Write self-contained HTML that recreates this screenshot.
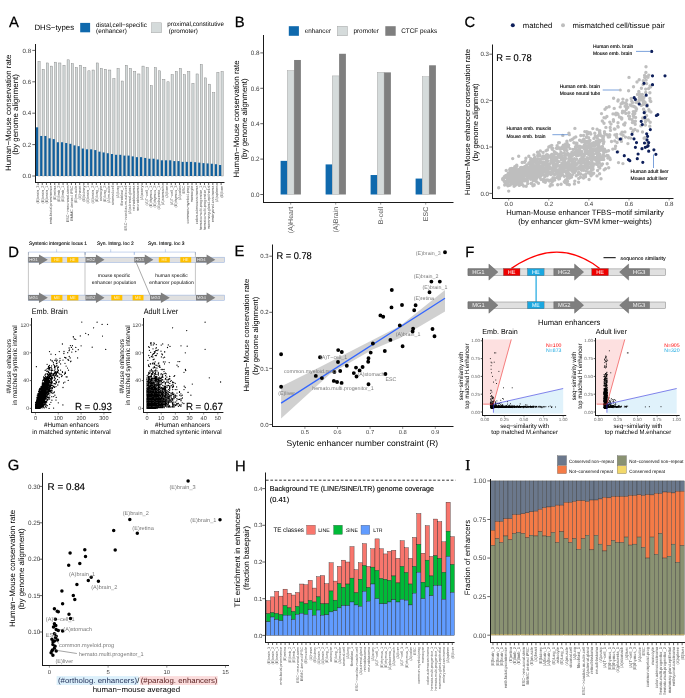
<!DOCTYPE html>
<html><head><meta charset="utf-8"><style>
html,body{margin:0;padding:0;background:#fff;}
body{width:685px;height:698px;overflow:hidden;}
svg{display:block;font-family:"Liberation Sans",sans-serif;will-change:transform;text-rendering:geometricPrecision;}
</style></head><body>
<svg width="685" height="698" viewBox="0 0 685 698">
<rect width="685" height="698" fill="#fff"/>
<text x="8.90" y="26.53" font-size="14.80" stroke="#000" stroke-width="0.25">A</text>
<text x="34.40" y="30.21" font-size="7.80">DHS−types</text>
<rect x="80.20" y="22.90" width="9.90" height="9.40" fill="#0f69ad"/>
<text x="96.10" y="26.50" font-size="6.40" textLength="50.70" lengthAdjust="spacingAndGlyphs">distal,cell−specific</text>
<text x="96.10" y="33.30" font-size="6.40" textLength="30.70" lengthAdjust="spacingAndGlyphs">(enhancer)</text>
<rect x="151.50" y="22.80" width="10.20" height="10.00" fill="#d5dbdb" stroke="#9a9a9a" stroke-width="0.4"/>
<text x="167.30" y="26.20" font-size="6.40" textLength="56.60" lengthAdjust="spacingAndGlyphs">proximal,constitutive</text>
<text x="168.70" y="33.30" font-size="6.40" textLength="29.20" lengthAdjust="spacingAndGlyphs">(promoter)</text>
<rect x="37.95" y="61.39" width="2.20" height="114.61" fill="#d3d9d9" stroke="#7a7a7a" stroke-width="0.4"/>
<rect x="42.11" y="69.24" width="2.20" height="106.76" fill="#d3d9d9" stroke="#7a7a7a" stroke-width="0.4"/>
<rect x="46.27" y="62.96" width="2.20" height="113.04" fill="#d3d9d9" stroke="#7a7a7a" stroke-width="0.4"/>
<rect x="50.43" y="66.10" width="2.20" height="109.90" fill="#d3d9d9" stroke="#7a7a7a" stroke-width="0.4"/>
<rect x="54.59" y="62.17" width="2.20" height="113.83" fill="#d3d9d9" stroke="#7a7a7a" stroke-width="0.4"/>
<rect x="58.75" y="62.96" width="2.20" height="113.04" fill="#d3d9d9" stroke="#7a7a7a" stroke-width="0.4"/>
<rect x="62.91" y="65.32" width="2.20" height="110.68" fill="#d3d9d9" stroke="#7a7a7a" stroke-width="0.4"/>
<rect x="67.07" y="59.82" width="2.20" height="116.18" fill="#d3d9d9" stroke="#7a7a7a" stroke-width="0.4"/>
<rect x="71.23" y="63.75" width="2.20" height="112.25" fill="#d3d9d9" stroke="#7a7a7a" stroke-width="0.4"/>
<rect x="75.39" y="67.67" width="2.20" height="108.33" fill="#d3d9d9" stroke="#7a7a7a" stroke-width="0.4"/>
<rect x="79.55" y="65.32" width="2.20" height="110.68" fill="#d3d9d9" stroke="#7a7a7a" stroke-width="0.4"/>
<rect x="83.71" y="67.67" width="2.20" height="108.33" fill="#d3d9d9" stroke="#7a7a7a" stroke-width="0.4"/>
<rect x="87.87" y="70.81" width="2.20" height="105.19" fill="#d3d9d9" stroke="#7a7a7a" stroke-width="0.4"/>
<rect x="92.03" y="70.02" width="2.20" height="105.98" fill="#d3d9d9" stroke="#7a7a7a" stroke-width="0.4"/>
<rect x="96.19" y="62.96" width="2.20" height="113.04" fill="#d3d9d9" stroke="#7a7a7a" stroke-width="0.4"/>
<rect x="100.35" y="68.45" width="2.20" height="107.55" fill="#d3d9d9" stroke="#7a7a7a" stroke-width="0.4"/>
<rect x="104.51" y="69.24" width="2.20" height="106.76" fill="#d3d9d9" stroke="#7a7a7a" stroke-width="0.4"/>
<rect x="108.67" y="70.02" width="2.20" height="105.98" fill="#d3d9d9" stroke="#7a7a7a" stroke-width="0.4"/>
<rect x="112.83" y="78.66" width="2.20" height="97.34" fill="#d3d9d9" stroke="#7a7a7a" stroke-width="0.4"/>
<rect x="116.99" y="68.45" width="2.20" height="107.55" fill="#d3d9d9" stroke="#7a7a7a" stroke-width="0.4"/>
<rect x="121.15" y="81.02" width="2.20" height="94.98" fill="#d3d9d9" stroke="#7a7a7a" stroke-width="0.4"/>
<rect x="125.31" y="65.32" width="2.20" height="110.68" fill="#d3d9d9" stroke="#7a7a7a" stroke-width="0.4"/>
<rect x="129.47" y="68.45" width="2.20" height="107.55" fill="#d3d9d9" stroke="#7a7a7a" stroke-width="0.4"/>
<rect x="133.63" y="71.59" width="2.20" height="104.41" fill="#d3d9d9" stroke="#7a7a7a" stroke-width="0.4"/>
<rect x="137.79" y="73.95" width="2.20" height="102.05" fill="#d3d9d9" stroke="#7a7a7a" stroke-width="0.4"/>
<rect x="141.95" y="66.10" width="2.20" height="109.90" fill="#d3d9d9" stroke="#7a7a7a" stroke-width="0.4"/>
<rect x="146.11" y="67.67" width="2.20" height="108.33" fill="#d3d9d9" stroke="#7a7a7a" stroke-width="0.4"/>
<rect x="150.27" y="85.73" width="2.20" height="90.27" fill="#d3d9d9" stroke="#7a7a7a" stroke-width="0.4"/>
<rect x="154.43" y="67.67" width="2.20" height="108.33" fill="#d3d9d9" stroke="#7a7a7a" stroke-width="0.4"/>
<rect x="158.59" y="70.81" width="2.20" height="105.19" fill="#d3d9d9" stroke="#7a7a7a" stroke-width="0.4"/>
<rect x="162.75" y="79.45" width="2.20" height="96.55" fill="#d3d9d9" stroke="#7a7a7a" stroke-width="0.4"/>
<rect x="166.91" y="81.80" width="2.20" height="94.20" fill="#d3d9d9" stroke="#7a7a7a" stroke-width="0.4"/>
<rect x="171.07" y="74.73" width="2.20" height="101.27" fill="#d3d9d9" stroke="#7a7a7a" stroke-width="0.4"/>
<rect x="175.23" y="71.59" width="2.20" height="104.41" fill="#d3d9d9" stroke="#7a7a7a" stroke-width="0.4"/>
<rect x="179.39" y="68.45" width="2.20" height="107.55" fill="#d3d9d9" stroke="#7a7a7a" stroke-width="0.4"/>
<rect x="183.55" y="74.73" width="2.20" height="101.27" fill="#d3d9d9" stroke="#7a7a7a" stroke-width="0.4"/>
<rect x="187.71" y="71.59" width="2.20" height="104.41" fill="#d3d9d9" stroke="#7a7a7a" stroke-width="0.4"/>
<rect x="191.87" y="83.37" width="2.20" height="92.63" fill="#d3d9d9" stroke="#7a7a7a" stroke-width="0.4"/>
<rect x="196.03" y="73.95" width="2.20" height="102.05" fill="#d3d9d9" stroke="#7a7a7a" stroke-width="0.4"/>
<rect x="200.19" y="64.53" width="2.20" height="111.47" fill="#d3d9d9" stroke="#7a7a7a" stroke-width="0.4"/>
<rect x="204.35" y="77.88" width="2.20" height="98.12" fill="#d3d9d9" stroke="#7a7a7a" stroke-width="0.4"/>
<rect x="208.51" y="84.16" width="2.20" height="91.84" fill="#d3d9d9" stroke="#7a7a7a" stroke-width="0.4"/>
<rect x="212.67" y="92.79" width="2.20" height="83.21" fill="#d3d9d9" stroke="#7a7a7a" stroke-width="0.4"/>
<rect x="216.83" y="72.38" width="2.20" height="103.62" fill="#d3d9d9" stroke="#7a7a7a" stroke-width="0.4"/>
<rect x="220.99" y="71.59" width="2.20" height="104.41" fill="#d3d9d9" stroke="#7a7a7a" stroke-width="0.4"/>
<rect x="36.00" y="127.33" width="2.15" height="48.67" fill="#0f5f9e"/>
<rect x="40.16" y="135.97" width="2.15" height="40.04" fill="#0f5f9e"/>
<rect x="44.32" y="135.97" width="2.15" height="40.04" fill="#0f5f9e"/>
<rect x="48.48" y="138.32" width="2.15" height="37.68" fill="#0f5f9e"/>
<rect x="52.64" y="139.11" width="2.15" height="36.89" fill="#0f5f9e"/>
<rect x="56.80" y="142.25" width="2.15" height="33.76" fill="#0f5f9e"/>
<rect x="60.96" y="142.25" width="2.15" height="33.76" fill="#0f5f9e"/>
<rect x="65.12" y="143.03" width="2.15" height="32.97" fill="#0f5f9e"/>
<rect x="69.28" y="143.81" width="2.15" height="32.18" fill="#0f5f9e"/>
<rect x="73.44" y="145.38" width="2.15" height="30.62" fill="#0f5f9e"/>
<rect x="77.60" y="146.17" width="2.15" height="29.83" fill="#0f5f9e"/>
<rect x="81.76" y="148.53" width="2.15" height="27.47" fill="#0f5f9e"/>
<rect x="85.92" y="149.31" width="2.15" height="26.69" fill="#0f5f9e"/>
<rect x="90.08" y="149.31" width="2.15" height="26.69" fill="#0f5f9e"/>
<rect x="94.24" y="150.09" width="2.15" height="25.91" fill="#0f5f9e"/>
<rect x="98.40" y="151.66" width="2.15" height="24.34" fill="#0f5f9e"/>
<rect x="102.56" y="152.45" width="2.15" height="23.55" fill="#0f5f9e"/>
<rect x="106.72" y="153.24" width="2.15" height="22.76" fill="#0f5f9e"/>
<rect x="110.88" y="154.02" width="2.15" height="21.98" fill="#0f5f9e"/>
<rect x="115.04" y="154.81" width="2.15" height="21.20" fill="#0f5f9e"/>
<rect x="119.20" y="154.81" width="2.15" height="21.20" fill="#0f5f9e"/>
<rect x="123.36" y="155.59" width="2.15" height="20.41" fill="#0f5f9e"/>
<rect x="127.52" y="155.59" width="2.15" height="20.41" fill="#0f5f9e"/>
<rect x="131.68" y="156.38" width="2.15" height="19.62" fill="#0f5f9e"/>
<rect x="135.84" y="157.16" width="2.15" height="18.84" fill="#0f5f9e"/>
<rect x="140.00" y="157.16" width="2.15" height="18.84" fill="#0f5f9e"/>
<rect x="144.16" y="157.94" width="2.15" height="18.05" fill="#0f5f9e"/>
<rect x="148.32" y="158.73" width="2.15" height="17.27" fill="#0f5f9e"/>
<rect x="152.48" y="158.73" width="2.15" height="17.27" fill="#0f5f9e"/>
<rect x="156.64" y="159.51" width="2.15" height="16.48" fill="#0f5f9e"/>
<rect x="160.80" y="160.30" width="2.15" height="15.70" fill="#0f5f9e"/>
<rect x="164.96" y="160.30" width="2.15" height="15.70" fill="#0f5f9e"/>
<rect x="169.12" y="160.30" width="2.15" height="15.70" fill="#0f5f9e"/>
<rect x="173.28" y="161.09" width="2.15" height="14.92" fill="#0f5f9e"/>
<rect x="177.44" y="161.09" width="2.15" height="14.92" fill="#0f5f9e"/>
<rect x="181.60" y="161.87" width="2.15" height="14.13" fill="#0f5f9e"/>
<rect x="185.76" y="161.87" width="2.15" height="14.13" fill="#0f5f9e"/>
<rect x="189.92" y="161.87" width="2.15" height="14.13" fill="#0f5f9e"/>
<rect x="194.08" y="162.18" width="2.15" height="13.82" fill="#0f5f9e"/>
<rect x="198.24" y="162.66" width="2.15" height="13.35" fill="#0f5f9e"/>
<rect x="202.40" y="163.13" width="2.15" height="12.87" fill="#0f5f9e"/>
<rect x="206.56" y="163.44" width="2.15" height="12.56" fill="#0f5f9e"/>
<rect x="210.72" y="163.75" width="2.15" height="12.25" fill="#0f5f9e"/>
<rect x="214.88" y="164.22" width="2.15" height="11.78" fill="#0f5f9e"/>
<rect x="219.04" y="165.01" width="2.15" height="10.99" fill="#0f5f9e"/>
<line x1="35.50" y1="44.00" x2="35.50" y2="183.00" stroke="#1a1a1a" stroke-width="1.0"/>
<line x1="35.00" y1="182.50" x2="224.50" y2="182.50" stroke="#1a1a1a" stroke-width="1.0"/>
<line x1="32.30" y1="176.00" x2="35.50" y2="176.00" stroke="#333" stroke-width="0.75"/>
<text x="31.20" y="178.23" font-size="6.20" text-anchor="end" fill="#3d3d3d">0.0</text>
<line x1="32.30" y1="144.60" x2="35.50" y2="144.60" stroke="#333" stroke-width="0.75"/>
<text x="31.20" y="146.83" font-size="6.20" text-anchor="end" fill="#3d3d3d">0.2</text>
<line x1="32.30" y1="113.20" x2="35.50" y2="113.20" stroke="#333" stroke-width="0.75"/>
<text x="31.20" y="115.43" font-size="6.20" text-anchor="end" fill="#3d3d3d">0.4</text>
<line x1="32.30" y1="81.80" x2="35.50" y2="81.80" stroke="#333" stroke-width="0.75"/>
<text x="31.20" y="84.03" font-size="6.20" text-anchor="end" fill="#3d3d3d">0.6</text>
<line x1="32.30" y1="50.40" x2="35.50" y2="50.40" stroke="#333" stroke-width="0.75"/>
<text x="31.20" y="52.63" font-size="6.20" text-anchor="end" fill="#3d3d3d">0.8</text>
<line x1="38.10" y1="182.30" x2="38.10" y2="185.00" stroke="#333" stroke-width="0.75"/>
<text x="39.49" y="185.60" font-size="3.85" text-anchor="end" fill="#555" transform="rotate(-90 39.49 185.60)">(E)brain_3</text>
<line x1="42.26" y1="182.30" x2="42.26" y2="185.00" stroke="#333" stroke-width="0.75"/>
<text x="43.65" y="185.60" font-size="3.85" text-anchor="end" fill="#555" transform="rotate(-90 43.65 185.60)">(E)brain_2</text>
<line x1="46.42" y1="182.30" x2="46.42" y2="185.00" stroke="#333" stroke-width="0.75"/>
<text x="47.81" y="185.60" font-size="3.85" text-anchor="end" fill="#555" transform="rotate(-90 47.81 185.60)">(E)brain_1</text>
<line x1="50.58" y1="182.30" x2="50.58" y2="185.00" stroke="#333" stroke-width="0.75"/>
<text x="51.97" y="185.60" font-size="3.85" text-anchor="end" fill="#555" transform="rotate(-90 51.97 185.60)">emb.facial.prominence</text>
<line x1="54.74" y1="182.30" x2="54.74" y2="185.00" stroke="#333" stroke-width="0.75"/>
<text x="56.13" y="185.60" font-size="3.85" text-anchor="end" fill="#555" transform="rotate(-90 56.13 185.60)">(E)retina</text>
<line x1="58.90" y1="182.30" x2="58.90" y2="185.00" stroke="#333" stroke-width="0.75"/>
<text x="60.29" y="185.60" font-size="3.85" text-anchor="end" fill="#555" transform="rotate(-90 60.29 185.60)">(E)limb_2</text>
<line x1="63.06" y1="182.30" x2="63.06" y2="185.00" stroke="#333" stroke-width="0.75"/>
<text x="64.45" y="185.60" font-size="3.85" text-anchor="end" fill="#555" transform="rotate(-90 64.45 185.60)">(E)limb_1</text>
<line x1="67.22" y1="182.30" x2="67.22" y2="185.00" stroke="#333" stroke-width="0.75"/>
<text x="68.61" y="185.60" font-size="3.85" text-anchor="end" fill="#555" transform="rotate(-90 68.61 185.60)">ESC−&gt;neuronal.stem</text>
<line x1="71.38" y1="182.30" x2="71.38" y2="185.00" stroke="#333" stroke-width="0.75"/>
<text x="72.77" y="185.60" font-size="3.85" text-anchor="end" fill="#555" transform="rotate(-90 72.77 185.60)">BMMC derived iPSC</text>
<line x1="75.54" y1="182.30" x2="75.54" y2="185.00" stroke="#333" stroke-width="0.75"/>
<text x="76.93" y="185.60" font-size="3.85" text-anchor="end" fill="#555" transform="rotate(-90 76.93 185.60)">(E)muscle</text>
<line x1="79.70" y1="182.30" x2="79.70" y2="185.00" stroke="#333" stroke-width="0.75"/>
<text x="81.09" y="185.60" font-size="3.85" text-anchor="end" fill="#555" transform="rotate(-90 81.09 185.60)">(A)heart</text>
<line x1="83.86" y1="182.30" x2="83.86" y2="185.00" stroke="#333" stroke-width="0.75"/>
<text x="85.25" y="185.60" font-size="3.85" text-anchor="end" fill="#555" transform="rotate(-90 85.25 185.60)">(E)kidney</text>
<line x1="88.02" y1="182.30" x2="88.02" y2="185.00" stroke="#333" stroke-width="0.75"/>
<text x="89.41" y="185.60" font-size="3.85" text-anchor="end" fill="#555" transform="rotate(-90 89.41 185.60)">(A)brain_1</text>
<line x1="92.18" y1="182.30" x2="92.18" y2="185.00" stroke="#333" stroke-width="0.75"/>
<text x="93.57" y="185.60" font-size="3.85" text-anchor="end" fill="#555" transform="rotate(-90 93.57 185.60)">(A)brain_2</text>
<line x1="96.34" y1="182.30" x2="96.34" y2="185.00" stroke="#333" stroke-width="0.75"/>
<text x="97.73" y="185.60" font-size="3.85" text-anchor="end" fill="#555" transform="rotate(-90 97.73 185.60)">(E)lung_1</text>
<line x1="100.50" y1="182.30" x2="100.50" y2="185.00" stroke="#333" stroke-width="0.75"/>
<text x="101.89" y="185.60" font-size="3.85" text-anchor="end" fill="#555" transform="rotate(-90 101.89 185.60)">astrocyte</text>
<line x1="104.66" y1="182.30" x2="104.66" y2="185.00" stroke="#333" stroke-width="0.75"/>
<text x="106.05" y="185.60" font-size="3.85" text-anchor="end" fill="#555" transform="rotate(-90 106.05 185.60)">(E)lung_2</text>
<line x1="108.82" y1="182.30" x2="108.82" y2="185.00" stroke="#333" stroke-width="0.75"/>
<text x="110.21" y="185.60" font-size="3.85" text-anchor="end" fill="#555" transform="rotate(-90 110.21 185.60)">(A)muscle</text>
<line x1="112.98" y1="182.30" x2="112.98" y2="185.00" stroke="#333" stroke-width="0.75"/>
<text x="114.37" y="185.60" font-size="3.85" text-anchor="end" fill="#555" transform="rotate(-90 114.37 185.60)">stromal.cell</text>
<line x1="117.14" y1="182.30" x2="117.14" y2="185.00" stroke="#333" stroke-width="0.75"/>
<text x="118.53" y="185.60" font-size="3.85" text-anchor="end" fill="#555" transform="rotate(-90 118.53 185.60)">(A)lung</text>
<line x1="121.30" y1="182.30" x2="121.30" y2="185.00" stroke="#333" stroke-width="0.75"/>
<text x="122.69" y="185.60" font-size="3.85" text-anchor="end" fill="#555" transform="rotate(-90 122.69 185.60)">fibroblast_1</text>
<line x1="125.46" y1="182.30" x2="125.46" y2="185.00" stroke="#333" stroke-width="0.75"/>
<text x="126.85" y="185.60" font-size="3.85" text-anchor="end" fill="#555" transform="rotate(-90 126.85 185.60)">ESC−&gt;cardiac.muscle.cell</text>
<line x1="129.62" y1="182.30" x2="129.62" y2="185.00" stroke="#333" stroke-width="0.75"/>
<text x="131.01" y="185.60" font-size="3.85" text-anchor="end" fill="#555" transform="rotate(-90 131.01 185.60)">(A)adrenal.gland</text>
<line x1="133.78" y1="182.30" x2="133.78" y2="185.00" stroke="#333" stroke-width="0.75"/>
<text x="135.17" y="185.60" font-size="3.85" text-anchor="end" fill="#555" transform="rotate(-90 135.17 185.60)">retinoblastoma</text>
<line x1="137.94" y1="182.30" x2="137.94" y2="185.00" stroke="#333" stroke-width="0.75"/>
<text x="139.33" y="185.60" font-size="3.85" text-anchor="end" fill="#555" transform="rotate(-90 139.33 185.60)">neuroblastoma</text>
<line x1="142.10" y1="182.30" x2="142.10" y2="185.00" stroke="#333" stroke-width="0.75"/>
<text x="143.49" y="185.60" font-size="3.85" text-anchor="end" fill="#555" transform="rotate(-90 143.49 185.60)">(A)ovary</text>
<line x1="146.26" y1="182.30" x2="146.26" y2="185.00" stroke="#333" stroke-width="0.75"/>
<text x="147.65" y="185.60" font-size="3.85" text-anchor="end" fill="#555" transform="rotate(-90 147.65 185.60)">(A)T−cell_1</text>
<line x1="150.42" y1="182.30" x2="150.42" y2="185.00" stroke="#333" stroke-width="0.75"/>
<text x="151.81" y="185.60" font-size="3.85" text-anchor="end" fill="#555" transform="rotate(-90 151.81 185.60)">(E)thymus_1</text>
<line x1="154.58" y1="182.30" x2="154.58" y2="185.00" stroke="#333" stroke-width="0.75"/>
<text x="155.97" y="185.60" font-size="3.85" text-anchor="end" fill="#555" transform="rotate(-90 155.97 185.60)">(E)thymus_2</text>
<line x1="158.74" y1="182.30" x2="158.74" y2="185.00" stroke="#333" stroke-width="0.75"/>
<text x="160.13" y="185.60" font-size="3.85" text-anchor="end" fill="#555" transform="rotate(-90 160.13 185.60)">(A)placenta_1</text>
<line x1="162.90" y1="182.30" x2="162.90" y2="185.00" stroke="#333" stroke-width="0.75"/>
<text x="164.29" y="185.60" font-size="3.85" text-anchor="end" fill="#555" transform="rotate(-90 164.29 185.60)">(A)stomach</text>
<line x1="167.06" y1="182.30" x2="167.06" y2="185.00" stroke="#333" stroke-width="0.75"/>
<text x="168.45" y="185.60" font-size="3.85" text-anchor="end" fill="#555" transform="rotate(-90 168.45 185.60)">(A)liver</text>
<line x1="171.22" y1="182.30" x2="171.22" y2="185.00" stroke="#333" stroke-width="0.75"/>
<text x="172.61" y="185.60" font-size="3.85" text-anchor="end" fill="#555" transform="rotate(-90 172.61 185.60)">(A)T−cell_3</text>
<line x1="175.38" y1="182.30" x2="175.38" y2="185.00" stroke="#333" stroke-width="0.75"/>
<text x="176.77" y="185.60" font-size="3.85" text-anchor="end" fill="#555" transform="rotate(-90 176.77 185.60)">(E)thymus_3</text>
<line x1="179.54" y1="182.30" x2="179.54" y2="185.00" stroke="#333" stroke-width="0.75"/>
<text x="180.93" y="185.60" font-size="3.85" text-anchor="end" fill="#555" transform="rotate(-90 180.93 185.60)">(A)colon</text>
<line x1="183.70" y1="182.30" x2="183.70" y2="185.00" stroke="#333" stroke-width="0.75"/>
<text x="185.09" y="185.60" font-size="3.85" text-anchor="end" fill="#555" transform="rotate(-90 185.09 185.60)">ESC</text>
<line x1="187.86" y1="182.30" x2="187.86" y2="185.00" stroke="#333" stroke-width="0.75"/>
<text x="189.25" y="185.60" font-size="3.85" text-anchor="end" fill="#555" transform="rotate(-90 189.25 185.60)">common.myeloid.prog</text>
<line x1="192.02" y1="182.30" x2="192.02" y2="185.00" stroke="#333" stroke-width="0.75"/>
<text x="193.41" y="185.60" font-size="3.85" text-anchor="end" fill="#555" transform="rotate(-90 193.41 185.60)">monocyte</text>
<line x1="196.18" y1="182.30" x2="196.18" y2="185.00" stroke="#333" stroke-width="0.75"/>
<text x="197.57" y="185.60" font-size="3.85" text-anchor="end" fill="#555" transform="rotate(-90 197.57 185.60)">colon.adenocarcinoma</text>
<line x1="200.34" y1="182.30" x2="200.34" y2="185.00" stroke="#333" stroke-width="0.75"/>
<text x="201.73" y="185.60" font-size="3.85" text-anchor="end" fill="#555" transform="rotate(-90 201.73 185.60)">hemato.multi.progenitor_1</text>
<line x1="204.50" y1="182.30" x2="204.50" y2="185.00" stroke="#333" stroke-width="0.75"/>
<text x="205.89" y="185.60" font-size="3.85" text-anchor="end" fill="#555" transform="rotate(-90 205.89 185.60)">hemato.multi.progenitor_2</text>
<line x1="208.66" y1="182.30" x2="208.66" y2="185.00" stroke="#333" stroke-width="0.75"/>
<text x="210.05" y="185.60" font-size="3.85" text-anchor="end" fill="#555" transform="rotate(-90 210.05 185.60)">mammary.gland.epithelial</text>
<line x1="212.82" y1="182.30" x2="212.82" y2="185.00" stroke="#333" stroke-width="0.75"/>
<text x="214.21" y="185.60" font-size="3.85" text-anchor="end" fill="#555" transform="rotate(-90 214.21 185.60)">embryonal.carcinoma</text>
<line x1="216.98" y1="182.30" x2="216.98" y2="185.00" stroke="#333" stroke-width="0.75"/>
<text x="218.37" y="185.60" font-size="3.85" text-anchor="end" fill="#555" transform="rotate(-90 218.37 185.60)">(A)spleen</text>
<line x1="221.14" y1="182.30" x2="221.14" y2="185.00" stroke="#333" stroke-width="0.75"/>
<text x="222.53" y="185.60" font-size="3.85" text-anchor="end" fill="#555" transform="rotate(-90 222.53 185.60)">(E)liver</text>
<text x="10.54" y="112.80" font-size="7.90" text-anchor="middle" transform="rotate(-90 10.54 112.80)">Human−Mouse conservation rate</text>
<text x="18.34" y="114.50" font-size="7.90" text-anchor="middle" transform="rotate(-90 18.34 114.50)">(by genome alignment)</text>
<text x="234.70" y="26.53" font-size="14.80" stroke="#000" stroke-width="0.25">B</text>
<rect x="288.80" y="26.20" width="10.10" height="9.60" fill="#0f69ad"/>
<text x="304.80" y="33.41" font-size="6.70" textLength="26.30" lengthAdjust="spacingAndGlyphs">enhancer</text>
<rect x="337.30" y="26.20" width="10.20" height="9.60" fill="#d5dbdb" stroke="#9a9a9a" stroke-width="0.4"/>
<text x="353.50" y="33.41" font-size="6.70" textLength="25.30" lengthAdjust="spacingAndGlyphs">promoter</text>
<rect x="385.30" y="26.20" width="10.40" height="9.60" fill="#7f7f7f"/>
<text x="401.20" y="33.41" font-size="6.70" textLength="35.90" lengthAdjust="spacingAndGlyphs">CTCF peaks</text>
<rect x="280.60" y="160.87" width="6.70" height="33.63" fill="#0f69ad"/>
<rect x="287.30" y="70.60" width="6.80" height="123.90" fill="#d5dbdb" stroke="#9a9a9a" stroke-width="0.4"/>
<rect x="294.10" y="59.98" width="6.80" height="134.52" fill="#7f7f7f"/>
<rect x="325.60" y="164.41" width="6.70" height="30.09" fill="#0f69ad"/>
<rect x="332.30" y="75.91" width="6.80" height="118.59" fill="#d5dbdb" stroke="#9a9a9a" stroke-width="0.4"/>
<rect x="339.10" y="53.78" width="6.80" height="140.72" fill="#7f7f7f"/>
<rect x="370.60" y="175.03" width="6.70" height="19.47" fill="#0f69ad"/>
<rect x="377.30" y="72.37" width="6.80" height="122.13" fill="#d5dbdb" stroke="#9a9a9a" stroke-width="0.4"/>
<rect x="384.10" y="72.37" width="6.80" height="122.13" fill="#7f7f7f"/>
<rect x="415.60" y="178.57" width="6.70" height="15.93" fill="#0f69ad"/>
<rect x="422.30" y="76.79" width="6.80" height="117.71" fill="#d5dbdb" stroke="#9a9a9a" stroke-width="0.4"/>
<rect x="429.10" y="65.29" width="6.80" height="129.21" fill="#7f7f7f"/>
<line x1="263.50" y1="35.00" x2="263.50" y2="203.00" stroke="#1a1a1a" stroke-width="1.0"/>
<line x1="263.00" y1="202.50" x2="453.50" y2="202.50" stroke="#1a1a1a" stroke-width="1.0"/>
<line x1="260.30" y1="194.50" x2="263.50" y2="194.50" stroke="#333" stroke-width="0.75"/>
<text x="259.40" y="196.77" font-size="6.30" text-anchor="end" fill="#3d3d3d">0.0</text>
<line x1="260.30" y1="159.10" x2="263.50" y2="159.10" stroke="#333" stroke-width="0.75"/>
<text x="259.40" y="161.37" font-size="6.30" text-anchor="end" fill="#3d3d3d">0.2</text>
<line x1="260.30" y1="123.70" x2="263.50" y2="123.70" stroke="#333" stroke-width="0.75"/>
<text x="259.40" y="125.97" font-size="6.30" text-anchor="end" fill="#3d3d3d">0.4</text>
<line x1="260.30" y1="88.30" x2="263.50" y2="88.30" stroke="#333" stroke-width="0.75"/>
<text x="259.40" y="90.57" font-size="6.30" text-anchor="end" fill="#3d3d3d">0.6</text>
<line x1="260.30" y1="52.90" x2="263.50" y2="52.90" stroke="#333" stroke-width="0.75"/>
<text x="259.40" y="55.17" font-size="6.30" text-anchor="end" fill="#3d3d3d">0.8</text>
<line x1="290.70" y1="202.40" x2="290.70" y2="204.60" stroke="#333" stroke-width="0.5"/>
<text x="293.22" y="206.80" font-size="7.00" text-anchor="end" fill="#555" transform="rotate(-90 293.22 206.80)">(A)Heart</text>
<line x1="335.70" y1="202.40" x2="335.70" y2="204.60" stroke="#333" stroke-width="0.5"/>
<text x="338.22" y="206.80" font-size="7.00" text-anchor="end" fill="#555" transform="rotate(-90 338.22 206.80)">(A)Brain</text>
<line x1="380.70" y1="202.40" x2="380.70" y2="204.60" stroke="#333" stroke-width="0.5"/>
<text x="383.22" y="206.80" font-size="7.00" text-anchor="end" fill="#555" transform="rotate(-90 383.22 206.80)">B-cell</text>
<line x1="425.70" y1="202.40" x2="425.70" y2="204.60" stroke="#333" stroke-width="0.5"/>
<text x="428.22" y="206.80" font-size="7.00" text-anchor="end" fill="#555" transform="rotate(-90 428.22 206.80)">ESC</text>
<text x="238.86" y="119.00" font-size="7.95" text-anchor="middle" transform="rotate(-90 238.86 119.00)">Human−Mouse conservation rate</text>
<text x="247.26" y="119.00" font-size="7.95" text-anchor="middle" transform="rotate(-90 247.26 119.00)">(by genome alignment)</text>
<text x="464.50" y="26.73" font-size="14.80" stroke="#000" stroke-width="0.25">C</text>
<path d="M512.8 25.2h0" stroke="#0e1f5b" stroke-width="4.00" stroke-linecap="round" fill="none"/>
<text x="522.80" y="27.97" font-size="7.70">matched</text>
<path d="M563.0 25.2h0" stroke="#bebebe" stroke-width="4.00" stroke-linecap="round" fill="none"/>
<text x="572.50" y="27.97" font-size="7.70">mismatched cell/tissue pair</text>
<path d="M530.7 175.5h0M542.3 170.0h0M518.3 176.9h0M560.0 167.2h0M572.0 161.7h0M602.0 156.7h0M628.6 90.7h0M512.6 181.0h0M598.1 150.7h0M581.2 168.2h0M572.1 164.7h0M579.6 140.2h0M547.9 168.3h0M536.5 171.3h0M537.7 163.5h0M578.8 169.0h0M608.1 155.8h0M593.0 159.2h0M516.7 182.1h0M531.5 171.2h0M559.2 154.7h0M528.3 176.5h0M576.2 175.7h0M571.8 152.4h0M554.3 151.7h0M580.2 153.4h0M524.1 172.3h0M546.8 169.8h0M642.5 132.0h0M585.8 147.6h0M534.2 169.0h0M566.9 173.8h0M579.2 149.3h0M547.1 173.2h0M603.8 153.1h0M535.4 165.7h0M603.7 136.1h0M587.3 160.4h0M599.8 154.3h0M583.2 161.0h0M514.8 166.7h0M569.6 158.4h0M539.5 167.4h0M581.7 146.9h0M540.0 162.3h0M570.5 140.2h0M558.9 173.7h0M566.3 148.6h0M563.3 158.7h0M539.5 162.2h0M590.0 140.5h0M518.9 178.0h0M543.1 169.4h0M563.8 163.5h0M552.3 184.9h0M588.9 148.0h0M565.2 163.0h0M566.4 175.7h0M571.9 167.3h0M576.3 155.6h0M597.0 152.6h0M650.4 87.1h0M522.2 162.5h0M527.0 178.8h0M586.9 145.9h0M525.1 167.3h0M598.1 135.8h0M518.7 170.5h0M625.1 122.9h0M581.0 152.3h0M594.7 146.3h0M563.3 168.4h0M530.2 172.0h0M584.7 162.5h0M534.4 167.3h0M603.4 155.3h0M599.8 132.8h0M545.8 167.1h0M523.1 176.3h0M586.1 170.8h0M566.0 172.5h0M540.3 160.4h0M634.9 106.9h0M539.6 174.2h0M601.5 165.2h0M554.7 165.2h0M511.0 173.9h0M550.9 174.6h0M559.0 161.6h0M574.0 167.2h0M583.6 170.3h0M639.3 97.3h0M591.4 155.1h0M559.8 165.8h0M517.9 170.2h0M579.1 147.7h0M541.7 172.2h0M530.8 170.1h0M600.0 133.8h0M558.4 147.6h0M575.4 151.8h0M516.5 174.1h0M556.2 153.4h0M526.4 168.5h0M535.2 159.7h0M556.0 152.9h0M562.6 174.8h0M544.7 177.1h0M516.6 184.2h0M581.1 166.3h0M511.0 177.1h0M562.0 168.2h0M544.1 167.7h0M595.1 142.6h0M634.8 113.6h0M526.0 173.3h0M643.8 100.7h0M585.8 174.2h0M518.6 169.7h0M560.3 155.9h0M596.4 153.6h0M575.8 136.9h0M515.3 168.5h0M650.0 85.9h0M590.9 147.5h0M590.4 157.2h0M524.5 173.1h0M540.6 168.1h0M509.5 180.7h0M552.8 170.0h0M514.8 174.1h0M645.5 121.7h0M569.5 160.4h0M541.3 170.5h0M570.6 177.6h0M641.4 88.2h0M547.7 157.7h0M567.5 181.3h0M584.1 141.8h0M562.0 163.0h0M635.4 121.3h0M526.1 171.1h0M523.8 177.2h0M524.6 170.5h0M548.8 173.7h0M541.9 170.0h0M513.1 172.1h0M524.2 171.1h0M556.6 171.6h0M568.4 146.4h0M504.0 177.8h0M557.1 145.8h0M529.4 162.7h0M590.5 155.8h0M569.1 158.2h0M563.3 171.0h0M515.5 168.1h0M606.9 116.5h0M614.8 140.9h0M546.2 156.8h0M589.8 148.8h0M577.2 167.9h0M530.9 172.9h0M539.8 168.9h0M589.1 179.5h0M614.2 108.4h0M598.7 161.1h0M602.5 139.4h0M559.6 169.1h0M633.8 117.1h0M553.7 179.2h0M528.9 169.9h0M530.0 172.5h0M575.8 159.9h0M567.0 182.9h0M569.2 175.6h0M597.5 152.2h0M569.2 164.5h0M569.6 174.2h0M542.2 166.7h0M534.6 175.6h0M638.5 102.0h0M581.5 162.8h0M598.1 146.9h0M593.2 165.7h0M609.8 157.9h0M588.4 172.6h0M509.7 169.8h0M550.5 168.0h0M566.9 141.2h0M539.2 172.5h0M628.6 137.7h0M575.9 170.6h0M517.6 174.3h0M559.5 177.3h0M519.8 183.7h0M580.7 154.3h0M569.5 160.6h0M615.6 146.2h0M570.4 156.6h0M546.7 173.5h0M565.6 143.9h0M544.1 174.4h0M569.0 159.6h0M520.8 172.7h0M605.0 109.3h0M622.6 102.5h0M545.3 182.2h0M519.0 170.7h0M514.1 186.3h0M528.9 175.7h0M546.7 166.3h0M599.3 163.0h0M524.9 173.0h0M515.4 175.0h0M512.6 177.9h0M603.3 139.6h0M553.2 163.7h0M603.2 157.8h0M512.6 179.5h0M589.1 166.7h0M584.9 165.8h0M583.6 146.5h0M609.6 134.6h0M573.7 171.9h0M512.3 173.9h0M590.8 134.1h0M599.1 140.3h0M601.5 113.6h0M577.7 150.1h0M542.6 173.3h0M539.8 176.6h0M568.0 169.8h0M579.7 155.1h0M605.5 168.7h0M547.9 172.7h0M596.1 141.2h0M575.3 148.7h0M592.5 154.3h0M534.2 172.8h0M626.8 100.2h0M644.7 77.4h0M559.4 142.6h0M528.7 168.7h0M522.4 176.6h0M593.6 143.9h0M547.4 180.1h0M598.3 144.7h0M587.6 164.5h0M590.4 150.3h0M575.8 168.7h0M533.7 166.1h0M568.5 173.3h0M639.0 99.9h0M578.4 152.3h0M540.7 171.5h0M560.8 155.1h0M514.8 173.6h0M565.5 171.8h0M531.1 170.6h0M538.1 165.4h0M533.2 171.3h0M591.5 174.0h0M557.4 174.2h0M591.3 170.0h0M598.6 147.3h0M590.5 156.6h0M648.2 120.0h0M515.7 167.5h0M563.5 168.0h0M542.7 165.2h0M631.2 98.5h0M565.2 156.3h0M646.6 83.6h0M540.8 174.6h0M598.7 150.2h0M568.5 176.0h0M527.3 181.6h0M621.3 117.7h0M578.4 149.8h0M620.2 106.9h0M599.1 145.9h0M564.3 149.8h0M538.9 172.4h0M513.3 175.7h0M578.3 155.4h0M524.3 172.0h0M520.2 168.4h0M591.3 146.9h0M523.9 169.8h0M598.0 156.7h0M593.1 169.2h0M603.4 143.6h0M587.5 165.6h0M638.8 91.5h0M603.7 159.4h0M572.5 159.9h0M582.1 160.0h0M509.7 176.6h0M574.3 164.7h0M511.3 182.3h0M524.7 166.6h0M606.4 151.1h0M551.9 161.5h0M550.9 161.0h0M559.8 166.4h0M565.8 145.7h0M508.6 181.4h0M508.7 172.9h0M543.5 174.3h0M574.4 183.9h0M637.6 130.9h0M526.4 167.6h0M609.8 134.9h0M561.1 167.6h0M572.5 139.2h0M523.6 186.0h0M538.7 168.7h0M534.5 180.6h0M585.4 163.6h0M600.0 157.1h0M531.5 169.6h0M642.3 94.4h0M644.1 138.3h0M524.3 180.3h0M532.5 172.9h0M520.6 171.9h0M608.7 167.7h0M644.6 75.5h0M515.8 177.1h0M640.9 125.9h0M566.9 150.6h0M548.6 164.7h0M511.8 175.4h0M588.5 162.0h0M505.1 182.8h0M509.9 173.7h0M577.2 150.2h0M557.1 177.4h0M615.9 114.7h0M581.0 165.4h0M558.8 174.6h0M601.7 157.1h0M629.5 118.7h0M531.2 164.9h0M554.0 167.7h0M636.0 107.9h0M529.0 175.6h0M516.1 167.7h0M518.4 180.6h0M583.1 157.4h0M597.9 142.7h0M507.7 176.2h0M581.4 169.8h0M503.0 178.4h0M545.2 174.9h0M521.3 168.3h0M511.8 168.5h0M571.4 156.7h0M579.3 166.8h0M576.1 147.2h0M590.3 146.8h0M551.9 148.5h0M519.3 185.4h0M561.1 184.2h0M579.5 152.0h0M540.9 159.2h0M538.0 166.3h0M597.3 138.1h0M506.4 181.4h0M547.1 162.4h0M587.0 157.8h0M529.4 178.1h0M504.2 181.2h0M591.3 148.4h0M602.6 150.0h0M522.6 174.0h0M596.2 160.1h0M579.8 146.1h0M626.7 103.9h0M589.3 144.8h0M524.0 167.6h0M515.2 176.9h0M509.3 172.6h0M535.8 171.3h0M563.2 166.5h0M507.6 179.4h0M599.2 149.8h0M509.5 184.7h0M512.6 174.5h0M550.9 179.9h0M534.0 154.9h0M560.0 173.9h0M527.9 175.9h0M576.1 159.4h0M593.5 142.8h0M539.7 154.8h0M556.7 171.9h0M562.7 170.8h0M600.4 141.1h0M531.5 183.1h0M644.5 111.1h0M561.4 169.0h0M560.6 176.0h0M551.7 154.5h0M591.6 153.6h0M593.8 150.7h0M590.3 173.1h0M589.9 173.7h0M550.6 157.4h0M629.6 116.5h0M567.2 143.5h0M548.1 174.2h0M522.9 174.1h0M511.5 180.5h0M538.4 165.7h0M588.8 152.4h0M527.7 173.4h0M632.9 114.1h0M583.9 162.0h0M554.1 156.4h0M539.8 169.0h0M602.3 121.0h0M532.7 178.2h0M604.0 117.6h0M529.4 170.1h0M566.0 165.7h0M543.3 162.3h0M594.8 133.2h0M521.9 182.4h0M599.8 168.1h0M521.6 175.1h0M540.1 178.0h0M579.9 162.0h0M546.6 162.4h0M584.3 155.5h0M593.2 153.7h0M603.3 137.8h0M537.8 169.7h0M591.3 144.8h0M516.0 169.8h0M513.7 179.0h0M531.8 170.6h0M636.6 108.9h0M618.0 114.3h0M597.1 129.3h0M582.4 161.3h0M583.5 148.0h0M525.8 179.5h0M543.6 181.6h0M559.8 147.9h0M569.4 159.0h0M618.5 162.6h0M518.7 183.5h0M568.2 153.6h0M520.7 180.6h0M522.0 175.1h0M510.3 181.6h0M519.2 173.6h0M565.7 163.3h0M641.5 96.7h0M549.8 163.7h0M526.2 186.2h0M645.9 72.4h0M583.6 135.5h0M567.6 178.2h0M506.2 170.4h0M568.8 155.2h0M510.1 176.8h0M534.4 161.9h0M587.2 134.2h0M579.8 168.1h0M526.9 170.9h0M567.1 146.4h0M588.7 167.5h0M520.2 171.0h0M522.2 170.3h0M542.3 173.3h0M511.8 179.3h0M519.0 175.0h0M545.8 163.0h0M578.6 172.6h0M559.7 172.0h0M534.4 158.2h0M533.6 169.2h0M503.7 180.3h0M512.9 177.8h0M564.4 164.4h0M591.9 151.9h0M576.6 158.9h0M613.0 113.9h0M557.3 147.1h0M532.2 160.9h0M540.2 168.7h0M544.3 171.6h0M557.1 153.7h0M552.8 148.4h0M556.6 170.6h0M525.9 175.8h0M538.0 161.6h0M594.7 157.5h0M566.5 167.7h0M586.7 131.7h0M562.3 172.4h0M549.2 165.3h0M600.7 140.8h0M639.0 102.0h0M603.3 151.3h0M532.0 167.0h0M542.0 171.9h0M593.9 138.4h0M546.2 161.0h0M529.8 175.8h0M547.3 158.1h0M530.9 163.0h0M537.4 164.6h0M544.5 164.4h0M591.0 144.2h0M598.6 144.4h0M552.1 154.4h0M567.5 175.5h0M538.7 163.7h0M591.0 165.4h0M571.1 167.1h0M543.3 155.9h0M650.8 101.5h0M529.6 167.0h0M530.3 161.8h0M542.8 172.7h0M576.4 155.1h0M572.5 155.4h0M565.1 182.5h0M538.6 169.6h0M592.0 145.9h0M599.6 133.2h0M625.1 106.2h0M535.7 166.3h0M580.0 163.0h0M515.8 170.9h0M632.5 131.9h0M516.0 171.4h0M556.9 148.6h0M548.1 169.8h0M528.4 175.9h0M622.6 111.1h0M617.1 142.5h0M531.9 174.0h0M538.1 164.1h0M597.3 149.6h0M531.3 173.0h0M516.1 168.9h0M601.1 135.8h0M615.1 148.6h0M543.3 163.5h0M645.1 111.6h0M566.8 153.6h0M525.4 173.4h0M650.5 86.9h0M520.8 172.6h0M507.8 180.4h0M568.5 163.3h0M561.7 164.5h0M642.7 118.0h0M538.0 158.6h0M560.9 152.2h0M547.7 172.4h0M573.9 170.1h0M511.1 173.4h0M648.0 77.2h0M563.4 145.1h0M523.9 168.8h0M584.5 149.2h0M569.3 154.4h0M572.0 160.5h0M574.9 165.4h0M533.4 172.6h0M647.0 106.4h0M561.2 154.6h0M584.8 131.6h0M572.8 162.2h0M534.1 185.3h0M511.6 169.5h0M522.5 184.7h0M511.7 182.5h0M535.4 178.9h0M526.5 168.3h0M570.7 160.8h0M547.2 169.0h0M522.5 173.7h0M592.3 143.4h0M512.3 178.9h0M520.1 180.5h0M544.3 175.4h0M533.8 168.8h0M631.9 119.6h0M564.5 162.5h0M515.8 167.3h0M586.5 137.2h0M524.5 162.2h0M546.7 161.5h0M564.2 148.2h0M511.8 177.3h0M551.3 168.3h0M571.9 170.5h0M574.8 169.0h0M573.9 142.7h0M577.5 153.5h0M635.2 124.2h0M614.3 129.0h0M547.8 179.9h0M576.0 168.7h0M530.7 179.2h0M616.6 137.3h0M574.6 172.5h0M506.7 178.1h0M550.8 172.6h0M569.3 184.7h0M507.3 180.6h0M596.8 161.4h0M554.4 159.6h0M532.9 185.7h0M597.0 175.9h0M509.8 181.4h0M592.6 149.4h0M591.1 153.8h0M601.8 140.5h0M597.5 142.6h0M585.5 176.8h0M532.3 172.0h0M510.3 185.0h0M535.4 158.9h0M549.3 181.0h0M596.4 159.4h0M541.3 162.7h0M592.9 167.1h0M575.5 163.7h0M599.1 153.8h0M538.5 183.2h0M554.2 156.1h0M571.5 154.2h0M618.0 122.8h0M511.5 183.7h0M633.5 115.9h0M602.9 148.7h0M574.3 158.7h0M514.2 171.5h0M601.0 178.8h0M627.8 107.4h0M518.8 182.1h0M643.3 80.8h0M553.8 170.2h0M598.7 156.2h0M552.4 181.4h0M520.3 176.8h0M583.7 175.3h0M569.3 166.9h0M578.6 182.3h0M572.5 174.6h0M521.4 183.3h0M565.8 147.3h0M534.9 157.4h0M516.1 174.4h0M515.1 181.2h0M599.2 154.6h0M561.5 159.4h0M622.9 163.6h0M531.2 166.8h0M508.2 173.2h0M534.6 174.9h0M516.8 182.7h0M516.0 176.6h0M558.1 172.0h0M575.1 154.4h0M536.5 166.3h0M611.5 141.5h0M582.5 162.6h0M530.3 164.9h0M586.0 167.8h0M544.8 158.6h0M550.9 184.2h0M608.5 150.8h0M507.1 175.3h0M581.1 158.7h0M585.4 151.4h0M561.9 155.7h0M534.2 184.7h0M534.1 176.7h0M601.6 147.5h0M554.7 180.1h0M540.0 176.4h0M553.2 159.5h0M551.5 158.2h0M586.5 159.6h0M509.7 173.8h0M576.1 153.8h0M525.2 175.8h0M589.3 158.0h0M517.4 178.7h0M557.2 163.8h0M591.5 172.9h0M595.4 150.5h0M595.2 136.2h0M578.9 153.8h0M597.4 149.5h0M541.3 166.7h0M514.5 178.0h0M528.8 167.1h0M507.8 185.7h0M568.7 145.3h0M591.3 168.0h0M586.7 167.6h0M518.6 172.3h0M528.0 175.8h0M569.3 156.4h0M583.4 157.8h0M536.5 178.5h0M624.5 125.0h0M599.1 160.8h0M536.3 168.7h0M542.5 158.9h0M607.2 163.8h0M524.5 180.7h0M637.5 94.4h0M577.5 163.5h0M539.1 164.0h0M588.9 143.4h0M530.7 159.3h0M546.7 170.1h0M510.8 183.2h0M555.0 167.0h0M526.8 164.9h0M617.9 101.1h0M640.7 99.4h0M553.0 177.8h0M586.5 150.1h0M533.1 176.3h0M513.8 168.1h0M580.4 153.1h0M623.1 103.0h0M585.3 166.4h0M526.4 168.0h0M553.9 169.3h0M620.9 134.0h0M644.9 137.8h0M621.1 103.7h0M542.3 162.9h0M520.7 178.7h0M626.4 109.2h0M531.8 179.0h0M517.7 172.2h0M597.8 154.3h0M628.9 112.7h0M553.0 170.5h0M637.9 102.4h0M581.9 158.3h0M585.5 149.4h0M555.1 153.3h0M580.9 168.3h0M552.1 162.7h0M524.4 167.5h0M591.2 156.5h0M512.3 183.0h0M551.7 171.7h0M509.6 181.2h0M578.3 174.2h0M532.0 159.5h0M576.4 152.4h0M587.4 163.5h0M506.8 178.1h0M583.0 139.9h0M539.8 155.8h0M602.7 149.6h0M650.2 122.3h0M551.2 160.4h0M513.7 182.7h0M582.7 157.4h0M579.6 162.3h0M531.5 163.5h0M522.9 180.8h0M583.5 178.0h0M561.6 148.6h0M556.8 165.3h0M633.5 121.8h0M589.8 147.3h0M578.7 178.4h0M619.1 139.3h0M557.8 162.3h0M567.2 146.5h0M609.5 136.8h0M536.1 161.1h0M520.3 168.6h0M595.7 160.1h0M536.8 175.1h0M617.8 151.6h0M626.5 105.3h0M587.1 166.5h0M509.0 173.4h0M625.5 137.1h0M535.6 175.1h0M582.2 140.6h0M513.9 171.4h0M571.6 170.4h0M550.8 155.9h0M514.2 172.7h0M553.3 155.9h0M516.7 165.1h0M531.8 174.5h0M564.7 160.9h0M537.4 172.7h0M569.5 164.5h0M557.5 157.0h0M556.9 158.7h0M534.5 177.5h0M639.0 92.1h0M546.8 173.3h0M598.3 155.9h0M502.7 178.8h0M574.1 169.3h0M534.0 170.3h0M520.9 184.2h0M522.6 167.6h0M650.1 100.8h0M553.1 164.7h0M585.4 166.8h0M630.2 105.0h0M525.3 161.0h0M586.4 142.8h0M640.6 96.0h0M550.2 146.1h0M545.9 171.4h0M591.8 172.7h0M592.0 162.2h0M532.2 170.8h0M584.8 145.0h0M602.4 146.4h0M514.4 179.9h0M553.2 173.5h0M568.5 155.1h0M519.6 185.0h0M508.8 185.6h0M599.8 130.7h0M531.2 183.6h0M564.8 154.7h0M526.9 167.0h0M580.8 173.9h0M542.6 166.3h0M540.5 166.7h0M636.0 102.4h0M592.8 128.6h0M645.7 92.5h0M543.8 171.3h0M603.2 154.9h0M511.0 179.5h0M590.1 149.5h0M534.9 175.2h0M553.8 174.3h0M535.6 159.8h0M588.0 141.3h0M586.8 153.6h0M585.3 153.0h0M508.1 180.9h0M599.6 173.7h0M647.7 143.2h0M576.9 143.3h0M631.8 105.9h0M548.1 169.8h0M643.1 84.6h0M606.4 107.7h0M597.6 170.5h0M560.5 171.6h0M557.4 166.1h0M570.0 169.7h0M533.8 170.2h0M578.6 146.7h0M579.8 148.8h0M512.4 176.7h0M550.0 186.1h0M571.6 167.8h0M592.8 158.3h0M558.6 142.7h0M567.5 181.6h0M602.5 163.9h0M547.6 173.2h0M568.7 162.0h0M549.5 156.7h0M513.2 182.2h0M521.1 169.1h0M509.5 173.3h0M511.7 177.0h0M542.0 166.1h0M571.0 155.7h0M519.6 175.8h0M606.8 134.7h0M581.7 170.2h0M599.7 150.5h0M617.3 113.4h0M571.6 177.0h0M564.3 164.4h0M604.0 123.3h0M597.2 157.2h0M528.9 173.4h0M541.7 166.7h0M597.4 144.1h0M509.0 175.2h0M585.4 163.1h0M504.5 177.6h0M633.7 130.3h0M584.4 145.0h0M622.1 132.1h0M584.5 159.4h0M586.2 170.6h0M565.2 170.9h0M550.0 172.9h0M542.2 158.3h0M587.9 132.2h0M523.0 180.4h0M551.1 173.2h0M569.9 148.6h0M562.4 158.5h0M580.6 159.1h0M589.3 151.7h0M521.2 172.7h0M597.3 148.5h0M565.8 158.4h0M599.9 156.6h0M585.2 141.0h0M564.8 166.8h0M595.5 157.8h0M648.9 109.6h0M609.8 122.1h0M621.4 141.4h0M574.7 162.3h0M530.8 158.7h0M525.8 170.0h0M536.6 172.3h0M604.1 156.4h0M591.8 156.3h0M533.0 173.9h0M610.2 159.5h0M533.4 180.6h0M583.4 166.0h0M592.0 150.3h0M543.7 156.5h0M583.4 177.6h0M643.7 109.4h0M645.7 89.1h0M522.0 167.7h0M533.0 177.0h0M587.2 164.1h0M554.3 161.7h0M527.2 181.2h0M535.5 177.3h0M589.0 172.3h0M599.5 131.4h0M516.0 169.6h0M649.9 98.5h0M568.0 155.0h0M525.8 170.5h0M520.2 171.4h0M576.6 149.8h0M524.5 168.2h0M586.2 151.9h0M552.0 167.6h0M624.9 131.9h0M603.9 141.7h0M514.5 172.8h0M515.8 172.1h0M594.7 158.9h0M548.9 171.7h0M601.3 148.6h0M622.4 112.7h0M571.2 164.7h0M623.7 124.4h0M623.1 135.2h0M627.9 143.6h0M581.7 151.5h0M530.8 169.7h0M569.5 166.8h0M533.8 159.8h0M541.4 168.4h0M530.5 177.3h0M553.2 158.9h0M580.9 159.5h0M530.9 176.0h0M621.8 118.1h0M527.4 179.1h0M521.2 167.4h0M643.5 109.3h0M588.8 163.5h0M643.9 97.4h0M541.7 166.3h0M570.7 160.3h0M571.0 158.4h0M574.0 137.9h0M586.8 159.3h0M519.1 174.9h0M605.9 127.4h0M576.2 146.2h0M553.4 164.3h0M531.4 162.0h0M511.7 171.8h0M539.8 161.6h0M563.6 163.0h0M587.8 161.7h0M596.2 151.6h0M526.2 171.3h0M582.8 147.4h0M511.8 169.9h0M593.5 154.5h0M508.2 177.7h0M645.1 102.5h0M540.2 174.2h0M528.4 172.5h0M549.8 155.9h0M509.8 169.8h0M587.3 167.1h0M526.5 170.0h0M557.5 170.4h0M507.6 185.0h0M578.3 163.1h0M641.3 105.4h0M512.3 175.0h0M587.1 147.2h0M569.6 164.8h0M504.3 176.7h0M556.9 157.1h0M646.2 76.6h0M621.6 138.8h0M546.7 161.9h0M580.8 135.5h0M528.5 170.3h0M599.7 142.1h0M599.7 132.3h0M631.8 101.2h0M575.2 168.7h0M590.2 132.8h0M571.9 168.5h0M592.2 150.8h0M535.4 162.2h0M505.0 176.2h0M556.1 171.7h0M608.3 137.1h0M559.5 157.2h0M533.9 174.0h0M587.4 141.7h0M528.9 162.9h0M556.7 172.5h0M592.9 174.0h0M526.7 179.7h0M540.3 150.9h0M527.8 183.6h0M564.2 176.2h0M543.6 162.8h0M563.7 162.0h0M546.7 164.4h0M645.2 119.1h0M530.5 165.1h0M601.7 159.4h0M531.2 170.9h0M537.4 162.1h0M580.4 159.1h0M564.3 181.7h0M572.1 171.3h0M532.6 177.5h0M604.5 131.7h0M552.2 149.2h0M538.4 171.8h0M568.2 161.8h0M558.5 156.5h0M602.3 150.3h0M632.5 102.5h0M564.3 152.9h0M618.2 127.1h0M537.1 176.8h0M532.9 163.0h0M590.1 148.6h0M564.0 159.3h0M619.4 117.0h0M610.2 127.5h0M567.1 184.2h0M565.6 180.0h0M598.4 151.8h0M510.1 181.0h0M508.3 181.2h0M604.5 149.3h0M613.4 119.8h0M589.2 142.1h0M532.6 177.5h0M524.4 169.8h0M561.2 166.8h0M553.7 155.2h0M642.5 98.7h0M565.1 164.2h0M614.9 134.9h0M605.0 150.1h0M606.4 151.5h0M574.8 181.1h0M598.7 166.8h0M601.1 165.0h0M594.3 164.0h0M543.1 152.4h0M578.1 162.7h0M633.4 106.2h0M546.8 180.0h0M547.3 154.6h0M564.8 150.1h0M527.9 168.7h0M515.1 185.5h0M541.4 162.5h0M646.1 80.1h0M507.3 182.8h0M609.1 106.8h0M547.6 160.8h0M599.0 151.1h0M583.8 139.1h0M551.8 145.4h0M583.5 154.3h0M533.6 166.6h0M595.2 149.4h0M597.8 145.3h0M527.4 180.7h0M618.2 99.9h0M628.6 115.9h0M589.7 163.0h0M588.4 152.6h0M507.3 176.8h0M536.3 168.4h0M532.3 161.3h0M520.5 167.8h0M514.8 170.5h0M575.5 146.6h0M563.9 171.3h0M541.0 176.0h0M523.7 176.5h0M529.3 163.5h0M576.3 169.3h0M512.6 168.6h0M546.0 164.6h0M516.9 166.1h0M564.3 171.3h0M638.2 102.4h0M514.9 178.0h0M592.5 154.7h0M516.8 173.4h0M510.3 177.6h0M541.1 179.6h0M533.4 164.9h0M599.3 159.9h0M551.6 154.6h0M528.7 168.4h0M509.2 180.8h0M646.6 115.6h0M557.1 160.8h0M592.5 148.6h0M511.7 177.9h0M650.9 112.0h0M563.0 159.0h0M532.9 171.1h0M588.8 158.5h0M570.0 166.8h0M514.7 169.0h0M643.4 104.4h0M569.5 157.9h0M597.0 161.9h0M554.4 177.9h0M583.5 159.4h0M547.1 175.7h0M642.0 100.1h0M604.6 133.3h0M554.4 170.0h0M544.4 180.5h0M595.2 158.6h0M625.5 102.9h0M598.7 160.3h0M559.9 149.0h0M602.4 136.5h0M599.6 148.0h0M590.5 147.1h0M635.6 117.4h0M520.9 176.3h0M635.9 110.8h0M608.6 150.6h0M530.2 161.7h0M576.6 164.6h0M537.4 163.8h0M595.6 144.5h0M554.1 163.4h0M561.4 153.2h0M604.2 169.7h0M571.1 155.8h0M525.9 158.3h0M588.7 137.7h0M575.6 143.2h0M592.5 163.5h0M605.3 117.9h0M513.6 184.3h0M536.6 181.7h0M643.4 102.5h0M587.6 133.9h0M613.5 121.2h0M591.3 159.8h0M583.2 167.7h0M527.1 175.0h0M537.7 155.5h0M560.0 168.5h0M526.8 171.5h0M519.5 177.4h0M559.5 178.7h0M516.1 180.2h0M522.7 169.1h0M504.7 177.4h0M539.1 176.6h0M532.7 169.8h0M591.1 175.8h0M543.3 179.4h0M568.0 172.3h0M630.7 138.1h0M575.0 172.0h0M599.8 154.3h0M632.4 122.5h0M606.9 155.5h0M588.6 154.5h0M521.5 177.1h0M516.8 179.7h0M581.0 160.8h0M586.2 147.9h0M547.4 149.9h0M622.9 99.1h0M537.1 172.7h0M630.9 128.4h0M577.9 146.0h0M542.9 156.5h0M567.7 164.9h0M566.9 164.2h0M649.1 110.9h0M633.5 86.7h0M545.5 162.3h0M507.5 182.0h0M578.8 172.4h0M551.3 160.9h0M546.1 150.8h0M558.8 179.0h0M590.5 157.4h0M593.0 164.6h0M529.7 167.8h0M590.2 162.6h0M617.8 126.5h0M625.8 113.4h0M511.2 179.4h0M506.7 181.9h0M579.1 161.0h0M610.5 130.4h0M597.3 164.4h0M516.0 177.9h0M648.6 88.6h0M577.8 150.5h0M532.8 176.7h0M562.3 147.0h0M523.7 178.4h0M515.3 169.9h0M510.5 175.5h0M634.9 129.4h0M621.7 119.0h0M647.1 104.6h0M593.7 173.3h0M611.0 124.1h0M572.3 159.5h0M509.7 181.6h0M546.3 171.2h0M510.3 168.6h0M580.5 177.2h0M522.6 178.5h0M545.7 168.3h0M597.4 154.9h0M540.0 168.3h0M573.3 152.8h0M582.0 157.1h0M547.4 156.4h0M538.3 166.8h0M530.7 169.7h0M517.6 174.5h0M645.4 125.0h0M597.9 158.2h0M581.8 141.9h0M564.3 168.6h0M586.3 153.2h0M527.8 177.5h0M612.8 149.1h0M545.3 175.4h0M615.0 129.1h0M549.6 167.1h0M556.5 166.6h0M569.1 178.3h0M521.6 178.1h0M511.0 181.6h0M560.3 157.0h0M596.9 164.4h0M580.5 165.9h0M572.2 162.7h0M589.2 158.4h0M541.9 174.5h0M595.5 157.6h0M649.8 126.3h0M538.1 172.2h0M538.5 170.3h0M511.2 176.2h0M573.0 149.4h0M544.1 181.4h0M582.4 161.4h0M551.9 161.8h0M578.2 146.8h0M565.5 155.3h0M633.3 111.6h0M522.8 170.7h0M592.0 151.9h0M587.2 169.3h0M514.4 177.4h0M557.7 184.8h0M624.7 111.7h0M589.4 151.2h0M537.5 152.3h0M640.0 97.0h0M546.3 169.4h0M580.0 160.7h0M509.8 178.0h0M578.5 168.7h0M528.2 169.7h0M581.2 159.4h0M524.5 172.3h0M556.6 169.6h0M505.6 175.8h0M558.1 176.8h0M607.8 158.0h0M511.5 179.7h0M616.7 134.5h0M539.6 169.4h0M538.8 171.8h0M555.5 173.9h0M522.3 174.0h0M554.9 174.5h0M556.5 148.3h0M512.2 180.1h0M616.0 113.2h0M554.0 157.6h0M512.9 174.3h0M546.4 155.0h0M552.1 169.3h0M551.0 168.8h0M562.1 157.0h0M526.2 166.0h0M498.7 187.8h0M502.7 179.5h0M504.7 185.0h0M508.7 191.1h0M512.7 158.6h0M518.7 156.3h0M629.0 77.4h0M637.0 82.0h0M568.9 133.1h0M574.9 128.4h0M562.8 135.4h0M548.8 147.0h0M538.8 154.0h0M528.8 156.3h0M646.0 66.7h0M648.8 75.1h0M639.2 79.7h0M649.9 92.7h0M640.6 94.6h0M613.6 98.3h0" stroke="#bebebe" stroke-width="3.40" stroke-linecap="round" fill="none"/>
<path d="M651.7 51.4h0M665.0 75.8h0M652.5 75.8h0M644.0 83.3h0M652.5 84.7h0M646.2 95.2h0M634.2 97.7h0M635.4 99.4h0M639.2 104.0h0M647.0 105.5h0M644.2 112.7h0M657.8 114.6h0M656.4 115.5h0M644.8 117.4h0M641.2 121.3h0M642.3 124.6h0M650.3 129.6h0M646.7 133.8h0M632.0 134.3h0M647.6 136.3h0M620.4 139.0h0M634.0 138.8h0M647.0 139.9h0M644.5 143.0h0M648.7 142.6h0M636.5 142.6h0M647.3 146.5h0M645.3 147.3h0M648.1 145.7h0M635.4 147.3h0M653.9 149.8h0M648.7 151.2h0M642.0 148.7h0M617.3 152.0h0M638.1 154.0h0M655.9 154.3h0M624.3 155.7h0M628.4 159.6h0M629.8 160.7h0M637.3 158.7h0M642.8 162.3h0" stroke="#0e1f5b" stroke-width="3.20" stroke-linecap="round" fill="none"/>
<text x="593.00" y="48.06" font-size="4.90" stroke="#000" stroke-width="0.12">Human emb. brain</text>
<text x="593.00" y="54.96" font-size="4.90" stroke="#000" stroke-width="0.12">Mouse emb. brain</text>
<line x1="636.00" y1="51.40" x2="650.50" y2="51.40" stroke="#5a8ad2" stroke-width="0.8"/>
<text x="559.80" y="88.06" font-size="4.90" stroke="#000" stroke-width="0.12">Human emb. brain</text>
<text x="559.80" y="94.96" font-size="4.90" stroke="#000" stroke-width="0.12">Mouse neural tube</text>
<line x1="602.70" y1="90.00" x2="619.50" y2="90.00" stroke="#5a8ad2" stroke-width="0.8"/>
<path d="M620.3 90.0h0" stroke="#bebebe" stroke-width="3.10" stroke-linecap="round" fill="none"/>
<text x="506.40" y="130.36" font-size="4.90" stroke="#000" stroke-width="0.12">Human emb. muscle</text>
<text x="506.40" y="137.56" font-size="4.90" stroke="#000" stroke-width="0.12">Mouse emb. brain</text>
<line x1="552.40" y1="134.70" x2="568.50" y2="134.70" stroke="#5a8ad2" stroke-width="0.8"/>
<path d="M569.4 134.7h0" stroke="#bebebe" stroke-width="3.10" stroke-linecap="round" fill="none"/>
<text x="630.60" y="172.96" font-size="4.90" stroke="#000" stroke-width="0.12">Human adult liver</text>
<text x="630.60" y="180.16" font-size="4.90" stroke="#000" stroke-width="0.12">Mouse adult liver</text>
<line x1="653.50" y1="154.50" x2="653.50" y2="168.00" stroke="#5a8ad2" stroke-width="0.8"/>
<text x="496.20" y="61.13" font-size="9.80" textLength="35.40" lengthAdjust="spacingAndGlyphs" stroke="#000" stroke-width="0.15">R = 0.78</text>
<line x1="492.50" y1="44.50" x2="492.50" y2="199.00" stroke="#1a1a1a" stroke-width="1.0"/>
<line x1="492.00" y1="198.50" x2="673.50" y2="198.50" stroke="#1a1a1a" stroke-width="1.0"/>
<line x1="489.30" y1="193.40" x2="492.50" y2="193.40" stroke="#333" stroke-width="0.75"/>
<text x="489.00" y="195.63" font-size="6.20" text-anchor="end" fill="#3d3d3d">0.0</text>
<line x1="489.30" y1="147.00" x2="492.50" y2="147.00" stroke="#333" stroke-width="0.75"/>
<text x="489.00" y="149.23" font-size="6.20" text-anchor="end" fill="#3d3d3d">0.1</text>
<line x1="489.30" y1="100.60" x2="492.50" y2="100.60" stroke="#333" stroke-width="0.75"/>
<text x="489.00" y="102.83" font-size="6.20" text-anchor="end" fill="#3d3d3d">0.2</text>
<line x1="489.30" y1="54.20" x2="492.50" y2="54.20" stroke="#333" stroke-width="0.75"/>
<text x="489.00" y="56.43" font-size="6.20" text-anchor="end" fill="#3d3d3d">0.3</text>
<line x1="508.70" y1="198.20" x2="508.70" y2="200.60" stroke="#333" stroke-width="0.5"/>
<text x="508.70" y="206.23" font-size="6.20" text-anchor="middle" fill="#3d3d3d">0.0</text>
<line x1="548.80" y1="198.20" x2="548.80" y2="200.60" stroke="#333" stroke-width="0.5"/>
<text x="548.80" y="206.23" font-size="6.20" text-anchor="middle" fill="#3d3d3d">0.2</text>
<line x1="588.90" y1="198.20" x2="588.90" y2="200.60" stroke="#333" stroke-width="0.5"/>
<text x="588.90" y="206.23" font-size="6.20" text-anchor="middle" fill="#3d3d3d">0.4</text>
<line x1="629.00" y1="198.20" x2="629.00" y2="200.60" stroke="#333" stroke-width="0.5"/>
<text x="629.00" y="206.23" font-size="6.20" text-anchor="middle" fill="#3d3d3d">0.6</text>
<line x1="669.10" y1="198.20" x2="669.10" y2="200.60" stroke="#333" stroke-width="0.5"/>
<text x="669.10" y="206.23" font-size="6.20" text-anchor="middle" fill="#3d3d3d">0.8</text>
<text x="585.00" y="215.34" font-size="7.60" text-anchor="middle">Human-Mouse enhancer TFBS−motif similarity</text>
<text x="585.00" y="224.34" font-size="7.60" text-anchor="middle">(by enhancer gkm−SVM kmer−weights)</text>
<text x="469.94" y="122.00" font-size="7.60" text-anchor="middle" transform="rotate(-90 469.94 122.00)">Human−Mouse enhancer conservation rate</text>
<text x="478.24" y="122.30" font-size="7.60" text-anchor="middle" transform="rotate(-90 478.24 122.30)">(by genome alignment)</text>
<text x="8.20" y="256.53" font-size="14.80" stroke="#000" stroke-width="0.25">D</text>
<path d="M28.5 254.8V252.1H84.8V254.8M56.6 252.1V249.2" fill="none" stroke="#8eaadb" stroke-width="0.5"/>
<path d="M85.5 254.8V252.1H134.3V254.8M110.7 252.1V249.2" fill="none" stroke="#8eaadb" stroke-width="0.5"/>
<path d="M134.3 254.8V252.1H195.4V254.8M165.4 252.1V249.2" fill="none" stroke="#8eaadb" stroke-width="0.5"/>
<text x="28.90" y="244.96" font-size="4.90" stroke="#000" stroke-width="0.1">Syntenic intergenic locus 1</text>
<text x="97.00" y="245.36" font-size="4.90" stroke="#000" stroke-width="0.1">Syn. Interg. loc 2</text>
<text x="147.90" y="245.06" font-size="4.90" stroke="#000" stroke-width="0.1">Syn. Interg. loc 3</text>
<line x1="28.40" y1="252.10" x2="28.40" y2="296.00" stroke="#7f7f7f" stroke-width="0.45"/>
<line x1="85.00" y1="252.10" x2="85.00" y2="296.00" stroke="#7f7f7f" stroke-width="0.45"/>
<line x1="195.40" y1="252.10" x2="195.40" y2="296.00" stroke="#7f7f7f" stroke-width="0.45"/>
<line x1="134.30" y1="258.00" x2="150.00" y2="295.00" stroke="#404040" stroke-width="0.45"/>
<rect x="28.20" y="257.20" width="196.30" height="5.20" fill="#e0e0e0" stroke="#8eaadb" stroke-width="0.5"/>
<rect x="28.20" y="295.10" width="196.30" height="5.20" fill="#e0e0e0" stroke="#8eaadb" stroke-width="0.5"/>
<polygon points="28.20,257.10 38.98,257.10 38.98,254.60 47.80,259.80 38.98,265.00 38.98,262.50 28.20,262.50" fill="#7f7f7f"/>
<text x="33.59" y="261.31" font-size="4.20" text-anchor="middle" fill="#f2f2f2">HG1</text>
<polygon points="85.50,257.10 95.95,257.10 95.95,254.60 104.50,259.80 95.95,265.00 95.95,262.50 85.50,262.50" fill="#7f7f7f"/>
<text x="90.72" y="261.31" font-size="4.20" text-anchor="middle" fill="#f2f2f2">HG2</text>
<polygon points="134.30,257.10 144.81,257.10 144.81,254.60 153.40,259.80 144.81,265.00 144.81,262.50 134.30,262.50" fill="#7f7f7f"/>
<text x="139.55" y="261.31" font-size="4.20" text-anchor="middle" fill="#f2f2f2">HG3</text>
<polygon points="196.00,257.10 206.62,257.10 206.62,254.60 215.30,259.80 206.62,265.00 206.62,262.50 196.00,262.50" fill="#7f7f7f"/>
<text x="201.31" y="261.31" font-size="4.20" text-anchor="middle" fill="#f2f2f2">HG4</text>
<rect x="51.20" y="257.10" width="11.20" height="5.40" fill="#ffc000"/>
<text x="56.80" y="261.24" font-size="4.00" text-anchor="middle" fill="#fff5d6">HE</text>
<rect x="67.10" y="257.10" width="11.30" height="5.40" fill="#ffc000"/>
<text x="72.75" y="261.24" font-size="4.00" text-anchor="middle" fill="#fff5d6">HE</text>
<rect x="158.80" y="257.10" width="11.00" height="5.40" fill="#ffc000"/>
<text x="164.30" y="261.24" font-size="4.00" text-anchor="middle" fill="#fff5d6">HE</text>
<rect x="180.30" y="257.10" width="10.90" height="5.40" fill="#ffc000"/>
<text x="185.75" y="261.24" font-size="4.00" text-anchor="middle" fill="#fff5d6">HE</text>
<polygon points="28.20,295.00 38.98,295.00 38.98,292.50 47.80,297.70 38.98,302.90 38.98,300.40 28.20,300.40" fill="#7f7f7f"/>
<text x="33.59" y="299.21" font-size="4.20" text-anchor="middle" fill="#f2f2f2">MG1</text>
<polygon points="85.50,295.00 95.95,295.00 95.95,292.50 104.50,297.70 95.95,302.90 95.95,300.40 85.50,300.40" fill="#7f7f7f"/>
<text x="90.72" y="299.21" font-size="4.20" text-anchor="middle" fill="#f2f2f2">MG2</text>
<polygon points="150.00,295.00 160.89,295.00 160.89,292.50 169.80,297.70 160.89,302.90 160.89,300.40 150.00,300.40" fill="#7f7f7f"/>
<text x="155.44" y="299.21" font-size="4.20" text-anchor="middle" fill="#f2f2f2">MG3</text>
<polygon points="196.00,295.00 206.62,295.00 206.62,292.50 215.30,297.70 206.62,302.90 206.62,300.40 196.00,300.40" fill="#7f7f7f"/>
<text x="201.31" y="299.21" font-size="4.20" text-anchor="middle" fill="#f2f2f2">MG4</text>
<rect x="51.20" y="295.00" width="11.20" height="5.40" fill="#ffc000"/>
<text x="56.80" y="299.14" font-size="4.00" text-anchor="middle" fill="#fff5d6">ME</text>
<rect x="67.10" y="295.00" width="11.30" height="5.40" fill="#ffc000"/>
<text x="72.75" y="299.14" font-size="4.00" text-anchor="middle" fill="#fff5d6">ME</text>
<rect x="111.30" y="295.00" width="11.00" height="5.40" fill="#ffc000"/>
<text x="116.80" y="299.14" font-size="4.00" text-anchor="middle" fill="#fff5d6">ME</text>
<rect x="132.60" y="295.00" width="10.90" height="5.40" fill="#ffc000"/>
<text x="138.05" y="299.14" font-size="4.00" text-anchor="middle" fill="#fff5d6">ME</text>
<text x="114.00" y="277.26" font-size="4.90" text-anchor="middle">mouse specific</text>
<text x="114.00" y="283.56" font-size="4.90" text-anchor="middle">enhancer population</text>
<text x="171.50" y="277.26" font-size="4.90" text-anchor="middle">human specific</text>
<text x="171.50" y="283.56" font-size="4.90" text-anchor="middle">enhancer population</text>
<text x="31.70" y="313.88" font-size="8.00" textLength="36.10" lengthAdjust="spacingAndGlyphs">Emb. Brain</text>
<path d="M37.5 405.4h0M41.3 396.9h0M38.0 401.1h0M48.2 394.6h0M37.2 404.7h0M36.1 406.8h0M37.9 406.2h0M41.9 399.4h0M41.3 405.6h0M38.9 402.7h0M36.6 406.4h0M38.7 403.8h0M36.9 405.1h0M36.9 403.8h0M35.9 406.6h0M39.8 408.2h0M38.9 398.3h0M36.8 407.8h0M38.6 397.2h0M42.0 392.8h0M43.3 397.2h0M39.4 402.5h0M40.4 396.5h0M38.5 401.8h0M40.0 396.0h0M36.6 407.2h0M37.1 404.1h0M37.0 403.8h0M36.8 406.0h0M38.3 398.4h0M38.1 407.2h0M39.0 400.8h0M38.3 405.6h0M38.1 404.7h0M40.0 397.8h0M36.3 406.1h0M37.2 405.1h0M37.9 407.1h0M39.8 401.5h0M41.3 403.4h0M40.6 403.6h0M37.0 404.2h0M38.1 401.1h0M40.8 396.3h0M41.6 393.7h0M40.1 403.6h0M38.6 400.2h0M47.6 397.2h0M50.6 391.0h0M46.5 401.2h0M38.4 397.4h0M37.5 405.5h0M38.5 401.9h0M44.6 397.2h0M36.8 407.8h0M37.9 397.6h0M43.7 387.4h0M46.2 392.1h0M38.5 403.2h0M38.9 394.9h0M52.4 388.5h0M57.6 379.6h0M39.8 396.0h0M41.2 395.2h0M40.6 398.8h0M36.6 402.6h0M38.1 405.5h0M39.7 404.7h0M42.4 399.1h0M39.1 395.1h0M43.4 386.8h0M39.2 404.7h0M39.7 389.0h0M39.0 396.7h0M39.1 406.8h0M40.0 406.7h0M36.8 406.6h0M36.9 407.2h0M42.7 396.3h0M37.8 399.9h0M41.0 398.7h0M36.6 404.6h0M40.0 406.8h0M40.1 401.3h0M38.6 401.4h0M44.0 384.1h0M43.1 394.3h0M41.6 394.0h0M45.1 402.3h0M45.3 385.0h0M36.6 404.5h0M39.3 400.8h0M39.1 405.9h0M45.7 388.5h0M40.0 406.3h0M41.8 398.0h0M39.9 404.6h0M37.1 407.3h0M37.3 404.6h0M42.8 403.1h0M44.5 383.6h0M39.5 403.4h0M41.5 398.1h0M43.9 393.9h0M36.8 407.1h0M37.8 408.3h0M41.8 403.3h0M51.2 375.2h0M41.5 394.5h0M40.0 400.3h0M37.6 406.6h0M39.5 397.3h0M36.6 401.5h0M39.8 395.5h0M46.1 398.4h0M38.8 407.9h0M38.3 407.9h0M40.5 402.1h0M37.2 406.4h0M38.4 404.4h0M41.2 396.0h0M37.8 402.7h0M39.0 405.6h0M40.9 394.7h0M40.5 405.4h0M43.5 390.2h0M40.4 395.1h0M38.2 406.2h0M38.5 404.0h0M45.3 385.0h0M43.1 391.9h0M47.9 385.3h0M37.7 407.6h0M48.1 397.3h0M49.4 377.7h0M41.8 397.6h0M42.7 389.5h0M40.5 399.9h0M44.8 393.1h0M38.2 400.7h0M42.6 397.1h0M38.1 407.7h0M45.8 385.9h0M36.8 402.4h0M36.3 405.2h0M37.7 405.3h0M45.5 387.9h0M51.2 367.7h0M36.8 403.7h0M43.6 388.3h0M37.0 408.0h0M41.0 401.1h0M39.9 404.4h0M37.9 405.2h0M49.2 381.7h0M41.0 394.8h0M41.7 404.6h0M37.3 402.5h0M41.7 399.5h0M41.0 396.2h0M37.7 402.9h0M38.7 400.8h0M41.0 405.0h0M36.2 404.7h0M51.2 372.3h0M37.3 403.0h0M37.0 405.9h0M40.8 398.1h0M40.5 397.7h0M41.5 395.1h0M38.9 401.2h0M47.2 399.2h0M36.2 407.7h0M39.5 404.7h0M35.9 407.1h0M35.9 407.5h0M39.6 396.1h0M46.4 377.9h0M36.8 402.8h0M40.8 407.7h0M36.0 406.7h0M38.7 408.2h0M41.1 389.9h0M39.9 404.8h0M45.5 393.8h0M40.8 401.1h0M35.6 406.9h0M36.4 401.8h0M45.9 388.5h0M38.8 402.4h0M38.7 402.5h0M40.1 405.9h0M40.7 403.9h0M37.1 404.0h0M36.9 405.9h0M43.1 399.2h0M43.7 392.3h0M39.0 406.5h0M40.6 400.1h0M51.2 378.3h0M38.2 407.1h0M38.1 406.3h0M43.5 402.5h0M43.2 392.4h0M55.1 372.5h0M40.3 395.9h0M37.6 404.1h0M43.9 386.3h0M45.8 385.7h0M42.9 382.7h0M37.7 399.2h0M52.1 385.6h0M35.9 403.1h0M42.4 388.7h0M42.5 404.0h0M41.4 397.5h0M49.2 382.1h0M39.9 396.2h0M36.6 401.9h0M42.9 398.3h0M35.8 404.1h0M39.4 403.3h0M39.3 402.6h0M37.5 399.8h0M38.0 399.7h0M36.4 407.7h0M40.3 403.3h0M40.8 406.5h0M36.1 405.7h0M43.1 397.2h0M40.0 405.4h0M45.7 376.5h0M41.7 394.4h0M45.5 395.9h0M37.0 404.4h0M39.8 402.5h0M45.3 389.1h0M36.6 405.6h0M40.6 395.0h0M37.1 401.3h0M40.4 399.6h0M37.2 400.5h0M41.2 398.8h0M38.4 399.2h0M51.5 383.3h0M40.3 400.8h0M40.1 404.4h0M42.3 400.3h0M42.0 386.3h0M42.0 399.7h0M38.7 404.6h0M43.3 392.0h0M43.6 392.7h0M44.7 397.0h0M40.3 397.0h0M39.3 399.2h0M36.8 408.3h0M36.9 404.4h0M40.3 391.6h0M38.5 397.9h0M37.0 401.5h0M41.3 393.7h0M44.2 391.9h0M37.1 404.5h0M38.6 391.5h0M37.0 402.5h0M45.3 380.9h0M43.0 395.4h0M41.1 392.8h0M55.0 367.8h0M38.8 401.1h0M38.3 405.2h0M41.2 393.1h0M37.0 405.0h0M39.7 396.7h0M40.9 406.9h0M38.8 402.5h0M41.1 398.4h0M38.6 400.8h0M36.0 406.7h0M38.9 399.9h0M42.2 401.4h0M38.7 408.1h0M37.8 405.6h0M54.6 387.4h0M36.3 405.4h0M37.9 394.1h0M40.2 398.5h0M38.5 404.0h0M44.3 401.3h0M36.5 406.8h0M41.1 392.7h0M38.7 401.5h0M42.2 389.4h0M36.2 405.3h0M38.4 402.6h0M37.0 406.8h0M47.5 380.0h0M38.4 399.3h0M37.5 402.2h0M42.7 396.3h0M35.9 407.9h0M36.4 407.9h0M48.7 389.2h0M42.5 384.9h0M46.2 407.6h0M44.0 393.3h0M38.1 398.5h0M43.1 392.4h0M42.2 389.1h0M38.7 401.9h0M43.7 379.5h0M38.6 402.0h0M37.8 406.5h0M40.2 394.9h0M40.5 393.0h0M36.2 406.7h0M38.8 401.9h0M41.3 390.6h0M44.3 396.3h0M43.5 392.0h0M41.7 393.8h0M47.2 380.8h0M37.9 403.3h0M37.3 402.0h0M41.2 400.8h0M38.8 402.0h0M45.3 395.2h0M42.4 394.1h0M36.1 405.9h0M37.9 401.9h0M40.0 400.8h0M39.2 407.8h0M36.3 407.6h0M46.7 388.3h0M44.5 380.9h0M37.0 403.5h0M42.0 390.4h0M39.9 395.7h0M40.0 393.9h0M40.6 399.6h0M43.4 386.0h0M40.1 402.0h0M39.7 401.6h0M38.9 398.7h0M36.4 404.2h0M47.3 378.1h0M35.9 406.7h0M36.8 407.1h0M40.9 397.4h0M43.2 401.5h0M38.7 398.5h0M38.3 402.5h0M54.6 375.9h0M39.5 390.9h0M38.3 403.6h0M42.7 390.0h0M43.2 395.1h0M37.6 406.8h0M45.9 390.5h0M39.7 402.5h0M41.1 397.0h0M43.5 395.4h0M48.2 393.6h0M37.7 406.6h0M39.0 401.9h0M42.2 395.0h0M37.2 405.9h0M43.8 386.0h0M44.2 397.0h0M45.6 374.7h0M42.1 396.5h0M40.3 400.3h0M39.6 403.3h0M40.2 401.8h0M43.4 394.1h0M41.5 399.4h0M37.1 404.8h0M43.1 389.6h0M38.9 407.7h0M40.4 399.2h0M50.0 381.1h0M36.6 402.4h0M37.5 406.2h0M39.2 407.5h0M38.2 398.6h0M44.4 389.8h0M39.9 399.2h0M39.0 406.8h0M37.1 404.7h0M38.6 403.2h0M38.6 398.8h0M49.7 387.0h0M39.2 400.4h0M43.1 384.8h0M46.9 385.6h0M36.3 406.1h0M42.4 397.7h0M45.1 393.4h0M42.3 396.5h0M44.9 393.9h0M37.3 407.8h0M46.2 386.4h0M44.5 391.5h0M43.8 392.7h0M36.2 407.9h0M38.2 405.3h0M39.1 399.5h0M40.0 400.8h0M43.7 398.4h0M37.2 403.5h0M45.5 379.9h0M38.7 404.2h0M41.8 396.4h0M38.3 402.5h0M38.7 404.5h0M37.4 403.4h0M43.9 390.4h0M39.1 406.6h0M43.5 384.7h0M38.0 406.6h0M40.6 395.6h0M39.3 403.0h0M42.1 398.1h0M40.1 405.6h0M36.4 406.8h0M35.9 407.5h0M40.9 393.4h0M45.1 399.6h0M39.6 405.5h0M36.6 403.6h0M45.6 397.4h0M39.5 399.6h0M40.2 399.6h0M40.4 394.1h0M37.0 407.6h0M36.5 405.0h0M46.6 382.5h0M40.3 400.9h0M48.7 368.8h0M39.2 400.7h0M41.6 396.0h0M37.3 402.9h0M44.9 391.4h0M43.4 395.6h0M38.8 398.0h0M39.8 396.3h0M42.0 388.9h0M36.6 407.3h0M38.3 402.7h0M55.3 371.5h0M48.5 398.8h0M40.3 401.8h0M41.0 396.1h0M36.3 408.2h0M40.7 399.7h0M37.7 404.0h0M49.6 399.0h0M37.6 408.2h0M37.6 405.2h0M38.2 401.9h0M40.4 407.3h0M36.2 406.4h0M36.4 405.9h0M51.0 385.5h0M44.8 392.7h0M44.9 389.3h0M40.0 404.7h0M36.6 406.9h0M39.8 398.4h0M42.5 395.3h0M40.5 393.8h0M36.3 404.7h0M37.9 397.7h0M47.7 377.7h0M38.1 401.9h0M40.0 400.9h0M35.9 406.9h0M39.9 397.5h0M39.6 406.7h0M40.1 407.8h0M37.2 404.7h0M41.3 400.4h0M41.6 395.4h0M37.3 408.3h0M37.2 401.0h0M38.4 406.2h0M44.6 402.0h0M36.2 407.4h0M49.7 404.4h0M44.7 386.6h0M38.1 400.3h0M37.4 402.1h0M37.9 405.6h0M38.3 405.6h0M45.1 391.7h0M46.9 380.1h0M40.9 397.1h0M40.7 399.7h0M41.4 391.4h0M35.8 407.1h0M40.9 406.5h0M46.1 392.7h0M35.9 407.3h0M39.2 397.3h0M38.3 402.7h0M37.3 396.9h0M39.3 407.0h0M44.3 395.9h0M54.9 395.2h0M38.6 399.7h0M36.9 400.8h0M36.9 407.1h0M42.4 394.5h0M37.9 402.1h0M36.7 406.4h0M45.4 388.5h0M37.7 407.1h0M39.4 401.8h0M37.2 405.5h0M37.9 404.2h0M38.1 401.1h0M37.1 406.2h0M40.7 388.7h0M36.1 407.5h0M44.6 383.6h0M36.4 405.4h0M39.7 404.1h0M39.9 408.3h0M36.0 405.6h0M41.6 395.2h0M41.5 401.2h0M37.6 404.1h0M37.1 401.8h0M38.4 397.4h0M36.0 406.4h0M37.6 402.2h0M38.1 397.7h0M43.9 393.6h0M38.1 404.2h0M37.7 402.6h0M38.5 402.7h0M42.8 393.0h0M38.3 406.2h0M44.7 389.4h0M47.1 385.4h0M42.6 398.7h0M43.0 393.3h0M41.2 394.3h0M43.4 405.6h0M40.3 403.5h0M49.0 386.3h0M36.6 406.7h0M42.7 394.1h0M41.8 392.8h0M39.1 403.3h0M41.8 401.8h0M42.5 390.7h0M36.7 402.9h0M38.8 401.7h0M39.9 402.9h0M36.9 400.2h0M38.6 405.6h0M40.5 402.1h0M40.5 396.6h0M40.4 395.9h0M38.0 408.0h0M36.6 405.6h0M39.0 399.0h0M38.5 406.3h0M37.4 401.2h0M40.9 400.8h0M44.6 387.9h0M42.7 400.4h0M41.9 400.9h0M39.7 401.0h0M51.5 370.8h0M37.0 406.2h0M39.2 393.0h0M39.3 399.7h0M42.9 398.4h0M39.1 401.6h0M37.0 405.0h0M49.7 377.2h0M38.2 400.4h0M39.1 408.4h0M39.6 401.4h0M41.2 395.1h0M43.1 394.8h0M41.2 391.6h0M38.6 396.1h0M38.9 402.9h0M43.1 402.3h0M38.8 399.7h0M37.5 404.1h0M38.0 407.8h0M46.3 398.9h0M38.2 400.0h0M37.2 408.3h0M40.1 401.5h0M36.4 406.2h0M35.9 404.8h0M41.8 388.7h0M38.9 397.4h0M40.7 398.9h0M39.4 405.5h0M37.1 406.6h0M45.3 381.3h0M43.3 383.1h0M39.7 395.6h0M38.0 401.3h0M38.4 407.0h0M50.6 391.8h0M43.8 391.0h0M40.2 403.3h0M37.7 400.6h0M45.6 404.8h0M41.9 406.8h0M46.9 386.9h0M40.6 397.4h0M40.3 396.5h0M41.2 396.5h0M38.3 401.5h0M40.4 399.7h0M39.3 395.5h0M41.3 402.7h0M36.9 406.2h0M39.6 400.9h0M36.0 407.6h0M42.3 400.4h0M40.8 393.8h0M41.0 398.8h0M42.5 403.5h0M43.7 392.5h0M42.3 405.6h0M37.0 406.4h0M41.5 401.5h0M39.2 399.7h0M45.2 394.7h0M45.3 392.0h0M46.8 389.1h0M40.0 396.5h0M36.1 407.7h0M45.3 395.0h0M36.9 408.2h0M38.0 405.3h0M49.6 386.9h0M46.0 384.6h0M46.8 382.9h0M37.7 404.1h0M36.2 407.1h0M39.4 398.8h0M39.6 404.5h0M38.9 400.8h0M36.2 405.6h0M56.1 381.3h0M40.2 398.1h0M47.7 385.5h0M38.9 406.6h0M47.7 389.0h0M48.5 387.3h0M48.5 375.7h0M38.0 402.9h0M47.0 383.6h0M42.8 393.9h0M43.1 396.9h0M44.7 388.3h0M42.9 392.7h0M40.0 391.0h0M41.2 399.3h0M40.8 405.7h0M38.6 400.3h0M43.7 396.5h0M41.3 396.1h0M37.5 404.2h0M42.3 399.5h0M36.8 407.4h0M36.4 404.4h0M46.1 378.0h0M38.7 405.5h0M37.7 402.6h0M42.8 383.3h0M37.5 406.6h0M44.6 396.7h0M37.4 406.9h0M45.4 388.2h0M43.8 390.6h0M39.1 398.3h0M37.0 404.6h0M37.0 407.2h0M36.9 404.7h0M35.8 407.3h0M36.6 405.3h0M36.2 404.1h0M43.2 402.0h0M36.0 404.3h0M37.5 405.8h0M36.4 403.7h0M43.8 392.4h0M40.9 404.1h0M42.3 396.4h0M38.8 400.4h0M45.9 403.1h0M39.3 404.8h0M51.2 378.6h0M36.9 401.1h0M36.4 408.1h0M35.9 407.5h0M45.7 389.3h0M36.1 407.2h0M39.6 401.3h0M51.1 367.8h0M42.5 395.1h0M40.2 401.0h0M37.3 406.1h0M43.4 389.3h0M41.8 392.9h0M37.2 405.4h0M48.7 391.5h0M54.0 383.7h0M38.4 405.2h0M44.8 389.6h0M36.1 406.8h0M40.2 398.0h0M39.6 403.6h0M37.2 402.2h0M37.8 400.4h0M49.9 380.2h0M40.0 401.9h0M59.3 351.6h0M43.0 386.4h0M40.6 392.2h0M42.7 389.7h0M37.5 404.7h0M36.3 407.1h0M35.7 406.2h0M39.4 408.4h0M40.3 397.0h0M43.8 380.3h0M41.4 391.9h0M37.5 402.2h0M36.6 403.6h0M36.9 407.5h0M37.0 404.1h0M44.0 407.6h0M36.8 402.7h0M35.9 406.2h0M40.6 395.8h0M37.0 407.3h0M38.7 403.6h0M35.9 403.5h0M44.0 398.5h0M44.2 388.8h0M42.9 406.1h0M41.6 405.1h0M39.4 401.5h0M42.2 392.8h0M48.2 389.0h0M39.0 402.6h0M37.4 400.6h0M46.8 371.3h0M38.4 407.7h0M37.0 404.3h0M42.1 398.8h0M39.2 402.4h0M43.1 405.0h0M46.1 386.0h0M40.9 394.9h0M36.3 407.0h0M41.1 405.3h0M39.7 403.3h0M38.5 402.9h0M39.2 399.0h0M44.2 398.4h0M44.5 386.7h0M39.7 399.7h0M38.0 401.6h0M39.3 393.5h0M38.1 405.7h0M41.8 400.5h0M36.8 408.3h0M37.3 407.5h0M40.8 401.8h0M36.6 405.8h0M36.9 407.5h0M38.4 404.5h0M40.3 402.8h0M36.2 408.1h0M38.6 402.3h0M42.3 388.7h0M42.0 396.5h0M45.3 401.5h0M39.5 406.9h0M37.0 399.0h0M40.7 394.2h0M44.6 401.2h0M45.6 386.3h0M39.3 396.6h0M49.8 382.0h0M42.9 391.4h0M39.8 403.4h0M39.4 398.6h0M39.3 395.1h0M47.5 371.1h0M36.7 405.6h0M41.2 406.6h0M40.2 402.4h0M39.2 399.5h0M39.3 401.7h0M43.9 386.4h0M38.1 407.3h0M39.0 405.5h0M38.6 403.8h0M43.4 388.3h0M46.3 388.4h0M37.5 402.4h0M43.3 391.4h0M42.6 403.1h0M36.5 407.9h0M36.3 407.3h0M42.5 390.6h0M36.6 406.3h0M40.8 397.1h0M38.4 402.9h0M44.1 397.5h0M36.0 405.1h0M40.3 401.1h0M38.7 402.4h0M45.4 394.1h0M50.2 388.6h0M52.1 360.7h0M35.6 408.1h0M40.1 405.2h0M37.3 395.2h0M37.6 402.3h0M44.5 387.2h0M37.4 400.9h0M37.7 401.9h0M37.5 403.9h0M40.8 403.6h0M42.8 397.0h0M39.2 405.4h0M36.6 407.7h0M37.1 406.8h0M38.5 407.2h0M36.5 403.3h0M37.1 408.2h0M42.6 395.4h0M38.0 403.3h0M42.5 380.9h0M36.9 404.7h0M46.4 404.9h0M38.6 402.7h0M36.5 405.8h0M45.2 389.7h0M37.1 407.1h0M45.9 391.2h0M39.4 401.9h0M38.1 401.5h0M38.2 406.9h0M37.4 403.4h0M37.1 407.8h0M37.8 404.6h0M37.5 407.7h0M42.6 390.6h0M41.3 386.5h0M40.4 393.5h0M41.3 395.3h0M50.9 376.6h0M37.4 401.9h0M39.6 395.8h0M38.9 404.1h0M37.8 408.2h0M42.3 387.6h0M37.8 399.5h0M39.2 405.9h0M51.2 373.1h0M38.3 406.9h0M43.1 395.8h0M41.6 395.8h0M38.5 399.9h0M39.2 389.6h0M37.2 402.5h0M43.2 388.9h0M38.2 400.4h0M37.3 407.0h0M42.1 392.7h0M41.5 401.9h0M37.8 406.0h0M49.9 385.0h0M38.6 401.5h0M39.4 403.8h0M38.4 402.6h0M37.2 406.2h0M41.7 406.3h0M36.6 405.4h0M41.2 394.2h0M41.1 398.9h0M41.9 396.6h0M40.4 405.7h0M38.3 401.7h0M39.8 406.7h0M37.7 403.9h0M39.7 398.8h0M44.1 399.8h0M37.7 398.1h0M44.0 390.3h0M51.9 382.6h0M37.6 406.0h0M41.8 403.9h0M44.3 386.2h0M40.6 400.6h0M37.0 401.8h0M39.3 402.1h0M37.2 405.4h0M37.6 399.5h0M49.1 369.7h0M38.4 398.3h0M40.9 405.7h0M40.8 398.7h0M36.3 405.3h0M42.1 391.4h0M44.8 392.4h0M38.0 406.8h0M37.1 404.9h0M36.7 404.7h0M44.6 391.4h0M38.2 406.1h0M42.7 395.0h0M41.3 399.0h0M47.4 389.1h0M39.1 404.9h0M41.0 391.0h0M40.5 401.6h0M41.6 393.0h0M39.5 402.7h0M51.8 378.1h0M37.5 402.2h0M37.0 399.6h0M40.6 395.6h0M50.3 384.6h0M39.2 396.5h0M41.3 394.8h0M41.6 394.9h0M39.6 403.0h0M36.3 407.4h0M49.3 367.9h0M36.7 404.9h0M36.2 405.2h0M41.6 397.3h0M36.1 404.6h0M40.3 397.3h0M44.2 383.7h0M50.5 383.2h0M37.9 404.5h0M38.2 396.5h0M37.6 405.5h0M37.1 405.8h0M42.2 392.8h0M39.3 397.9h0M43.9 389.6h0M37.2 405.8h0M41.6 394.4h0M37.7 403.8h0M45.3 383.3h0M41.6 387.3h0M43.2 392.0h0M37.6 405.9h0M38.2 400.5h0M35.7 407.2h0M39.2 401.1h0M41.3 390.3h0M39.3 401.7h0M41.7 391.1h0M40.8 396.6h0M41.5 400.7h0M37.1 404.8h0M37.8 404.2h0M47.7 394.9h0M36.9 407.9h0M50.0 386.2h0M36.9 402.8h0M40.3 393.8h0M41.1 400.5h0M40.5 392.1h0M42.9 396.5h0M41.3 395.9h0M44.4 390.0h0M42.5 392.9h0M44.5 384.8h0M38.3 404.5h0M38.7 397.6h0M39.5 395.3h0M37.6 407.7h0M36.0 407.9h0M38.4 401.4h0M38.5 402.9h0M36.9 407.8h0M44.4 383.0h0M37.6 398.8h0M36.6 407.7h0M42.9 385.5h0M51.3 376.2h0M38.7 394.4h0M38.5 396.2h0M39.2 400.4h0M41.0 398.3h0M36.2 407.9h0M45.6 387.9h0M36.2 403.1h0M40.6 399.8h0M38.1 404.7h0M37.2 406.1h0M45.0 399.6h0M42.1 394.5h0M42.4 397.8h0M43.4 399.7h0M48.9 378.3h0M41.4 396.4h0M43.5 396.7h0M45.1 394.9h0M38.6 408.1h0M36.5 404.5h0M45.6 376.7h0M38.5 405.7h0M40.6 402.6h0M38.2 407.5h0M39.8 393.2h0M40.3 398.0h0M40.5 404.2h0M43.0 398.3h0M39.2 394.6h0M38.3 403.2h0M39.8 400.5h0M39.3 401.2h0M37.1 407.2h0M41.7 405.8h0M45.3 390.3h0M38.7 403.3h0M44.0 400.6h0M42.7 392.2h0M41.3 401.1h0M46.6 394.3h0M38.5 404.3h0M44.0 396.4h0M40.6 405.3h0M37.0 402.0h0M41.7 394.4h0M36.7 403.7h0M42.1 401.0h0M44.9 397.8h0M47.9 391.0h0M42.3 396.5h0M36.4 406.2h0M37.2 401.4h0M41.8 391.8h0M37.1 402.0h0M42.5 403.7h0M37.5 405.2h0M40.7 394.7h0M37.6 404.5h0M37.3 405.4h0M44.6 382.2h0M39.7 402.9h0M37.3 397.2h0M43.1 387.2h0M38.7 398.0h0M38.2 395.4h0M37.1 406.4h0M36.9 405.3h0M40.3 395.5h0M37.4 404.3h0M38.0 406.0h0M37.2 406.2h0M37.7 405.4h0M38.1 407.5h0M45.0 388.6h0M37.8 405.1h0M39.5 401.3h0M38.1 397.9h0M35.6 408.4h0M37.1 406.4h0M39.0 400.1h0M41.7 391.6h0M41.5 397.7h0M37.8 399.2h0M38.0 406.0h0M41.9 395.9h0M40.7 401.9h0M35.9 407.0h0M37.8 397.9h0M39.9 400.5h0M42.0 394.3h0M40.9 395.3h0M44.4 392.0h0M39.4 400.8h0M36.2 404.1h0M38.7 400.2h0M40.0 399.0h0M48.9 381.5h0M39.2 399.5h0M42.0 402.8h0M36.4 407.5h0M43.3 384.8h0M40.2 393.8h0M41.3 399.9h0M41.9 393.6h0M39.3 403.5h0M40.5 403.9h0M43.5 402.4h0M38.0 403.3h0M43.5 389.5h0M38.0 405.9h0M39.4 399.0h0M36.0 402.8h0M35.9 406.5h0M39.0 401.3h0M36.9 399.5h0M35.6 405.4h0M40.2 393.4h0M46.2 392.0h0M45.1 395.5h0M40.0 400.6h0M37.2 402.2h0M38.1 400.2h0M37.6 405.5h0M49.8 380.6h0M36.5 404.9h0M38.8 401.8h0M57.1 363.1h0M37.7 407.8h0M57.3 372.0h0M38.4 404.7h0M50.5 375.7h0M41.9 393.8h0M48.4 383.7h0M41.8 390.0h0M39.1 406.0h0M43.0 397.5h0M49.7 391.5h0M45.7 406.5h0M41.4 396.3h0M39.3 400.3h0M36.2 404.7h0M44.7 377.5h0M41.2 396.3h0M37.9 406.5h0M37.9 406.2h0M39.1 400.4h0M45.8 381.5h0M37.2 399.5h0M41.5 393.5h0M39.3 397.6h0M36.8 404.9h0M38.5 396.3h0M38.8 402.5h0M41.9 388.3h0M42.3 383.1h0M51.9 368.9h0M38.1 406.3h0M41.1 395.7h0M45.2 398.0h0M36.9 407.3h0M47.7 373.7h0M41.4 396.6h0M42.0 396.2h0M45.4 382.5h0M37.7 402.1h0M37.6 405.0h0M41.3 397.7h0M47.0 388.3h0M47.6 379.9h0M40.6 397.9h0M37.3 407.0h0M36.9 402.6h0M40.0 401.7h0M40.7 395.7h0M36.8 404.8h0M40.1 396.8h0M37.5 401.0h0M42.8 402.1h0M39.8 401.6h0M38.9 404.2h0M37.4 404.8h0M43.8 399.4h0M41.9 392.1h0M38.2 402.1h0M39.3 402.6h0M47.2 376.7h0M40.2 403.5h0M41.5 401.0h0M44.8 375.1h0M39.9 394.1h0M37.3 404.8h0M44.3 389.2h0M36.7 407.2h0M43.5 391.3h0M38.9 406.0h0M51.0 373.2h0M39.8 400.0h0M38.2 405.8h0M43.2 390.9h0M37.8 406.9h0M40.7 395.5h0M37.3 404.2h0M36.8 402.6h0M39.2 395.0h0M52.8 375.0h0M57.2 360.2h0M44.2 398.0h0M37.6 403.2h0M57.0 371.4h0M37.6 403.0h0M36.6 406.0h0M43.0 390.2h0M40.0 399.4h0M44.3 396.9h0M39.7 400.6h0M42.3 395.9h0M38.1 403.3h0M37.3 402.0h0M51.9 382.2h0M43.8 387.3h0M39.2 405.9h0M41.4 405.0h0M47.7 377.3h0M38.2 403.1h0M45.2 395.6h0M38.3 398.2h0M38.4 402.9h0M44.6 385.6h0M38.2 401.1h0M42.2 407.8h0M39.4 402.9h0M40.2 401.8h0M41.3 394.9h0M38.8 401.3h0M35.8 408.1h0M39.7 401.2h0M36.4 407.4h0M39.8 406.3h0M42.3 406.2h0M39.0 400.2h0M48.8 378.3h0M50.0 370.1h0M39.9 399.3h0M44.1 394.9h0M38.0 399.9h0M41.6 397.8h0M40.2 397.8h0M38.2 406.8h0M43.1 382.7h0M42.2 397.9h0M37.6 408.1h0M36.2 404.1h0M42.2 388.2h0M40.0 399.1h0M39.4 398.6h0M37.3 402.6h0M37.9 405.2h0M43.3 394.8h0M37.3 405.1h0M36.9 401.1h0M38.1 398.1h0M40.0 395.4h0M43.8 395.5h0M46.2 389.0h0M35.8 402.3h0M42.4 393.9h0M36.5 401.8h0M40.5 399.5h0M36.9 405.3h0M44.2 398.6h0M36.0 407.6h0M43.5 389.3h0M38.5 402.4h0M35.9 406.8h0M37.1 405.4h0M49.5 388.8h0M35.9 408.2h0M38.7 399.5h0M37.2 407.1h0M37.8 408.3h0M39.7 399.8h0M37.1 405.4h0M42.3 391.2h0M44.8 384.1h0M44.1 390.4h0M40.8 392.6h0M38.2 406.4h0M51.0 354.2h0M40.8 405.6h0M38.9 400.3h0M42.6 395.1h0M44.1 394.8h0M42.7 387.8h0M37.8 401.8h0M49.6 397.2h0M36.8 405.2h0M44.0 390.6h0M42.4 393.5h0M40.7 403.7h0M38.3 393.7h0M37.4 406.9h0M39.3 393.8h0M41.3 392.4h0M37.8 408.2h0M38.8 400.7h0M37.5 406.9h0M45.1 386.1h0M39.8 400.2h0M48.8 372.5h0M36.5 406.6h0M36.4 406.0h0M41.5 394.3h0M38.0 399.2h0M37.9 408.4h0M36.5 404.2h0M48.6 375.0h0M43.1 392.0h0M44.7 396.3h0M37.4 406.9h0M38.2 403.1h0M45.2 384.4h0M40.6 398.8h0M37.7 407.4h0M38.8 400.8h0M37.1 405.9h0M47.1 382.6h0M38.6 402.6h0M46.2 382.5h0M46.9 396.6h0M41.5 397.7h0M40.2 399.0h0M39.1 401.5h0M38.9 397.6h0M39.7 402.9h0M45.9 388.1h0M40.8 407.6h0M40.5 401.6h0M37.0 400.9h0M38.2 407.6h0M38.7 402.9h0M36.5 405.9h0M47.3 384.4h0M45.8 382.1h0M36.1 406.8h0M41.5 401.1h0M37.8 403.8h0M44.3 393.4h0M39.4 405.4h0M39.6 399.0h0M38.2 406.4h0M46.5 396.9h0M35.9 404.4h0M38.8 399.3h0M38.6 401.5h0M38.6 399.6h0M39.3 400.0h0M38.0 407.3h0M44.5 388.9h0M45.8 393.3h0M40.7 389.8h0M39.4 395.6h0M44.8 398.5h0M44.5 386.9h0M45.4 383.6h0M46.5 377.9h0M39.8 398.2h0M39.4 398.4h0M39.4 402.5h0M43.6 400.8h0M44.7 392.2h0M39.2 402.1h0M39.1 397.8h0M37.1 407.7h0M44.9 399.6h0M46.0 387.0h0M41.3 392.5h0M37.0 404.3h0M39.4 397.4h0M37.3 401.5h0M45.5 391.0h0M39.6 402.9h0M45.0 381.8h0M50.9 387.8h0M39.9 394.7h0M41.6 400.9h0M38.7 399.4h0M37.8 405.5h0M41.6 386.3h0M41.5 402.4h0M36.5 404.5h0M47.9 378.8h0M36.7 404.6h0M40.6 401.1h0M38.5 400.3h0M36.8 406.0h0M42.7 394.6h0M40.8 400.1h0M37.3 405.2h0M42.9 393.2h0M45.2 385.5h0M38.6 400.0h0M37.3 399.5h0M40.8 387.0h0M40.5 394.9h0M37.4 398.8h0M37.6 399.3h0M40.3 397.4h0M36.8 405.4h0M37.3 403.5h0M36.4 407.8h0M39.0 408.2h0M37.4 407.7h0M46.4 379.5h0M43.1 393.4h0M37.7 404.2h0M41.8 403.6h0M47.0 387.8h0M41.5 390.4h0M42.3 383.9h0M38.0 404.3h0M38.2 401.2h0M41.9 399.7h0M38.2 401.3h0M40.1 402.5h0M37.9 403.6h0M38.3 405.6h0M43.7 396.6h0M36.6 403.5h0M39.7 397.4h0M45.8 393.6h0M40.0 400.6h0M38.4 399.1h0M42.8 394.4h0M37.8 404.9h0M45.0 396.7h0M36.2 408.1h0M41.8 394.8h0M47.3 392.5h0M40.7 391.2h0M36.1 404.3h0M37.5 406.2h0M39.5 396.6h0M39.7 404.5h0M40.3 405.0h0M37.2 406.3h0M43.0 387.7h0M46.1 392.3h0M37.3 407.8h0M36.7 408.3h0M38.7 400.7h0M41.7 401.4h0M41.9 397.2h0M37.8 403.3h0M35.7 408.4h0M49.8 378.8h0M44.7 394.6h0M43.6 399.2h0M40.6 401.2h0M36.2 406.1h0M48.9 397.2h0M38.8 399.1h0M36.7 407.8h0M37.7 402.8h0M38.1 401.8h0M37.8 404.2h0M41.5 397.0h0M39.2 400.1h0M41.8 393.6h0M47.1 388.0h0M40.7 397.4h0M43.0 390.4h0M48.4 390.4h0M38.4 401.5h0M37.9 402.2h0M41.4 400.8h0M35.7 407.1h0M42.0 391.6h0M38.8 404.1h0M43.0 396.9h0M41.3 390.3h0M39.6 394.6h0M41.4 386.9h0M38.2 397.6h0M41.6 402.9h0M43.1 396.0h0M46.0 393.1h0M42.1 393.3h0M37.1 399.2h0M38.7 396.6h0M47.1 395.6h0M40.8 400.0h0M37.8 393.8h0M36.0 408.2h0M46.4 394.1h0M40.0 396.6h0M39.8 397.4h0M38.4 400.7h0M42.6 390.1h0M38.9 399.7h0M35.8 406.3h0M40.5 405.0h0M41.7 394.7h0M38.0 404.2h0M36.3 404.7h0M46.9 389.4h0M39.5 395.2h0M37.5 406.2h0M46.5 396.1h0M36.0 407.8h0M38.9 403.7h0M45.7 387.7h0M46.8 381.6h0M42.8 394.8h0M42.7 397.7h0M36.5 406.0h0M42.8 388.0h0M43.9 384.2h0M45.6 392.1h0M36.6 406.0h0M39.2 400.8h0M37.5 407.4h0M44.9 388.1h0M38.0 397.9h0M38.1 402.7h0M41.3 398.0h0M41.2 400.9h0M44.3 386.0h0M42.5 392.0h0M35.7 408.3h0M49.1 377.6h0M37.4 403.2h0M35.8 407.9h0M43.6 396.6h0M47.4 386.4h0M46.2 392.8h0M36.7 404.7h0M55.5 354.6h0M36.3 403.2h0M38.8 404.0h0M36.5 400.9h0M36.9 404.6h0M43.2 399.6h0M43.5 376.9h0M41.4 396.0h0M41.2 397.5h0M44.7 387.3h0M43.8 394.2h0M41.0 389.3h0M37.2 405.9h0M36.1 407.3h0M36.1 408.0h0M44.4 395.1h0M37.5 400.9h0M45.8 391.5h0M40.2 404.3h0M42.0 388.2h0M43.1 383.0h0M44.1 401.1h0M39.5 396.5h0M39.4 403.1h0M47.2 384.8h0M44.5 400.3h0M36.5 405.5h0M40.7 398.6h0M40.6 404.6h0M39.9 400.9h0M40.4 402.8h0M39.6 393.1h0M38.1 400.1h0M46.1 384.3h0M39.2 399.2h0M37.0 405.4h0M37.6 405.6h0M38.6 397.1h0M37.0 403.7h0M39.1 394.4h0M37.7 401.5h0M36.7 407.9h0M40.8 392.9h0M38.4 406.2h0M38.3 407.1h0M49.0 390.7h0M37.3 400.0h0M36.5 408.1h0M43.3 406.8h0M36.8 406.8h0M47.4 394.2h0M43.0 382.3h0M38.8 401.1h0M49.4 368.6h0M40.0 394.4h0M44.9 378.0h0M38.3 400.5h0M40.5 393.3h0M35.8 405.0h0M40.8 397.0h0M36.7 405.6h0M36.6 408.1h0M36.0 406.2h0M39.3 403.2h0M36.0 405.6h0M37.0 406.3h0M40.3 395.8h0M36.3 407.7h0M39.4 398.4h0M39.5 394.3h0M43.7 390.9h0M43.9 395.3h0M56.0 358.9h0M37.7 403.3h0M40.4 397.9h0M36.6 405.8h0M46.5 381.0h0M38.9 406.3h0M37.8 405.1h0M40.2 398.4h0M37.9 404.3h0M45.2 398.9h0M35.8 407.3h0M40.9 387.9h0M39.2 408.2h0M41.5 391.6h0M55.9 381.7h0M39.3 401.4h0M39.8 400.2h0M38.9 404.2h0M43.2 392.8h0M44.9 387.9h0M37.6 405.7h0M40.8 397.0h0M37.0 401.2h0M45.2 387.3h0M37.2 401.9h0M42.7 393.7h0M39.9 396.6h0M48.6 367.9h0M40.1 398.1h0M36.0 407.8h0M38.5 404.1h0M42.1 398.2h0M36.4 402.6h0M37.6 403.5h0M36.9 404.3h0M36.6 407.6h0M44.7 404.4h0M49.3 387.9h0M37.8 399.8h0M44.2 390.5h0M40.0 406.6h0M37.4 405.4h0M38.5 402.2h0M38.8 402.5h0M46.6 386.1h0M37.3 400.8h0M55.4 384.0h0M37.5 406.2h0M36.5 406.4h0M36.4 403.8h0M38.0 402.3h0M39.7 395.6h0M48.3 385.7h0M38.7 401.9h0M48.8 388.6h0M41.1 397.3h0M37.9 405.7h0M37.0 404.9h0M38.3 401.9h0M39.7 394.6h0M39.6 392.4h0M38.6 402.4h0M36.2 404.5h0M40.3 394.2h0M37.2 402.2h0M38.8 408.2h0M39.9 399.0h0M39.4 394.7h0M44.9 385.9h0M41.1 402.0h0M41.1 389.1h0M37.6 404.3h0M40.7 402.6h0M44.7 400.8h0M36.6 401.6h0M41.3 395.8h0M36.7 406.3h0M43.6 385.0h0M39.4 402.7h0M44.5 390.8h0M36.2 405.1h0M39.4 399.9h0M37.5 404.9h0M37.7 398.9h0M46.7 399.1h0M43.2 388.9h0M38.5 407.2h0M41.0 394.7h0M44.1 390.8h0M43.9 402.6h0M40.9 394.7h0M37.3 404.0h0M47.6 383.9h0M39.9 406.1h0M39.5 401.5h0M38.0 400.8h0M41.2 395.3h0M39.3 399.8h0M36.1 408.2h0M37.6 404.1h0M36.9 404.2h0M37.7 407.9h0M37.3 405.8h0M38.0 401.1h0M39.5 400.6h0M38.0 404.6h0M41.7 396.9h0M37.8 407.3h0M36.5 405.4h0M38.2 401.8h0M43.0 401.9h0M36.3 406.7h0M56.2 397.4h0M45.1 387.4h0M48.9 397.3h0M40.1 398.8h0M38.6 397.0h0M37.8 407.2h0M38.9 397.6h0M39.9 399.6h0M38.4 404.9h0M42.3 390.2h0M42.2 389.9h0M41.4 392.8h0M36.4 403.7h0M36.0 406.3h0M41.1 396.9h0M39.8 391.4h0M37.4 405.0h0M38.5 403.3h0M43.7 401.5h0M42.1 401.2h0M39.5 400.4h0M40.0 402.0h0M40.5 403.8h0M46.1 383.9h0M37.8 400.9h0M40.1 398.2h0M38.7 399.3h0M39.8 397.3h0M45.4 389.5h0M39.8 397.3h0M38.5 401.4h0M37.0 403.4h0M40.2 398.2h0M47.3 388.3h0M43.6 387.7h0M46.1 393.0h0M44.5 399.9h0M49.5 367.5h0M44.4 396.6h0M44.8 394.5h0M37.6 407.9h0M38.2 406.3h0M38.6 403.1h0M37.7 400.3h0M36.6 406.7h0M45.2 393.6h0M43.5 399.6h0M40.6 401.6h0M36.1 406.2h0M41.0 403.6h0M43.6 387.7h0M42.4 404.5h0M43.3 393.5h0M37.0 404.0h0M36.8 405.0h0M38.2 402.6h0M41.0 400.4h0M44.2 392.2h0M41.2 398.2h0M38.2 405.1h0M46.4 383.6h0M42.6 402.0h0M36.4 408.3h0M39.5 399.5h0M36.1 407.7h0M37.6 404.7h0M37.1 403.6h0M37.5 405.0h0M44.8 396.0h0M39.0 404.0h0M36.8 407.0h0M39.1 403.9h0M38.1 407.3h0M37.0 404.8h0M37.7 399.8h0M35.9 406.4h0M42.6 396.8h0M38.0 406.8h0M40.5 398.4h0M40.0 400.4h0M37.5 405.1h0M43.0 392.9h0M47.3 381.8h0M37.6 405.4h0M47.4 391.3h0M40.8 391.1h0M36.7 403.1h0M40.3 399.4h0M41.2 403.9h0M38.2 401.1h0M38.6 398.6h0M38.7 406.9h0M40.4 394.6h0M68.0 359.8h0M40.2 399.4h0M36.8 397.7h0M37.7 399.8h0M47.3 383.3h0M43.8 401.5h0M47.5 377.6h0M44.6 398.5h0M36.2 408.2h0M36.4 406.7h0M47.7 381.6h0M40.2 403.9h0M46.8 384.8h0M38.9 400.8h0M38.3 402.5h0M37.1 407.1h0M38.1 406.2h0M40.0 397.7h0M36.7 406.2h0M38.3 403.3h0M37.9 405.4h0M37.0 406.3h0M39.3 402.6h0M37.2 402.8h0M37.8 399.7h0M43.7 394.0h0M37.2 401.4h0M39.0 397.1h0M35.9 404.6h0M37.8 406.6h0M43.2 380.0h0M40.5 404.8h0M40.0 396.0h0M37.7 407.3h0M44.0 387.9h0M43.5 386.6h0M52.3 361.2h0M35.8 408.3h0M39.3 402.1h0M37.2 406.3h0M41.7 400.5h0M37.7 403.4h0M36.8 408.0h0M40.7 398.2h0M37.6 402.0h0M35.7 405.7h0M44.4 402.1h0M39.8 398.1h0M40.8 398.0h0M39.4 394.0h0M38.6 396.0h0M38.3 403.7h0M36.5 407.6h0M40.2 402.5h0M38.0 401.4h0M38.0 404.3h0M37.8 400.5h0M41.9 397.2h0M36.4 405.4h0M42.3 390.1h0M43.6 403.8h0M42.4 390.9h0M40.1 398.6h0M43.0 387.9h0M43.8 378.2h0M37.0 403.4h0M38.0 404.0h0M42.2 397.4h0M35.7 407.6h0M36.9 406.3h0M37.9 405.5h0M38.0 400.2h0M38.4 400.3h0M46.1 391.0h0M37.2 404.8h0M36.1 407.7h0M43.7 389.8h0M39.8 399.7h0M37.7 404.1h0M38.2 403.0h0M37.4 403.7h0M40.0 398.8h0M42.7 384.6h0M42.1 395.7h0M37.8 403.4h0M38.1 405.3h0M45.1 380.1h0M38.6 396.4h0M42.8 400.8h0M37.3 404.7h0M37.5 402.5h0M38.7 401.1h0M43.8 386.6h0M43.6 400.5h0M49.5 388.6h0M45.1 370.3h0M43.6 398.5h0M40.2 399.1h0M45.1 393.5h0M44.7 404.6h0M40.1 402.2h0M37.0 405.0h0M37.0 407.3h0M40.5 394.5h0M40.1 402.8h0M37.4 405.2h0M39.0 399.7h0M37.6 404.8h0M38.2 407.9h0M46.6 377.8h0M41.7 401.4h0M39.1 395.0h0M37.5 407.1h0M37.9 397.1h0M36.8 402.9h0M39.7 388.4h0M41.1 405.8h0M37.2 402.3h0M39.8 393.0h0M45.1 384.2h0M39.9 404.7h0M39.0 400.6h0M40.3 392.5h0M39.6 395.4h0M38.9 407.1h0M38.9 405.7h0M41.3 403.9h0M35.8 407.1h0M51.9 400.2h0M36.8 404.8h0M42.3 396.0h0M48.2 390.9h0M39.4 406.2h0M36.8 402.7h0M37.9 402.4h0M44.9 398.1h0M38.0 398.6h0M37.0 404.3h0M38.3 400.8h0M37.9 403.7h0M48.5 377.6h0M41.4 395.5h0M37.0 406.0h0M42.1 398.1h0M38.0 403.1h0M36.5 406.5h0M35.6 406.3h0M37.6 404.7h0M38.3 407.2h0M42.9 388.4h0M57.5 368.0h0M40.8 395.1h0M44.4 383.0h0M38.9 402.7h0M35.8 406.9h0M39.0 404.4h0M37.8 408.1h0M38.3 398.1h0M38.0 401.2h0M45.6 395.4h0M37.7 402.6h0M37.5 405.5h0M37.5 401.3h0M37.8 402.0h0M38.8 399.0h0M38.2 402.9h0M39.6 404.7h0M39.3 401.8h0M44.1 392.2h0M42.5 399.7h0M41.8 394.1h0M46.5 395.8h0M37.3 406.5h0M37.7 400.2h0M41.5 398.2h0M39.9 397.9h0M43.2 402.4h0M41.9 402.0h0M49.4 389.6h0M37.9 402.8h0M37.5 405.2h0M49.3 382.3h0M42.9 385.1h0M39.7 397.2h0M36.7 407.8h0M40.7 391.9h0M42.4 395.8h0M36.2 406.9h0M43.5 383.2h0M38.8 397.9h0M39.3 393.2h0M38.0 401.4h0M40.5 399.2h0M38.2 398.9h0M36.9 405.0h0M38.5 404.5h0M46.5 396.6h0M37.2 405.8h0M50.7 382.7h0M36.3 407.6h0M37.9 404.5h0M40.3 406.1h0M40.3 396.0h0M36.4 406.1h0M39.4 405.2h0M37.4 401.4h0M43.3 395.6h0M37.7 404.9h0M36.1 407.7h0M38.5 396.4h0M50.6 359.9h0M44.0 385.1h0M35.6 404.2h0M38.5 404.8h0M37.2 406.0h0M37.9 403.2h0M43.2 392.6h0M39.4 404.2h0M38.6 404.2h0M42.4 394.8h0M37.4 405.8h0M37.8 398.0h0M44.5 393.6h0M42.5 394.5h0M36.7 404.5h0M37.7 401.1h0M37.6 399.3h0M39.3 399.5h0M39.3 398.3h0M39.2 398.7h0M38.5 404.2h0M44.4 387.3h0M36.7 404.8h0M37.4 401.9h0M38.7 404.0h0M37.6 402.4h0M42.4 393.4h0M47.0 396.5h0M39.5 405.1h0M37.2 403.5h0M36.7 406.2h0M38.8 402.3h0M36.6 405.5h0M48.8 382.8h0M40.5 392.6h0M44.8 386.1h0M36.0 404.5h0M37.5 405.3h0M42.0 388.3h0M37.7 406.0h0M44.1 398.3h0M39.4 396.5h0M40.7 404.7h0M39.6 402.9h0M39.3 404.1h0M40.1 403.5h0M37.4 400.4h0M41.1 401.0h0M38.6 402.5h0M39.7 394.9h0M38.3 403.6h0M36.8 405.1h0M40.7 402.1h0M38.9 398.4h0M35.8 407.9h0M43.2 384.9h0M45.5 394.0h0M37.9 405.2h0M44.9 385.2h0M45.3 388.8h0M43.4 397.2h0M38.5 403.5h0M49.2 380.7h0M35.9 406.1h0M37.6 403.8h0M37.5 401.6h0M36.6 408.0h0M44.2 391.1h0M39.0 405.5h0M46.2 391.3h0M41.3 396.5h0M36.6 406.2h0M43.6 393.6h0M42.1 406.0h0M38.6 407.1h0M40.2 392.6h0M42.4 406.7h0M35.6 404.9h0M37.7 402.4h0M41.1 401.5h0M36.1 407.3h0M35.6 402.4h0M43.5 389.1h0M42.4 396.9h0M36.5 404.9h0M37.9 401.7h0M42.5 404.0h0M38.2 401.2h0M36.1 406.3h0M35.9 407.0h0M48.3 377.1h0M40.4 401.8h0M49.6 397.2h0M37.9 400.1h0M38.9 399.0h0M36.3 403.4h0M36.4 401.9h0M37.9 404.0h0M41.5 398.7h0M36.8 407.9h0M36.9 403.9h0M38.0 400.4h0M37.0 404.4h0M41.3 404.4h0M38.3 399.9h0M40.9 394.6h0M39.0 405.0h0M45.3 391.7h0M37.5 406.0h0M40.0 398.4h0M40.1 398.1h0M48.9 380.8h0M38.0 403.4h0M45.9 389.4h0M45.1 395.0h0M38.0 406.8h0M38.4 403.4h0M39.7 402.1h0M36.7 408.1h0M43.8 401.5h0M36.5 407.8h0M39.5 401.2h0M41.3 404.6h0M37.0 403.9h0M43.8 398.2h0M43.2 403.8h0M47.9 391.2h0M38.9 394.5h0M44.4 396.3h0M36.2 406.5h0M38.4 402.0h0M37.0 408.1h0M42.5 401.7h0M41.9 396.6h0M36.9 399.4h0M41.8 398.4h0M41.3 405.9h0M39.4 403.0h0M38.7 400.1h0M37.5 406.2h0M44.1 387.7h0M36.8 404.7h0M39.2 400.0h0M41.7 396.0h0M38.4 407.6h0M44.4 390.5h0M38.7 404.7h0M43.5 392.7h0M39.0 399.4h0M37.4 405.2h0M43.8 391.5h0M45.0 395.9h0M37.1 406.5h0M38.2 407.7h0M53.5 364.2h0M45.2 390.9h0M36.9 406.5h0M43.7 394.8h0M36.5 403.8h0M39.4 401.3h0M43.8 390.0h0M47.4 380.3h0M39.5 400.9h0M44.8 397.9h0M46.1 393.3h0M41.7 395.8h0M39.5 401.0h0M38.3 405.2h0M36.9 406.0h0M42.0 403.8h0M39.6 407.9h0M43.7 393.6h0M56.4 373.0h0M42.6 397.8h0M39.9 396.5h0M38.0 406.5h0M38.0 405.9h0M50.1 386.7h0M53.6 408.1h0M39.5 407.2h0M36.5 405.4h0M39.9 394.9h0M40.5 398.7h0M36.2 403.7h0M41.0 392.6h0M36.6 405.7h0M41.8 405.2h0M41.7 400.7h0M48.2 385.6h0M42.0 394.4h0M37.9 403.9h0M36.8 399.9h0M36.9 403.9h0M40.5 396.2h0M42.8 397.1h0M39.6 405.8h0M41.2 392.3h0M41.3 394.9h0M44.0 399.8h0M37.7 407.0h0M36.0 407.2h0M41.8 401.2h0M40.4 400.2h0M39.4 399.0h0M37.6 407.9h0M40.1 402.9h0M38.9 395.3h0M39.6 391.9h0M38.9 404.8h0M36.7 405.5h0M40.0 402.8h0M40.7 393.6h0M39.3 400.7h0M42.8 396.6h0M37.9 405.7h0M40.4 404.1h0M36.1 403.8h0M42.3 384.6h0M40.5 397.9h0M39.9 396.1h0M39.5 399.1h0M44.2 397.3h0M38.5 403.3h0M37.1 407.8h0M40.4 403.7h0M46.6 401.9h0M40.5 408.1h0M40.9 397.6h0M46.9 383.9h0M36.7 404.3h0M43.1 391.8h0M39.4 401.7h0M42.2 397.3h0M37.0 407.1h0M39.0 402.8h0M40.3 393.3h0M37.1 404.8h0M37.8 402.2h0M49.6 391.8h0M46.9 382.3h0M42.8 402.2h0M42.9 394.5h0M44.2 401.6h0M35.7 407.6h0M42.6 394.2h0M37.9 400.8h0M37.0 406.0h0M42.5 390.5h0M39.3 399.8h0M49.1 380.8h0M36.8 407.5h0M41.1 397.7h0M37.4 404.0h0M48.6 377.6h0M37.1 407.1h0M37.1 404.7h0M38.3 401.1h0M37.3 406.7h0M39.6 404.0h0M44.1 390.0h0M45.4 386.1h0M42.0 398.2h0M37.1 406.6h0M35.8 407.1h0M45.5 398.8h0M40.8 407.8h0M38.5 395.2h0M40.5 404.4h0M36.8 404.3h0M38.9 407.8h0M36.3 405.6h0M38.2 396.3h0M37.0 403.7h0M39.9 397.0h0M39.5 401.4h0M39.4 404.6h0M36.6 407.8h0M37.0 406.8h0M35.8 406.3h0M38.1 404.3h0M43.0 393.7h0M44.7 388.6h0M38.0 405.3h0M47.3 405.7h0M36.5 408.3h0M42.4 398.0h0M48.5 366.4h0M41.1 396.7h0M37.0 404.6h0M37.1 405.2h0M40.0 406.2h0M40.9 388.3h0M43.0 392.9h0M38.4 407.8h0M40.0 398.7h0M37.0 402.5h0M45.8 395.5h0M39.1 401.0h0M40.7 395.6h0M36.6 407.5h0M38.4 403.3h0M39.2 393.5h0M38.7 405.4h0M36.6 406.6h0M39.3 396.3h0M40.9 400.5h0M38.0 402.8h0M42.1 401.6h0M38.9 399.3h0M50.5 375.5h0M47.8 379.6h0M37.9 406.2h0M38.3 405.0h0M41.3 396.7h0M37.5 400.2h0M38.1 401.2h0M44.3 394.1h0M37.8 399.9h0M36.9 405.8h0M42.0 391.0h0M44.5 381.6h0M40.7 394.1h0M37.0 401.4h0M38.2 408.1h0M37.9 407.4h0M46.9 389.7h0M42.3 394.4h0M42.9 397.4h0M40.4 399.9h0M37.8 404.4h0M40.1 408.3h0M43.0 399.8h0M43.1 398.7h0M45.9 390.9h0M44.1 401.0h0M36.3 408.4h0M37.0 404.8h0M42.8 399.2h0M43.6 400.5h0M37.9 402.8h0M38.0 406.1h0M37.8 405.2h0M37.9 399.9h0M45.8 401.4h0M36.8 403.3h0M45.9 396.0h0M44.6 392.1h0M47.2 397.0h0M41.0 393.8h0M36.4 408.0h0M39.9 397.2h0M36.9 402.6h0M39.2 396.2h0M39.1 403.9h0M37.9 401.3h0M40.7 394.4h0M37.5 408.2h0M42.9 389.4h0M40.6 401.6h0M37.6 406.0h0M45.6 394.1h0M44.3 403.5h0M42.4 393.0h0M36.5 406.7h0M38.7 406.1h0M46.1 387.3h0M41.3 393.6h0M39.8 405.2h0M41.5 403.5h0M39.6 402.9h0M36.3 407.9h0M39.3 402.5h0M37.2 401.7h0M42.4 393.5h0M39.0 400.3h0M40.9 393.2h0M45.0 392.2h0M36.9 402.9h0M42.2 401.1h0M40.8 391.8h0M54.6 366.2h0M46.0 382.4h0M37.7 407.7h0M37.0 407.0h0M42.7 390.8h0M44.4 385.3h0M49.3 376.7h0M47.2 391.2h0M39.2 405.2h0M38.5 400.9h0M54.4 392.0h0M45.5 385.3h0M38.8 402.0h0M40.1 400.2h0M41.0 390.1h0M43.0 394.5h0M46.8 394.4h0M37.8 402.9h0M41.4 400.7h0M35.8 407.4h0M44.5 390.6h0M41.9 392.4h0M43.8 387.2h0M39.6 389.6h0M39.5 408.2h0M37.1 407.5h0M39.8 395.3h0M40.2 401.3h0M38.9 404.5h0M41.1 404.0h0M38.3 401.5h0M47.6 390.8h0M41.5 404.8h0M43.4 402.2h0M36.9 408.0h0M40.9 400.3h0M37.5 406.3h0M58.2 366.8h0M38.9 398.7h0M39.2 390.4h0M44.1 398.8h0M41.4 398.9h0M36.9 406.5h0M43.5 401.0h0M39.7 398.2h0M39.7 398.4h0M46.7 402.2h0M36.0 403.9h0M36.6 407.4h0M40.1 396.5h0M38.7 401.9h0M41.5 394.7h0M41.1 398.5h0M37.8 405.5h0M35.8 405.7h0M37.9 405.4h0M42.1 395.0h0M39.4 398.7h0M38.4 397.1h0M40.6 403.2h0M47.2 385.3h0M40.7 403.6h0M45.6 382.3h0M40.0 406.8h0M37.5 404.4h0M45.2 392.2h0M48.6 386.2h0M41.9 397.1h0M44.2 407.9h0M40.9 394.5h0M39.6 402.1h0M36.8 405.7h0M49.3 373.3h0M39.3 405.2h0M46.5 385.6h0M36.1 408.1h0M41.2 399.0h0M39.9 395.0h0M38.0 399.5h0M43.0 393.0h0M42.8 402.0h0M45.5 403.3h0M37.0 406.0h0M47.4 387.7h0M36.6 406.2h0M36.9 401.3h0M38.5 399.2h0M53.4 362.3h0M38.0 401.1h0M36.1 402.4h0M37.3 408.3h0M38.5 406.0h0M37.9 406.3h0M38.8 404.3h0M51.6 365.9h0M43.5 385.9h0M36.3 404.4h0M41.4 395.7h0M42.4 395.6h0M36.7 407.0h0M40.7 403.7h0M41.7 399.3h0M36.8 402.1h0M39.1 399.1h0M38.2 402.8h0M46.3 398.9h0M44.4 398.1h0M38.2 399.3h0M36.6 403.1h0M40.9 403.4h0M51.1 367.8h0M41.1 399.0h0M52.4 377.6h0M43.8 392.2h0M41.2 393.5h0M36.4 407.7h0M46.6 394.2h0M44.3 398.5h0M37.9 399.2h0M53.8 392.7h0M42.2 391.5h0M36.3 408.2h0M36.7 400.5h0M43.3 399.9h0M39.4 396.2h0M39.9 401.9h0M39.4 396.8h0M41.2 395.1h0M42.8 396.7h0M40.5 401.6h0M37.7 408.3h0M39.8 405.1h0M50.3 390.6h0M53.1 375.2h0M44.0 391.7h0M38.9 399.9h0M37.8 407.1h0M50.7 390.4h0M42.9 389.6h0M38.9 406.3h0M44.7 383.7h0M40.9 398.4h0M43.8 389.3h0M39.8 403.5h0M38.4 404.5h0M39.3 401.7h0M38.2 404.9h0M40.2 401.6h0M41.1 398.3h0M45.3 391.2h0M37.0 407.7h0M39.3 405.1h0M36.7 402.3h0M44.8 391.2h0M43.2 404.7h0M41.6 388.3h0M39.9 397.8h0M40.6 394.9h0M36.7 406.5h0M42.1 398.3h0M41.2 394.0h0M37.7 401.8h0M39.5 402.8h0M36.9 408.3h0M38.5 396.8h0M44.3 388.1h0M35.7 405.0h0M36.1 408.0h0M38.0 401.0h0M37.0 403.6h0M44.3 389.1h0M38.3 407.0h0M36.9 405.7h0M40.4 398.7h0M41.5 399.4h0M39.1 399.6h0M44.5 386.4h0M37.8 404.6h0M37.5 405.7h0M37.6 405.0h0M51.4 380.8h0M38.5 401.1h0M42.8 394.9h0M39.9 402.5h0M37.5 408.2h0M43.4 392.3h0M38.6 401.9h0M50.3 385.7h0M45.4 396.1h0M37.4 405.1h0M44.2 393.0h0M38.7 398.0h0M43.0 392.7h0M43.0 394.0h0M39.9 402.8h0M49.8 383.2h0M41.1 407.2h0M35.8 406.5h0M38.8 404.6h0M44.5 398.8h0M39.5 393.6h0M36.6 405.9h0M39.5 394.5h0M45.6 381.7h0M38.4 401.1h0M36.9 406.2h0M35.9 407.4h0M36.4 406.7h0M45.8 378.4h0M44.3 388.5h0M43.9 387.9h0M41.9 403.8h0M39.8 404.0h0M45.7 382.3h0M39.4 397.1h0M40.0 398.7h0M41.2 392.5h0M49.5 351.6h0M40.2 396.7h0M38.7 398.6h0M41.4 400.5h0M42.2 400.1h0M47.1 384.4h0M44.2 386.7h0M41.1 391.1h0M37.1 403.6h0M37.8 403.7h0M39.6 397.8h0M39.2 402.8h0M36.5 407.0h0M42.8 388.1h0M41.6 399.4h0M40.5 400.5h0M44.2 394.9h0M50.3 374.1h0M42.9 394.9h0M41.9 401.5h0M36.4 408.3h0M40.7 395.7h0M47.6 374.1h0M39.4 403.0h0M35.8 407.5h0M41.1 398.3h0M38.7 405.4h0M40.8 394.6h0M49.8 383.2h0M38.4 405.0h0M37.9 407.9h0M37.3 405.7h0M38.9 398.4h0M38.7 399.5h0M50.5 386.6h0M39.6 398.5h0M36.2 407.8h0M45.0 393.0h0M52.2 382.5h0M43.0 397.3h0M41.5 392.4h0M37.3 406.5h0M38.6 408.3h0M58.5 367.1h0M39.9 399.9h0M41.3 396.4h0M36.6 404.4h0M37.1 406.8h0M37.5 403.7h0M44.8 393.8h0M37.2 407.0h0M38.5 403.4h0M40.0 402.6h0M38.5 401.9h0M40.7 399.8h0M42.8 383.5h0M37.6 399.5h0M43.0 396.8h0M46.4 385.2h0M38.5 405.4h0M37.3 404.9h0M38.8 404.5h0M40.1 406.8h0M37.1 403.2h0M39.3 401.8h0M39.8 399.1h0M35.6 407.7h0M38.5 400.1h0M36.9 404.4h0M38.5 404.2h0M37.7 403.7h0M37.8 400.3h0M38.8 400.4h0M48.1 378.7h0M38.0 408.2h0M42.7 402.3h0M37.5 402.7h0M39.2 402.7h0M36.6 407.4h0M36.2 407.8h0M43.6 398.5h0M41.7 399.5h0M46.8 393.2h0M36.9 404.2h0M46.3 386.9h0M41.5 395.6h0M46.4 393.1h0M37.2 406.5h0M43.4 393.0h0M39.0 401.9h0M41.7 392.9h0M37.0 403.4h0M39.6 399.4h0M37.2 407.2h0M38.0 401.4h0M44.0 393.8h0M40.7 402.0h0M40.2 400.0h0M51.5 377.2h0M38.8 400.2h0M36.6 405.8h0M42.8 395.8h0M37.4 401.9h0M37.8 406.1h0M40.9 405.0h0M39.8 405.0h0M36.5 403.0h0M46.2 369.8h0M37.9 395.6h0M37.5 404.2h0M36.3 408.0h0M36.8 402.2h0M41.8 402.6h0M38.1 398.1h0M40.7 406.0h0M36.3 404.2h0M42.9 399.4h0M42.1 405.4h0M52.3 388.0h0M49.1 408.4h0M37.3 405.4h0M41.8 391.7h0M45.1 392.1h0M39.0 392.2h0M38.8 407.6h0M38.6 403.3h0M40.4 399.3h0M39.6 394.8h0M42.7 391.3h0M43.2 398.7h0M37.5 407.9h0M38.6 405.1h0M40.1 397.6h0M38.4 401.9h0M49.0 382.0h0M36.6 407.6h0M47.6 389.3h0M36.9 402.6h0M38.2 403.5h0M39.4 401.1h0M36.9 405.2h0M37.0 406.0h0M45.2 387.2h0M38.8 404.5h0M38.9 396.8h0M41.6 401.8h0M41.9 395.7h0M41.0 402.8h0M48.3 378.8h0M38.3 408.0h0M40.8 394.5h0M37.1 408.1h0M38.6 398.9h0M40.3 401.1h0M36.4 407.9h0M39.2 399.4h0M39.7 404.0h0M40.0 398.1h0M41.0 404.3h0M41.3 395.7h0M37.0 405.3h0M39.6 397.2h0M39.3 403.1h0M40.5 389.6h0M51.9 373.7h0M36.3 407.0h0M48.9 391.3h0M40.8 397.6h0M38.8 400.7h0M39.0 402.3h0M39.2 402.1h0M39.0 398.6h0M51.2 387.9h0M49.7 389.4h0M41.0 396.4h0M40.2 401.2h0M38.0 399.1h0M36.9 403.2h0M39.5 399.9h0M53.1 387.1h0M43.0 395.9h0M38.7 405.9h0M39.2 401.9h0M40.3 391.3h0M38.7 406.2h0M39.2 404.0h0M39.2 403.2h0M36.0 402.9h0M42.1 396.9h0M41.8 392.9h0M37.7 407.0h0M45.7 383.8h0M39.0 400.6h0M38.0 399.2h0M36.6 407.4h0M39.5 400.7h0M41.4 391.4h0M39.7 397.1h0M45.9 389.0h0M39.1 403.8h0M39.2 401.9h0M37.7 407.2h0M37.6 404.5h0M43.9 405.8h0M43.7 400.0h0M40.5 399.2h0M43.4 388.6h0M38.4 399.0h0M48.6 393.8h0M36.7 408.0h0M38.1 395.2h0M36.2 406.8h0M41.8 397.8h0M40.6 399.9h0M40.2 404.6h0M37.1 404.8h0M46.1 382.4h0M37.1 405.0h0M45.1 384.0h0M38.0 401.8h0M36.9 406.2h0M41.7 396.2h0M38.8 405.4h0M42.4 385.7h0M44.7 387.7h0M45.5 402.7h0M44.0 402.8h0M40.3 396.2h0M47.0 381.3h0M42.8 386.9h0M42.8 396.2h0M37.0 406.7h0M39.9 395.1h0M39.5 401.4h0M37.1 405.8h0M37.6 406.5h0M39.4 395.2h0M41.9 393.6h0M43.3 393.2h0M42.4 390.5h0M42.3 394.2h0M37.8 404.9h0M37.5 406.0h0M44.0 395.0h0M43.9 398.6h0M49.6 386.0h0M43.1 403.9h0M37.7 406.0h0M38.5 404.3h0M36.2 404.9h0M37.7 402.8h0M36.9 406.0h0M38.0 403.1h0M40.6 396.7h0M50.9 402.3h0M36.7 407.7h0M45.4 394.4h0M37.8 399.7h0M37.7 406.5h0M46.0 373.6h0M37.1 403.9h0M39.0 408.4h0M40.6 399.1h0M39.6 402.5h0M39.5 405.4h0M37.3 405.3h0M38.0 402.8h0M41.1 398.0h0M37.6 407.3h0M35.8 405.4h0M38.3 403.2h0M38.4 407.0h0M47.7 376.2h0M43.1 385.1h0M41.7 400.1h0M41.3 396.9h0M43.6 391.8h0M48.6 380.3h0M47.5 391.2h0M46.5 387.8h0M42.4 399.9h0M47.2 381.8h0M102.1 324.4h0M59.0 381.4h0M48.1 378.7h0M55.2 371.8h0M62.2 375.7h0M53.3 373.7h0M56.0 374.2h0M58.2 373.0h0M47.9 377.6h0M70.6 361.7h0M51.6 390.2h0M52.0 383.3h0M69.5 349.8h0M44.5 378.6h0M49.9 367.5h0M55.2 378.4h0M44.6 383.9h0M45.2 390.4h0M73.4 337.1h0M43.7 383.8h0M45.0 384.4h0M48.5 379.4h0M64.5 374.2h0M50.8 375.1h0M58.0 367.1h0M45.0 392.1h0M57.8 369.3h0M56.2 374.8h0M47.6 385.7h0M55.6 372.6h0M58.4 370.5h0M48.0 380.9h0M54.2 370.7h0M44.9 392.8h0M54.9 360.4h0M75.8 351.5h0M44.9 396.5h0M59.2 377.6h0M45.9 389.8h0M54.4 373.0h0M47.3 368.6h0M47.3 397.3h0M47.6 384.3h0M65.4 373.4h0M43.0 391.6h0M45.4 387.6h0M44.3 396.2h0M77.6 357.9h0M47.7 383.7h0M43.5 394.1h0M43.3 391.7h0M43.5 394.6h0M52.4 370.3h0M45.8 379.9h0M49.0 374.3h0M44.4 389.9h0M60.0 358.3h0M61.1 374.5h0M57.5 372.4h0M51.3 373.3h0M56.0 386.6h0M64.0 351.5h0M48.0 381.4h0M44.7 392.0h0M44.3 387.9h0M43.8 385.3h0M57.0 376.6h0M46.7 396.9h0M52.8 393.3h0M64.9 382.1h0M47.0 392.6h0M42.6 398.2h0M52.3 385.4h0M42.5 399.3h0M49.4 390.2h0M72.4 345.7h0M42.4 391.8h0M46.3 390.7h0M47.1 380.8h0M45.5 381.7h0M49.4 365.5h0M42.4 394.8h0M92.2 347.2h0M48.5 372.4h0M51.2 382.0h0M56.4 373.7h0M46.9 380.7h0M53.4 375.5h0M65.8 357.7h0M47.2 387.6h0M47.2 388.2h0M47.2 381.8h0M45.7 382.4h0M80.3 335.9h0M70.4 345.6h0M58.0 371.0h0M55.0 369.2h0M54.1 386.4h0M56.4 363.5h0M47.7 400.0h0M56.7 366.1h0M66.1 376.8h0M45.8 388.7h0M54.6 380.2h0M45.0 383.9h0M56.5 361.2h0M45.6 385.1h0M60.6 363.9h0M50.7 378.7h0M54.1 380.4h0M69.2 356.5h0M49.0 384.4h0M55.1 360.5h0M54.3 377.1h0M54.5 377.6h0M47.8 391.6h0M50.9 379.7h0M47.0 382.8h0M51.9 392.0h0M43.6 398.9h0M45.8 382.1h0M43.9 393.9h0M48.3 371.4h0M47.8 383.5h0M68.0 359.4h0M55.2 378.8h0M49.8 395.1h0M46.8 386.2h0M51.3 370.1h0M60.0 360.4h0M47.5 387.3h0M43.5 394.8h0M42.9 386.4h0M44.0 404.8h0M65.1 372.9h0M62.4 344.0h0M48.4 384.8h0M63.9 353.5h0M48.3 382.7h0M50.5 384.9h0M47.8 385.4h0M59.3 362.0h0M46.8 400.8h0M43.3 388.9h0M69.1 348.0h0M49.7 374.3h0M54.5 373.5h0M53.4 386.2h0M49.6 378.1h0M44.1 383.7h0M48.3 392.5h0M42.6 395.8h0M48.3 380.9h0M42.6 387.0h0M47.5 399.3h0M44.4 387.8h0M45.8 388.3h0M45.5 396.8h0M54.4 380.2h0M45.5 389.1h0M50.9 387.2h0M52.1 381.5h0M71.4 347.4h0M54.5 367.5h0M48.7 374.8h0M56.9 365.5h0M52.6 378.3h0M50.8 373.9h0M75.8 347.4h0M43.8 402.2h0M48.3 382.7h0M43.3 402.5h0M43.3 397.1h0M66.0 358.1h0M63.0 387.5h0M44.8 379.3h0M45.7 404.9h0M47.6 389.4h0M51.6 385.0h0M43.1 400.2h0M51.5 379.7h0M65.5 357.8h0M56.5 382.7h0M57.8 376.1h0M44.9 397.2h0M47.5 391.9h0M67.7 352.7h0M42.6 394.0h0M66.1 366.1h0M42.7 405.3h0M43.2 391.2h0M50.8 385.5h0M68.2 380.4h0M45.8 382.3h0M58.8 382.6h0M57.3 376.0h0M52.7 375.8h0M47.2 378.8h0M52.0 390.5h0M57.8 385.0h0M56.0 373.0h0M56.5 374.9h0M52.1 388.8h0M47.1 382.1h0M44.8 390.3h0M44.9 396.1h0M49.0 391.4h0M71.0 361.1h0M45.5 388.0h0M42.9 394.6h0M54.8 367.5h0M48.0 381.9h0M43.1 388.9h0M43.1 392.5h0M42.9 391.4h0M68.7 360.3h0M48.2 390.5h0M44.8 378.8h0M49.8 376.0h0M72.7 349.2h0M60.6 370.1h0M59.7 374.0h0M105.7 349.4h0M49.6 373.1h0M48.9 375.5h0M44.8 384.1h0M81.8 322.1h0M47.9 380.0h0M47.5 374.5h0M44.0 394.5h0M45.9 397.6h0M44.1 389.3h0M55.4 375.6h0M70.2 357.9h0M49.0 384.9h0M47.1 364.3h0M67.1 376.9h0M46.5 385.2h0M51.1 392.9h0M46.4 401.9h0M43.2 401.1h0M46.3 380.2h0M44.6 391.7h0M45.2 381.8h0M45.8 388.2h0M73.3 336.6h0M63.0 360.1h0M44.8 393.1h0M69.0 350.7h0M51.8 396.7h0M48.4 367.7h0M78.3 349.7h0M42.6 400.1h0M65.0 363.3h0M49.4 385.0h0M47.6 381.7h0M65.3 372.2h0M43.6 392.5h0M43.5 394.1h0M62.4 371.6h0M47.1 377.5h0M44.7 401.1h0M54.6 383.6h0M47.3 378.7h0M49.1 393.5h0M44.7 387.6h0M48.9 387.8h0M55.2 378.5h0M56.3 381.1h0M50.0 386.1h0M64.7 357.4h0M58.0 367.6h0M55.3 366.3h0M63.5 383.0h0M62.5 372.4h0M45.4 393.1h0M55.7 372.3h0M45.3 395.0h0M53.6 374.4h0M45.8 387.1h0M45.4 385.0h0M54.9 373.8h0M43.9 394.7h0M51.9 379.6h0M68.5 370.2h0M54.3 365.5h0M67.5 368.1h0M56.2 382.8h0M47.2 381.9h0M71.8 352.1h0M75.7 339.3h0M44.8 392.0h0M61.6 376.6h0M43.2 382.6h0M36.4 366.7h0M97.1 322.2h0M107.5 324.3h0M93.6 327.8h0M102.5 336.1h0M62.9 404.9h0M58.3 402.8h0M85.7 333.3h0M88.4 334.7h0M81.1 345.8h0M74.3 338.9h0M53.7 396.6h0M56.0 400.1h0" stroke="#000" stroke-width="1.28" stroke-linecap="round" fill="none"/>
<line x1="31.50" y1="318.00" x2="31.50" y2="413.00" stroke="#1a1a1a" stroke-width="1.0"/>
<line x1="31.00" y1="412.50" x2="111.40" y2="412.50" stroke="#1a1a1a" stroke-width="1.0"/>
<line x1="29.70" y1="408.40" x2="31.50" y2="408.40" stroke="#333" stroke-width="0.75"/>
<text x="29.10" y="410.27" font-size="5.20" text-anchor="end" fill="#3d3d3d">0</text>
<line x1="29.70" y1="380.60" x2="31.50" y2="380.60" stroke="#333" stroke-width="0.75"/>
<text x="29.10" y="382.47" font-size="5.20" text-anchor="end" fill="#3d3d3d">40</text>
<line x1="29.70" y1="352.80" x2="31.50" y2="352.80" stroke="#333" stroke-width="0.75"/>
<text x="29.10" y="354.67" font-size="5.20" text-anchor="end" fill="#3d3d3d">80</text>
<line x1="29.70" y1="325.00" x2="31.50" y2="325.00" stroke="#333" stroke-width="0.75"/>
<text x="29.10" y="326.87" font-size="5.20" text-anchor="end" fill="#3d3d3d">120</text>
<line x1="35.50" y1="412.60" x2="35.50" y2="414.60" stroke="#333" stroke-width="0.5"/>
<text x="35.50" y="419.82" font-size="5.60" text-anchor="middle" fill="#3d3d3d">0</text>
<line x1="58.30" y1="412.60" x2="58.30" y2="414.60" stroke="#333" stroke-width="0.5"/>
<text x="58.30" y="419.82" font-size="5.60" text-anchor="middle" fill="#3d3d3d">100</text>
<line x1="81.10" y1="412.60" x2="81.10" y2="414.60" stroke="#333" stroke-width="0.5"/>
<text x="81.10" y="419.82" font-size="5.60" text-anchor="middle" fill="#3d3d3d">200</text>
<line x1="103.90" y1="412.60" x2="103.90" y2="414.60" stroke="#333" stroke-width="0.5"/>
<text x="103.90" y="419.82" font-size="5.60" text-anchor="middle" fill="#3d3d3d">300</text>
<text x="74.90" y="410.11" font-size="10.30" textLength="37.00" lengthAdjust="spacingAndGlyphs" stroke="#000" stroke-width="0.15">R = 0.93</text>
<text x="71.50" y="426.98" font-size="6.60" text-anchor="middle" textLength="55.00" lengthAdjust="spacingAndGlyphs">#Human enhancers</text>
<text x="71.50" y="433.98" font-size="6.60" text-anchor="middle" textLength="78.30" lengthAdjust="spacingAndGlyphs">in matched syntenic interval</text>
<text x="11.38" y="366.20" font-size="6.60" text-anchor="middle" textLength="54.50" lengthAdjust="spacingAndGlyphs" transform="rotate(-90 11.38 366.20)">#Mouse enhancers</text>
<text x="17.18" y="365.20" font-size="6.60" text-anchor="middle" textLength="80.00" lengthAdjust="spacingAndGlyphs" transform="rotate(-90 17.18 365.20)">in matched syntenic interval</text>
<text x="143.70" y="313.88" font-size="8.00" textLength="34.50" lengthAdjust="spacingAndGlyphs">Adult Liver</text>
<path d="M154.1 404.2h0M151.5 407.7h0M151.2 401.4h0M154.2 407.7h0M148.7 382.0h0M146.9 391.0h0M154.3 373.6h0M152.6 386.9h0M154.0 397.3h0M149.8 396.6h0M152.9 407.7h0M154.2 386.9h0M154.2 380.6h0M148.4 400.8h0M158.5 398.7h0M149.8 402.1h0M148.3 405.6h0M162.6 396.6h0M147.2 407.7h0M158.3 402.8h0M166.8 403.5h0M152.7 393.1h0M151.5 399.4h0M158.5 393.1h0M156.8 403.5h0M147.1 396.6h0M176.9 398.7h0M157.2 405.6h0M157.1 407.0h0M148.6 396.6h0M155.6 400.1h0M147.0 403.5h0M159.9 397.3h0M159.8 386.9h0M165.7 403.5h0M150.1 400.8h0M149.9 391.0h0M152.9 408.4h0M151.3 408.4h0M152.6 397.3h0M149.9 404.2h0M148.7 400.1h0M158.3 407.0h0M157.1 406.3h0M148.6 401.4h0M154.0 401.4h0M152.6 408.4h0M158.5 400.1h0M161.2 405.6h0M159.9 395.2h0M166.7 395.9h0M159.6 387.5h0M147.2 394.5h0M160.0 378.5h0M154.0 407.7h0M148.3 395.2h0M157.1 402.8h0M150.1 396.6h0M149.8 403.5h0M148.4 407.7h0M148.5 398.7h0M154.1 392.4h0M147.0 381.3h0M150.0 390.3h0M148.6 393.1h0M154.0 407.7h0M157.1 393.8h0M150.1 391.0h0M154.3 384.1h0M151.3 403.5h0M155.5 407.0h0M152.9 391.7h0M154.2 400.8h0M161.2 398.7h0M155.7 405.6h0M166.9 407.0h0M149.9 401.4h0M151.5 407.7h0M151.5 405.6h0M147.2 396.6h0M150.1 389.6h0M151.4 405.6h0M150.0 380.6h0M152.7 404.2h0M148.3 395.9h0M166.8 400.1h0M152.8 389.6h0M166.9 394.5h0M151.4 405.6h0M155.6 407.7h0M152.6 382.7h0M154.4 402.8h0M158.6 384.1h0M149.7 377.1h0M150.0 407.7h0M148.7 392.4h0M161.1 401.4h0M152.8 403.5h0M148.5 406.3h0M161.4 397.3h0M155.6 393.8h0M148.6 397.3h0M147.0 400.8h0M151.4 393.1h0M152.7 399.4h0M146.9 395.2h0M161.0 393.1h0M151.2 400.8h0M152.9 390.3h0M159.9 407.7h0M150.0 401.4h0M149.9 405.6h0M156.9 400.1h0M148.4 407.7h0M150.0 384.8h0M148.7 407.7h0M148.6 398.7h0M155.5 398.0h0M149.9 395.2h0M147.3 404.2h0M154.2 407.7h0M148.4 394.5h0M158.4 394.5h0M151.4 369.5h0M148.6 393.8h0M148.5 389.6h0M151.4 382.0h0M154.2 407.0h0M153.0 390.3h0M152.6 407.7h0M149.8 393.8h0M152.8 405.6h0M150.0 400.8h0M154.1 407.7h0M151.4 379.9h0M154.1 402.1h0M149.8 400.8h0M148.4 407.0h0M151.3 385.5h0M155.8 402.8h0M152.8 402.1h0M148.7 392.4h0M155.4 395.2h0M148.6 400.1h0M151.3 384.1h0M152.8 391.0h0M156.9 406.3h0M149.8 398.7h0M161.4 403.5h0M149.7 400.8h0M155.7 402.8h0M150.1 404.2h0M155.7 407.7h0M156.8 384.8h0M155.5 397.3h0M154.1 381.3h0M152.7 389.6h0M165.3 404.9h0M159.9 386.9h0M155.6 386.9h0M156.9 401.4h0M152.7 395.9h0M155.5 398.7h0M149.8 403.5h0M155.4 399.4h0M162.4 379.9h0M155.4 406.3h0M154.2 396.6h0M148.5 398.0h0M155.8 403.5h0M150.0 394.5h0M154.2 403.5h0M158.3 393.8h0M181.1 404.9h0M173.9 402.1h0M156.8 400.8h0M168.2 398.0h0M149.7 405.6h0M158.6 384.8h0M149.9 400.1h0M147.0 404.9h0M172.7 382.0h0M148.7 407.7h0M155.6 404.2h0M151.2 400.8h0M147.0 383.4h0M164.0 398.7h0M152.9 404.2h0M151.3 393.1h0M176.8 403.5h0M158.5 404.9h0M155.7 386.9h0M154.0 387.5h0M150.1 399.4h0M165.5 397.3h0M150.1 395.9h0M151.5 399.4h0M155.6 405.6h0M150.1 391.7h0M149.9 407.7h0M158.3 402.8h0M158.5 391.0h0M155.5 388.2h0M152.7 389.6h0M154.3 384.8h0M152.6 407.0h0M156.9 407.7h0M181.1 400.1h0M159.7 401.4h0M150.0 402.1h0M148.5 406.3h0M147.0 398.0h0M152.6 399.4h0M148.3 388.2h0M162.7 394.5h0M152.9 398.0h0M152.6 391.7h0M147.2 408.4h0M164.0 396.6h0M159.9 397.3h0M154.1 395.2h0M157.1 402.1h0M152.6 406.3h0M154.3 395.2h0M158.6 405.6h0M162.6 379.9h0M158.4 406.3h0M148.7 407.7h0M154.4 404.2h0M154.4 400.8h0M159.8 405.6h0M161.1 398.0h0M155.6 391.7h0M162.8 392.4h0M152.7 403.5h0M162.6 402.1h0M149.7 408.4h0M151.3 408.4h0M151.5 405.6h0M162.6 376.4h0M159.8 382.0h0M158.4 398.0h0M157.1 407.0h0M147.3 394.5h0M153.0 403.5h0M150.0 408.4h0M152.7 406.3h0M154.3 400.1h0M151.2 406.3h0M149.9 402.8h0M149.9 402.8h0M172.6 382.7h0M149.9 402.8h0M154.0 383.4h0M147.3 398.7h0M152.6 388.2h0M148.3 395.2h0M148.4 389.6h0M151.5 400.8h0M155.6 394.5h0M153.0 407.7h0M147.2 396.6h0M149.9 389.6h0M179.5 391.7h0M151.3 397.3h0M160.0 402.8h0M148.3 377.8h0M149.8 382.7h0M148.4 392.4h0M150.1 386.2h0M152.7 406.3h0M152.9 378.5h0M149.8 405.6h0M149.7 403.5h0M148.7 373.6h0M148.7 405.6h0M152.7 398.0h0M151.5 407.7h0M152.9 403.5h0M155.6 406.3h0M158.6 389.6h0M149.9 399.4h0M149.9 398.0h0M150.0 407.7h0M158.6 397.3h0M155.5 401.4h0M179.4 404.9h0M158.6 393.1h0M149.9 407.0h0M150.1 406.3h0M161.2 396.6h0M150.1 407.7h0M151.3 401.4h0M152.6 392.4h0M147.3 405.6h0M149.9 408.4h0M147.2 396.6h0M155.7 395.9h0M161.3 392.4h0M152.8 397.3h0M155.8 402.8h0M151.2 395.9h0M160.0 407.0h0M149.8 404.9h0M169.8 386.9h0M148.7 390.3h0M148.7 391.0h0M150.0 404.9h0M162.5 391.0h0M158.5 406.3h0M151.4 403.5h0M165.6 404.9h0M161.2 373.6h0M151.3 405.6h0M151.3 380.6h0M148.5 402.8h0M159.7 395.2h0M159.9 403.5h0M185.2 387.5h0M152.6 395.9h0M155.5 400.8h0M157.0 402.1h0M167.0 386.9h0M148.3 396.6h0M157.2 394.5h0M152.8 406.3h0M154.2 384.8h0M149.9 396.6h0M159.8 392.4h0M158.3 372.3h0M155.8 404.2h0M148.4 383.4h0M152.8 395.9h0M158.5 400.8h0M163.9 404.9h0M160.0 402.8h0M148.6 398.7h0M148.7 382.7h0M147.0 402.8h0M148.5 395.9h0M151.5 403.5h0M148.5 404.2h0M149.8 400.8h0M158.5 383.4h0M157.1 378.5h0M158.5 377.8h0M148.6 391.7h0M154.0 399.4h0M147.2 398.7h0M149.8 386.2h0M154.4 405.6h0M147.1 395.2h0M152.8 390.3h0M162.9 402.8h0M148.4 390.3h0M168.3 404.2h0M148.5 388.2h0M156.8 398.7h0M160.0 404.2h0M151.4 384.8h0M148.4 395.2h0M157.0 396.6h0M158.2 396.6h0M165.4 386.9h0M166.8 404.9h0M154.1 398.7h0M155.6 407.0h0M149.8 382.0h0M164.2 400.1h0M148.4 401.4h0M158.3 400.1h0M155.5 393.8h0M160.0 405.6h0M150.0 402.8h0M158.5 405.6h0M168.3 382.7h0M166.8 397.3h0M148.5 384.8h0M159.6 398.7h0M149.9 400.1h0M154.3 388.2h0M162.8 402.8h0M157.1 384.1h0M188.1 392.4h0M152.9 391.7h0M166.8 401.4h0M151.5 395.9h0M148.5 407.0h0M154.0 402.1h0M148.3 388.2h0M167.0 395.2h0M164.2 407.7h0M152.7 380.6h0M171.1 400.8h0M158.4 398.7h0M147.2 397.3h0M155.7 398.7h0M175.5 402.1h0M156.9 407.0h0M147.2 404.9h0M147.2 408.4h0M148.4 391.0h0M164.0 400.8h0M151.2 405.6h0M148.5 396.6h0M155.6 406.3h0M150.0 385.5h0M149.8 395.9h0M155.6 396.6h0M162.8 404.9h0M149.8 378.5h0M151.4 406.3h0M154.3 405.6h0M155.4 388.2h0M152.6 378.5h0M151.2 404.9h0M156.9 395.2h0M154.3 400.1h0M152.8 393.8h0M159.8 397.3h0M147.0 402.8h0M151.5 378.5h0M148.4 402.8h0M148.6 408.4h0M157.0 397.3h0M156.8 391.0h0M149.8 394.5h0M161.1 391.0h0M152.9 406.3h0M149.8 398.0h0M158.6 404.2h0M152.5 398.0h0M147.2 399.4h0M147.0 405.6h0M149.9 377.1h0M149.8 394.5h0M169.8 383.4h0M162.5 391.7h0M152.6 388.9h0M149.8 407.7h0M160.0 401.4h0M155.7 401.4h0M161.2 392.4h0M149.9 407.0h0M158.3 402.1h0M157.2 400.8h0M161.3 377.8h0M150.0 388.9h0M148.4 403.5h0M158.5 393.1h0M152.7 382.7h0M155.5 388.9h0M161.4 392.4h0M151.3 404.2h0M176.8 395.9h0M162.7 399.4h0M154.3 400.8h0M151.5 404.9h0M148.6 406.3h0M148.4 403.5h0M154.0 393.8h0M152.7 394.5h0M162.7 391.0h0M158.3 402.8h0M155.8 401.4h0M152.9 407.0h0M172.7 389.6h0M151.4 405.6h0M150.0 399.4h0M149.9 404.2h0M154.3 375.7h0M157.1 389.6h0M155.5 388.9h0M160.0 407.0h0M154.1 406.3h0M152.9 395.9h0M152.7 407.0h0M172.7 400.8h0M175.5 405.6h0M155.5 407.7h0M149.8 394.5h0M151.3 395.9h0M148.7 388.9h0M152.9 398.7h0M150.0 387.5h0M152.9 401.4h0M152.7 398.7h0M152.8 404.9h0M158.3 405.6h0M164.0 396.6h0M165.5 391.0h0M151.3 408.4h0M148.6 399.4h0M158.4 403.5h0M150.1 399.4h0M154.2 401.4h0M165.5 406.3h0M155.4 370.9h0M147.0 407.0h0M149.7 403.5h0M149.9 400.8h0M148.7 399.4h0M152.6 402.8h0M148.4 393.1h0M146.9 395.2h0M155.7 400.1h0M154.2 386.9h0M164.0 388.9h0M150.0 397.3h0M151.2 406.3h0M154.0 398.0h0M151.4 385.5h0M159.9 401.4h0M154.0 395.2h0M148.6 401.4h0M150.0 403.5h0M148.6 384.8h0M154.3 394.5h0M171.2 385.5h0M151.3 393.8h0M149.7 393.8h0M172.6 399.4h0M174.0 376.4h0M152.8 403.5h0M158.5 407.0h0M157.1 407.0h0M149.9 389.6h0M161.4 397.3h0M157.1 404.2h0M151.4 386.9h0M154.1 392.4h0M148.3 374.3h0M154.1 403.5h0M164.2 386.2h0M155.7 398.7h0M149.9 407.7h0M148.6 400.1h0M157.0 401.4h0M156.9 382.0h0M152.8 395.2h0M151.6 401.4h0M165.5 404.2h0M150.1 400.8h0M153.0 404.9h0M154.3 399.4h0M147.0 385.5h0M149.7 400.1h0M165.5 402.8h0M159.9 392.4h0M180.9 393.8h0M148.4 405.6h0M171.0 402.1h0M151.3 396.6h0M156.9 379.9h0M177.0 393.1h0M152.6 400.1h0M149.8 382.0h0M154.3 398.7h0M148.5 397.3h0M173.9 397.3h0M161.4 387.5h0M154.4 398.0h0M148.5 403.5h0M154.0 394.5h0M149.9 381.3h0M162.7 407.0h0M148.3 407.0h0M148.7 404.9h0M154.3 406.3h0M150.1 398.0h0M164.0 402.1h0M154.0 401.4h0M154.3 389.6h0M151.5 398.0h0M152.6 403.5h0M155.4 407.7h0M147.2 393.1h0M151.5 406.3h0M151.3 391.7h0M161.0 407.0h0M157.1 404.9h0M150.1 404.9h0M165.7 400.1h0M178.2 399.4h0M148.3 402.8h0M152.6 388.2h0M148.5 392.4h0M160.0 395.9h0M151.5 406.3h0M158.3 404.9h0M165.4 401.4h0M168.2 397.3h0M154.2 407.0h0M157.0 396.6h0M152.8 402.1h0M152.6 402.8h0M159.7 398.7h0M147.2 401.4h0M148.6 405.6h0M151.5 398.0h0M156.9 402.1h0M154.3 404.9h0M157.0 400.8h0M152.7 402.8h0M154.1 388.9h0M149.7 406.3h0M152.9 405.6h0M172.5 403.5h0M161.2 393.1h0M155.6 404.2h0M150.0 399.4h0M154.4 384.8h0M160.0 384.8h0M148.7 402.8h0M161.1 399.4h0M150.1 388.2h0M157.1 407.0h0M155.8 397.3h0M154.3 395.2h0M154.3 398.7h0M162.4 405.6h0M156.8 395.2h0M160.0 390.3h0M154.4 405.6h0M174.1 404.9h0M157.2 381.3h0M147.0 404.2h0M147.3 385.5h0M162.6 375.0h0M152.9 400.8h0M158.6 383.4h0M151.3 403.5h0M148.5 401.4h0M162.5 400.8h0M148.5 395.9h0M157.1 389.6h0M150.1 407.0h0M161.1 399.4h0M152.9 407.0h0M151.2 404.9h0M167.1 385.5h0M155.6 404.2h0M155.6 390.3h0M152.7 394.5h0M159.6 384.8h0M161.2 402.8h0M155.5 403.5h0M149.9 402.8h0M148.5 387.5h0M158.2 391.0h0M154.2 399.4h0M161.2 402.8h0M157.0 396.6h0M154.3 393.1h0M154.2 402.8h0M152.7 404.2h0M148.3 405.6h0M173.9 395.2h0M150.0 372.3h0M158.5 382.7h0M163.9 388.2h0M165.4 404.2h0M149.9 399.4h0M155.6 401.4h0M148.6 378.5h0M152.9 395.2h0M146.9 392.4h0M156.9 396.6h0M150.1 398.7h0M149.8 401.4h0M150.1 394.5h0M148.7 407.7h0M161.1 398.7h0M176.9 404.2h0M155.6 397.3h0M154.2 395.2h0M155.6 396.6h0M149.9 400.8h0M148.7 391.7h0M154.2 390.3h0M149.8 403.5h0M146.9 400.8h0M148.3 389.6h0M151.3 401.4h0M151.5 389.6h0M154.4 386.9h0M151.3 403.5h0M155.4 394.5h0M151.4 399.4h0M148.5 407.0h0M149.9 405.6h0M154.0 398.7h0M165.7 395.9h0M154.1 404.9h0M154.2 390.3h0M148.7 398.7h0M148.3 402.1h0M148.6 404.9h0M149.7 402.1h0M159.7 394.5h0M152.6 399.4h0M159.7 391.7h0M148.5 407.0h0M152.7 406.3h0M152.6 370.9h0M150.1 402.1h0M149.8 396.6h0M149.9 392.4h0M152.6 399.4h0M155.7 380.6h0M158.2 404.9h0M151.4 399.4h0M155.4 403.5h0M155.5 384.1h0M154.3 393.8h0M157.0 399.4h0M163.9 398.0h0M149.8 404.9h0M169.8 395.2h0M158.2 401.4h0M152.7 402.8h0M150.0 384.8h0M167.0 398.0h0M166.9 404.2h0M150.1 393.1h0M161.0 402.8h0M148.3 404.2h0M152.8 399.4h0M149.7 398.7h0M152.7 400.8h0M148.6 395.9h0M164.1 404.9h0M154.0 395.2h0M150.1 404.2h0M162.7 404.2h0M146.9 391.7h0M149.9 407.7h0M147.0 388.2h0M155.8 379.9h0M158.4 405.6h0M162.6 393.1h0M161.2 390.3h0M169.7 387.5h0M151.4 376.4h0M155.6 404.9h0M158.4 404.2h0M148.4 407.0h0M148.4 380.6h0M147.1 400.8h0M148.6 398.0h0M151.5 398.7h0M154.1 407.0h0M148.5 398.0h0M152.7 401.4h0M165.4 395.2h0M154.2 398.0h0M148.4 406.3h0M154.0 402.1h0M149.9 406.3h0M148.6 407.0h0M162.4 400.8h0M155.7 400.1h0M172.6 406.3h0M148.4 378.5h0M174.1 406.3h0M158.4 402.1h0M154.2 397.3h0M149.7 400.1h0M149.8 402.8h0M154.2 407.0h0M161.1 400.8h0M152.7 401.4h0M171.3 380.6h0M158.3 406.3h0M158.6 392.4h0M158.3 393.8h0M154.0 388.9h0M158.4 402.1h0M154.0 398.7h0M155.5 390.3h0M152.9 398.7h0M152.7 404.2h0M164.2 373.6h0M152.6 404.9h0M150.1 403.5h0M161.4 403.5h0M151.5 400.8h0M154.3 403.5h0M150.0 402.1h0M154.2 389.6h0M151.3 407.0h0M157.2 401.4h0M152.8 404.9h0M156.9 384.8h0M157.1 388.2h0M150.1 408.4h0M158.5 404.9h0M158.3 398.0h0M182.3 402.8h0M148.6 407.7h0M171.3 395.2h0M158.2 401.4h0M166.9 402.8h0M159.8 403.5h0M157.0 396.6h0M148.6 404.9h0M154.3 406.3h0M164.1 391.0h0M154.1 392.4h0M148.7 395.9h0M147.3 400.1h0M157.0 388.2h0M162.6 401.4h0M151.5 401.4h0M159.9 395.2h0M155.8 407.0h0M165.3 397.3h0M165.3 383.4h0M158.6 386.2h0M158.5 389.6h0M161.1 388.2h0M151.3 391.7h0M155.7 406.3h0M165.3 400.8h0M148.6 407.0h0M151.3 395.2h0M152.9 402.1h0M154.0 407.0h0M151.5 402.1h0M154.0 405.6h0M154.3 407.7h0M149.9 405.6h0M148.7 401.4h0M168.4 406.3h0M154.3 377.8h0M152.8 393.8h0M155.4 395.9h0M158.5 391.0h0M154.1 404.2h0M162.7 402.1h0M148.5 405.6h0M154.3 386.9h0M151.5 404.9h0M157.0 404.9h0M150.1 398.7h0M154.0 408.4h0M150.0 405.6h0M154.2 380.6h0M148.5 381.3h0M147.0 405.6h0M154.1 383.4h0M158.5 395.2h0M154.0 403.5h0M155.8 399.4h0M165.4 395.2h0M151.3 375.7h0M158.4 399.4h0M168.5 385.5h0M166.8 377.1h0M152.9 407.7h0M151.5 388.2h0M150.1 403.5h0M154.0 407.0h0M151.4 403.5h0M152.6 390.3h0M149.9 407.0h0M156.9 401.4h0M163.9 399.4h0M160.0 407.0h0M147.2 398.0h0M148.4 401.4h0M156.9 400.1h0M150.1 402.8h0M159.9 399.4h0M151.4 404.2h0M154.4 404.2h0M168.2 402.8h0M149.8 402.8h0M155.5 398.0h0M149.9 387.5h0M172.7 400.8h0M148.4 402.8h0M155.6 393.1h0M150.0 393.8h0M158.4 391.7h0M154.1 406.3h0M155.6 379.2h0M154.2 402.1h0M158.4 406.3h0M151.5 394.5h0M151.5 405.6h0M152.7 388.9h0M165.4 397.3h0M154.2 407.0h0M157.0 406.3h0M152.7 394.5h0M152.7 403.5h0M154.1 406.3h0M154.2 364.6h0M151.4 403.5h0M160.0 388.2h0M151.4 387.5h0M149.9 388.2h0M154.4 399.4h0M159.8 403.5h0M151.3 400.1h0M150.1 395.9h0M148.6 393.8h0M152.7 391.0h0M154.1 398.7h0M149.9 393.1h0M157.0 370.9h0M152.6 404.2h0M151.4 388.9h0M149.9 396.6h0M154.2 394.5h0M148.6 404.9h0M151.2 401.4h0M174.1 397.3h0M151.1 397.3h0M147.1 408.4h0M158.6 400.1h0M151.3 388.2h0M148.7 395.2h0M155.7 399.4h0M159.7 392.4h0M150.0 404.9h0M169.6 396.6h0M149.8 387.5h0M176.8 404.2h0M154.1 393.8h0M148.5 388.9h0M148.7 386.9h0M151.2 397.3h0M151.2 404.2h0M148.5 397.3h0M154.1 376.4h0M158.3 380.6h0M156.9 402.8h0M151.4 370.9h0M150.0 405.6h0M169.9 395.9h0M151.5 402.8h0M157.0 402.8h0M164.1 369.5h0M152.7 404.2h0M149.9 402.1h0M150.0 396.6h0M147.1 398.7h0M155.6 393.8h0M152.8 384.8h0M165.4 379.2h0M154.2 407.7h0M157.1 393.1h0M151.5 395.9h0M147.1 401.4h0M148.7 391.0h0M160.0 398.0h0M157.0 406.3h0M155.4 402.1h0M147.0 392.4h0M162.6 407.0h0M152.7 397.3h0M150.1 394.5h0M148.7 405.6h0M162.7 400.8h0M155.5 402.1h0M149.8 400.1h0M152.8 388.9h0M164.2 403.5h0M152.8 385.5h0M150.1 383.4h0M163.9 400.8h0M152.9 396.6h0M148.7 394.5h0M159.7 404.2h0M155.6 372.3h0M154.2 401.4h0M161.1 400.1h0M151.2 395.2h0M157.2 402.1h0M149.9 399.4h0M164.2 404.9h0M155.5 388.2h0M148.4 384.1h0M154.3 398.7h0M147.0 377.8h0M154.0 397.3h0M161.3 402.8h0M155.6 388.2h0M152.8 398.7h0M150.0 392.4h0M148.7 405.6h0M154.2 400.8h0M155.4 393.1h0M148.6 400.8h0M159.8 404.2h0M157.2 403.5h0M148.5 393.8h0M150.0 401.4h0M165.4 393.1h0M154.0 405.6h0M161.2 390.3h0M148.7 388.2h0M155.5 400.8h0M154.0 407.7h0M151.4 405.6h0M148.4 402.1h0M159.9 400.8h0M148.5 402.1h0M155.4 406.3h0M155.6 404.2h0M148.6 402.8h0M151.2 398.0h0M155.4 406.3h0M161.2 399.4h0M161.0 402.1h0M160.0 398.7h0M162.6 388.9h0M150.0 395.2h0M151.4 389.6h0M155.6 388.9h0M152.6 387.5h0M172.4 399.4h0M148.6 403.5h0M181.0 400.8h0M148.5 403.5h0M158.3 384.1h0M159.7 399.4h0M148.3 398.7h0M166.7 395.9h0M149.8 396.6h0M155.5 406.3h0M169.5 388.2h0M158.6 403.5h0M148.3 405.6h0M154.3 385.5h0M154.3 392.4h0M156.9 398.7h0M151.5 388.9h0M159.7 392.4h0M147.0 402.1h0M152.7 398.7h0M148.6 379.2h0M152.8 401.4h0M154.1 391.7h0M158.3 392.4h0M151.3 402.8h0M158.5 375.0h0M160.0 407.0h0M167.0 400.1h0M156.9 402.1h0M151.3 406.3h0M157.0 386.2h0M154.1 380.6h0M147.2 394.5h0M154.1 398.0h0M155.8 377.8h0M165.6 405.6h0M151.5 404.9h0M147.2 398.0h0M146.9 402.1h0M158.6 391.0h0M148.5 390.3h0M149.9 403.5h0M149.7 401.4h0M150.0 383.4h0M154.0 399.4h0M148.6 401.4h0M154.1 396.6h0M154.3 398.7h0M150.1 383.4h0M150.0 393.8h0M149.8 399.4h0M156.8 407.0h0M151.5 400.8h0M152.6 406.3h0M158.2 403.5h0M151.4 393.8h0M151.2 407.0h0M161.4 404.2h0M151.2 385.5h0M156.8 393.8h0M154.3 400.8h0M152.9 388.9h0M147.0 386.2h0M156.9 399.4h0M149.9 388.2h0M165.4 391.0h0M152.7 399.4h0M158.6 395.2h0M155.5 407.0h0M148.4 406.3h0M173.8 394.5h0M148.4 406.3h0M161.1 392.4h0M151.2 400.8h0M165.6 405.6h0M159.7 405.6h0M158.2 407.0h0M164.1 395.9h0M148.7 402.1h0M146.9 402.1h0M162.8 401.4h0M154.2 399.4h0M154.0 388.2h0M152.9 395.9h0M167.0 397.3h0M152.7 403.5h0M152.8 388.9h0M150.1 380.6h0M162.6 393.8h0M151.2 404.9h0M157.0 393.1h0M151.4 396.6h0M154.4 378.5h0M149.9 402.8h0M148.7 376.4h0M158.4 407.0h0M158.5 407.7h0M150.0 401.4h0M148.6 398.0h0M161.3 406.3h0M159.9 403.5h0M148.7 402.1h0M161.2 406.3h0M159.7 407.7h0M148.7 395.9h0M151.5 383.4h0M166.7 404.9h0M151.5 376.4h0M151.1 404.9h0M147.1 402.8h0M147.2 395.9h0M154.2 395.9h0M168.2 398.0h0M161.0 395.9h0M146.9 402.1h0M149.8 383.4h0M158.4 379.9h0M154.1 399.4h0M158.6 404.2h0M164.1 398.7h0M176.8 400.8h0M150.1 407.7h0M149.9 393.1h0M154.1 401.4h0M151.2 408.4h0M149.9 399.4h0M151.6 374.3h0M147.3 400.1h0M148.5 402.1h0M147.0 404.2h0M162.6 404.9h0M155.4 408.4h0M158.4 407.7h0M147.1 385.5h0M146.9 402.1h0M158.3 388.9h0M151.5 402.8h0M154.1 398.7h0M148.7 404.9h0M159.8 395.2h0M161.3 398.0h0M151.4 393.1h0M161.2 404.9h0M158.6 393.1h0M147.3 404.2h0M167.0 398.7h0M148.6 402.8h0M155.6 400.1h0M148.4 388.9h0M151.4 389.6h0M148.7 406.3h0M150.1 403.5h0M155.5 402.8h0M158.4 405.6h0M150.0 389.6h0M148.7 398.0h0M148.6 379.9h0M158.5 395.2h0M148.3 401.4h0M149.9 391.7h0M157.1 392.4h0M156.9 404.9h0M148.5 396.6h0M149.8 402.8h0M157.1 393.1h0M151.4 407.0h0M148.7 386.2h0M155.7 401.4h0M162.6 404.2h0M171.0 393.8h0M149.9 406.3h0M147.0 403.5h0M152.9 408.4h0M148.4 402.8h0M155.5 400.8h0M154.3 399.4h0M174.0 404.2h0M148.5 379.9h0M149.8 392.4h0M155.4 395.9h0M158.5 382.7h0M147.3 405.6h0M154.3 388.2h0M158.6 391.0h0M157.1 398.0h0M151.3 404.9h0M148.7 400.1h0M154.3 399.4h0M151.3 396.6h0M149.9 384.1h0M162.8 394.5h0M162.6 404.2h0M152.8 388.9h0M158.2 392.4h0M151.2 384.1h0M150.0 406.3h0M154.3 393.1h0M163.9 396.6h0M159.8 367.4h0M151.3 398.0h0M152.8 396.6h0M152.8 396.6h0M150.0 406.3h0M158.5 407.7h0M151.5 386.9h0M151.4 393.8h0M152.6 402.1h0M155.6 403.5h0M154.1 391.0h0M152.8 406.3h0M154.0 397.3h0M150.1 382.0h0M161.1 398.7h0M148.4 377.8h0M149.9 396.6h0M168.4 379.2h0M166.8 398.7h0M148.7 407.7h0M152.9 396.6h0M152.8 404.9h0M154.0 401.4h0M164.0 407.0h0M157.0 395.9h0M158.5 406.3h0M149.7 401.4h0M149.9 387.5h0M146.9 394.5h0M162.8 402.1h0M151.3 407.7h0M156.8 407.0h0M147.2 398.0h0M152.7 396.6h0M155.7 407.7h0M168.4 402.1h0M152.8 386.9h0M160.0 394.5h0M158.5 396.6h0M156.8 376.4h0M152.9 395.2h0M158.2 387.5h0M151.2 407.0h0M158.5 404.2h0M151.3 404.2h0M159.8 400.1h0M149.9 404.9h0M154.3 389.6h0M149.8 404.2h0M168.5 404.2h0M150.0 403.5h0M151.1 402.1h0M167.0 398.7h0M148.3 391.0h0M155.4 400.8h0M155.6 401.4h0M158.5 404.2h0M148.3 407.7h0M150.1 404.2h0M154.1 388.9h0M149.8 395.9h0M150.1 400.8h0M149.7 395.2h0M158.3 392.4h0M148.6 395.2h0M154.1 390.3h0M154.2 398.7h0M159.9 405.6h0M169.6 405.6h0M149.8 407.7h0M152.9 400.8h0M176.9 389.6h0M161.4 393.8h0M149.9 401.4h0M148.6 393.8h0M169.6 402.1h0M152.7 402.8h0M155.6 406.3h0M155.7 401.4h0M154.3 404.9h0M164.0 402.1h0M149.9 388.9h0M153.0 395.9h0M152.9 384.8h0M168.5 407.0h0M152.9 404.9h0M157.0 400.1h0M147.1 396.6h0M165.3 404.9h0M147.0 408.4h0M150.0 402.8h0M149.8 403.5h0M148.4 402.1h0M149.9 396.6h0M151.5 405.6h0M151.4 398.7h0M154.2 402.1h0M161.1 404.9h0M178.3 403.5h0M154.1 405.6h0M163.9 404.9h0M151.5 393.1h0M168.5 389.6h0M167.0 407.0h0M148.6 404.9h0M150.1 402.1h0M163.9 400.8h0M148.4 407.7h0M146.9 401.4h0M150.0 390.3h0M148.4 392.4h0M151.5 373.6h0M148.7 406.3h0M157.0 404.9h0M157.1 406.3h0M152.8 395.9h0M152.7 395.2h0M160.0 400.1h0M150.1 391.7h0M149.8 408.4h0M168.1 382.0h0M154.1 398.0h0M151.5 384.1h0M160.0 391.7h0M166.9 393.1h0M148.6 404.9h0M172.7 404.2h0M161.2 399.4h0M156.8 398.0h0M151.4 384.1h0M152.6 383.4h0M150.1 391.7h0M147.2 393.8h0M155.4 402.8h0M149.8 401.4h0M163.9 400.1h0M147.0 390.3h0M148.6 404.2h0M154.2 395.9h0M151.5 403.5h0M149.8 398.7h0M148.5 400.8h0M147.0 398.7h0M148.7 401.4h0M152.6 402.1h0M147.3 402.1h0M158.2 407.0h0M151.2 407.0h0M175.2 395.9h0M149.8 397.3h0M169.6 392.4h0M154.3 366.7h0M169.6 400.1h0M157.0 383.4h0M159.9 407.7h0M164.0 371.6h0M155.6 407.0h0M152.9 404.9h0M151.1 398.0h0M148.5 402.1h0M162.4 393.8h0M172.4 406.3h0M149.8 400.8h0M157.2 403.5h0M147.1 397.3h0M159.9 397.3h0M169.6 406.3h0M155.7 387.5h0M157.1 392.4h0M148.3 407.0h0M164.1 398.7h0M149.8 392.4h0M161.4 407.7h0M155.7 394.5h0M148.5 390.3h0M151.2 397.3h0M152.9 407.7h0M158.4 379.2h0M161.4 402.8h0M150.0 405.6h0M148.4 400.8h0M154.1 405.6h0M148.4 402.8h0M156.8 399.4h0M148.4 404.2h0M151.3 396.6h0M158.3 401.4h0M160.0 407.0h0M178.1 403.5h0M154.3 392.4h0M155.5 404.9h0M162.7 402.8h0M148.6 408.4h0M154.3 399.4h0M154.0 402.1h0M154.2 406.3h0M149.9 398.0h0M154.2 393.8h0M154.3 407.7h0M157.1 407.0h0M148.6 401.4h0M162.8 406.3h0M148.7 377.1h0M154.2 407.0h0M175.4 395.2h0M158.4 391.7h0M158.5 393.8h0M154.0 398.0h0M151.2 399.4h0M148.4 395.9h0M168.1 396.6h0M152.8 384.1h0M155.7 385.5h0M150.0 404.2h0M154.2 400.8h0M157.0 398.0h0M151.3 403.5h0M171.0 393.1h0M164.0 398.0h0M152.8 401.4h0M148.6 408.4h0M155.6 400.1h0M147.2 382.0h0M147.2 388.2h0M168.4 394.5h0M158.2 400.8h0M148.3 376.4h0M154.1 406.3h0M151.3 388.9h0M155.7 393.1h0M157.0 389.6h0M168.3 391.7h0M148.6 403.5h0M172.3 402.8h0M151.3 407.0h0M157.2 407.0h0M161.2 404.2h0M151.4 384.1h0M155.6 378.5h0M156.8 391.0h0M155.6 404.2h0M147.2 401.4h0M152.8 398.0h0M152.7 385.5h0M147.2 404.9h0M154.0 377.8h0M148.6 400.1h0M151.2 384.8h0M152.6 405.6h0M156.9 365.3h0M162.8 407.0h0M158.4 383.4h0M162.6 397.3h0M180.9 406.3h0M165.5 394.5h0M154.3 382.7h0M161.1 407.7h0M168.4 406.3h0M148.6 407.0h0M154.3 401.4h0M158.3 407.7h0M147.3 391.7h0M154.2 407.0h0M162.8 405.6h0M161.3 404.2h0M151.4 382.7h0M154.0 407.7h0M155.4 394.5h0M152.6 404.9h0M151.3 402.1h0M147.1 400.1h0M151.5 406.3h0M151.2 394.5h0M158.6 395.2h0M155.7 387.5h0M151.5 404.2h0M157.1 389.6h0M152.9 390.3h0M169.7 395.2h0M164.1 391.7h0M174.0 398.7h0M152.7 404.9h0M158.4 385.5h0M158.4 390.3h0M162.8 393.1h0M175.3 389.6h0M155.5 400.8h0M148.4 388.2h0M152.9 406.3h0M152.8 407.7h0M162.7 401.4h0M147.3 395.9h0M159.7 405.6h0M155.7 402.8h0M158.3 402.8h0M154.4 393.8h0M155.4 405.6h0M168.4 406.3h0M162.5 402.1h0M151.4 404.2h0M158.2 382.0h0M150.0 394.5h0M166.8 393.8h0M155.8 389.6h0M164.1 388.9h0M161.4 406.3h0M155.6 404.9h0M149.8 404.9h0M158.3 381.3h0M148.7 396.6h0M156.9 380.6h0M148.4 397.3h0M154.1 404.9h0M155.5 403.5h0M159.8 384.1h0M155.4 402.8h0M151.2 383.4h0M152.9 389.6h0M183.9 403.5h0M154.4 407.7h0M155.8 386.2h0M161.2 404.2h0M154.3 398.0h0M156.8 392.4h0M150.0 405.6h0M151.2 390.3h0M154.4 395.9h0M158.3 403.5h0M148.5 402.1h0M159.8 403.5h0M152.9 403.5h0M172.7 403.5h0M154.0 405.6h0M148.5 402.8h0M158.4 402.1h0M156.9 404.9h0M149.8 406.3h0M162.5 407.0h0M147.0 399.4h0M150.0 376.4h0M151.4 398.0h0M148.7 406.3h0M165.3 397.3h0M157.1 403.5h0M151.1 397.3h0M151.2 399.4h0M151.5 403.5h0M172.7 392.4h0M149.7 407.0h0M149.7 396.6h0M147.1 402.1h0M151.4 407.0h0M157.1 389.6h0M148.5 400.8h0M149.8 395.9h0M161.4 377.1h0M154.4 389.6h0M169.6 386.2h0M148.5 404.9h0M161.3 402.1h0M151.4 394.5h0M158.6 388.9h0M147.0 396.6h0M154.2 388.9h0M152.8 394.5h0M149.9 402.8h0M151.3 399.4h0M162.7 388.2h0M162.7 403.5h0M158.4 398.0h0M158.5 384.1h0M152.8 403.5h0M149.9 389.6h0M150.0 404.2h0M151.4 380.6h0M158.4 390.3h0M155.6 398.0h0M147.3 397.3h0M152.9 402.8h0M157.1 404.2h0M150.1 402.1h0M159.7 398.7h0M148.7 400.1h0M161.3 406.3h0M165.3 401.4h0M154.0 387.5h0M168.1 397.3h0M148.6 408.4h0M152.7 393.8h0M164.1 402.1h0M150.1 392.4h0M155.5 384.8h0M161.3 401.4h0M148.5 400.8h0M150.1 406.3h0M154.1 395.2h0M157.0 390.3h0M161.2 407.0h0M159.8 393.1h0M152.8 393.1h0M148.7 406.3h0M159.8 406.3h0M169.8 402.1h0M151.2 388.9h0M155.7 406.3h0M149.9 402.8h0M167.1 400.8h0M164.2 397.3h0M152.7 378.5h0M152.7 397.3h0M155.5 400.8h0M152.8 398.0h0M151.2 402.8h0M147.1 392.4h0M158.6 382.0h0M155.6 402.8h0M151.3 405.6h0M152.8 396.6h0M151.2 393.8h0M148.6 396.6h0M150.0 402.1h0M148.6 397.3h0M152.6 379.2h0M148.6 387.5h0M159.7 395.2h0M157.2 400.1h0M169.8 376.4h0M148.6 407.7h0M152.7 407.0h0M160.0 407.7h0M154.1 408.4h0M148.6 384.8h0M148.7 404.2h0M152.8 403.5h0M158.5 380.6h0M154.0 393.8h0M157.2 381.3h0M155.6 376.4h0M148.5 407.0h0M158.5 396.6h0M155.7 399.4h0M155.5 407.0h0M151.4 393.8h0M154.1 407.0h0M159.9 400.8h0M152.9 391.0h0M150.0 388.9h0M148.6 394.5h0M152.7 401.4h0M151.5 407.7h0M175.5 397.3h0M151.4 356.3h0M151.1 385.5h0M155.4 387.5h0M155.4 395.2h0M152.9 399.4h0M154.0 393.8h0M147.0 399.4h0M155.5 398.7h0M150.1 370.9h0M154.2 395.2h0M147.2 393.1h0M148.4 401.4h0M159.6 401.4h0M154.1 400.1h0M153.0 407.7h0M168.3 397.3h0M162.8 379.9h0M148.4 377.8h0M148.3 390.3h0M152.7 379.2h0M164.1 395.9h0M158.4 399.4h0M149.7 405.6h0M151.5 404.2h0M152.7 407.7h0M148.4 382.7h0M148.5 406.3h0M150.1 389.6h0M151.5 402.1h0M169.9 400.8h0M154.4 397.3h0M157.2 404.9h0M148.6 404.9h0M151.4 402.8h0M148.4 396.6h0M161.1 395.9h0M152.7 399.4h0M148.6 407.7h0M155.4 391.0h0M149.9 390.3h0M155.6 403.5h0M148.6 400.1h0M151.2 377.1h0M155.8 393.1h0M155.6 386.9h0M155.7 395.2h0M155.7 403.5h0M154.4 404.9h0M152.8 400.1h0M151.2 405.6h0M152.6 393.8h0M160.0 402.8h0M148.7 390.3h0M151.5 391.7h0M149.8 404.9h0M165.6 395.9h0M154.0 390.3h0M151.3 400.1h0M166.9 404.9h0M179.5 399.4h0M149.9 406.3h0M149.8 402.1h0M147.0 391.7h0M155.8 397.3h0M148.5 377.1h0M148.4 405.6h0M148.4 404.2h0M155.4 387.5h0M152.9 402.1h0M148.6 395.9h0M152.8 391.7h0M150.1 395.9h0M152.7 400.1h0M154.1 404.2h0M152.8 400.8h0M162.8 385.5h0M154.1 405.6h0M165.5 393.8h0M148.5 400.8h0M147.0 403.5h0M155.5 403.5h0M148.7 402.8h0M150.0 400.1h0M149.7 379.9h0M165.5 388.2h0M147.0 395.2h0M162.7 397.3h0M152.9 401.4h0M159.7 377.1h0M148.4 390.3h0M157.0 393.8h0M158.4 402.8h0M157.1 395.9h0M154.1 394.5h0M148.6 392.4h0M154.1 392.4h0M152.9 401.4h0M154.1 402.8h0M155.4 373.6h0M152.9 401.4h0M165.3 389.6h0M151.4 395.9h0M152.8 399.4h0M148.5 399.4h0M158.6 387.5h0M156.9 388.9h0M152.7 391.7h0M149.7 393.8h0M148.7 395.9h0M147.2 398.7h0M152.8 396.6h0M155.7 407.7h0M158.5 394.5h0M162.6 393.1h0M160.0 400.1h0M152.5 385.5h0M152.9 405.6h0M163.9 382.0h0M148.3 385.5h0M150.0 405.6h0M169.8 388.9h0M148.5 391.0h0M164.2 398.7h0M151.5 391.7h0M157.0 402.8h0M154.2 398.0h0M149.9 392.4h0M151.2 399.4h0M151.2 392.4h0M155.5 395.2h0M154.1 393.8h0M151.2 398.7h0M162.7 405.6h0M149.8 407.7h0M158.4 400.1h0M155.7 401.4h0M152.7 391.0h0M154.3 383.4h0M157.2 393.1h0M148.5 388.2h0M154.1 406.3h0M151.4 407.7h0M149.8 400.8h0M154.2 407.7h0M146.9 390.3h0M149.7 396.6h0M162.7 403.5h0M151.2 401.4h0M151.5 393.1h0M147.0 400.1h0M154.3 388.9h0M152.9 405.6h0M154.0 403.5h0M157.1 401.4h0M156.8 394.5h0M151.4 383.4h0M154.3 398.7h0M148.7 391.7h0M161.1 402.8h0M151.4 400.1h0M162.7 406.3h0M154.3 402.1h0M152.7 395.2h0M155.7 395.2h0M150.0 392.4h0M148.6 407.7h0M168.2 379.9h0M152.7 385.5h0M152.8 385.5h0M152.6 401.4h0M154.1 404.2h0M152.6 406.3h0M149.8 399.4h0M151.4 406.3h0M155.6 403.5h0M148.5 395.9h0M155.6 406.3h0M152.8 394.5h0M157.0 374.3h0M147.3 400.8h0M149.9 404.2h0M149.9 400.8h0M148.6 407.7h0M155.5 387.5h0M161.1 407.0h0M158.4 400.1h0M152.6 398.7h0M164.3 390.3h0M151.2 402.8h0M157.1 404.9h0M152.8 393.8h0M148.5 403.5h0M151.2 404.2h0M149.9 401.4h0M150.1 402.8h0M151.2 403.5h0M149.8 383.4h0M151.2 406.3h0M151.4 398.7h0M152.6 395.2h0M158.6 404.9h0M151.6 402.8h0M148.4 381.3h0M155.8 377.8h0M158.2 402.1h0M154.0 401.4h0M167.0 404.9h0M161.1 404.9h0M158.3 398.0h0M150.1 389.6h0M156.8 396.6h0M157.1 402.1h0M147.0 398.7h0M161.4 397.3h0M151.3 398.0h0M152.6 395.2h0M152.6 397.3h0M160.0 396.6h0M154.0 393.1h0M153.0 397.3h0M159.6 402.1h0M161.2 405.6h0M155.5 405.6h0M157.1 408.4h0M151.1 391.7h0M149.9 402.1h0M155.7 402.1h0M153.0 398.0h0M168.3 401.4h0M158.4 403.5h0M155.7 407.7h0M146.9 395.2h0M147.3 384.8h0M154.0 398.0h0M156.9 393.1h0M148.3 407.7h0M147.3 389.6h0M167.0 404.9h0M152.6 406.3h0M172.7 393.1h0M149.8 403.5h0M151.3 397.3h0M173.8 396.6h0M150.1 407.0h0M152.6 392.4h0M158.4 390.3h0M156.9 384.1h0M149.9 405.6h0M148.4 407.7h0M164.1 407.0h0M151.3 398.7h0M164.2 404.9h0M152.9 390.3h0M157.1 389.6h0M150.0 408.4h0M151.3 386.9h0M148.7 401.4h0M160.0 404.2h0M151.1 390.3h0M150.1 400.8h0M148.4 385.5h0M154.1 407.0h0M150.1 386.9h0M155.7 396.6h0M169.7 400.8h0M151.3 392.4h0M152.9 398.7h0M148.4 400.1h0M150.0 401.4h0M151.5 403.5h0M155.4 393.8h0M159.7 394.5h0M159.7 382.0h0M150.1 398.7h0M152.8 402.8h0M184.0 372.3h0M148.4 407.7h0M148.4 406.3h0M161.2 407.7h0M149.8 394.5h0M156.8 397.3h0M157.2 379.2h0M147.2 406.3h0M152.9 391.7h0M152.7 384.8h0M178.4 406.3h0M155.7 388.2h0M171.2 385.5h0M165.4 400.8h0M161.2 395.9h0M148.3 389.6h0M148.4 399.4h0M159.8 384.1h0M161.1 400.8h0M155.5 404.2h0M155.5 395.2h0M149.9 393.1h0M162.6 377.1h0M162.6 377.1h0M152.6 389.6h0M164.3 387.5h0M151.4 394.5h0M159.6 365.3h0M157.0 393.8h0M171.1 397.3h0M172.5 398.7h0M162.6 394.5h0M156.8 400.1h0M151.1 399.4h0M148.5 403.5h0M154.2 405.6h0M162.5 404.2h0M161.3 400.8h0M168.5 398.7h0M164.3 395.9h0M154.3 393.1h0M148.6 404.9h0M155.7 393.8h0M148.5 407.7h0M158.6 395.2h0M151.3 391.7h0M156.8 389.6h0M154.2 407.7h0M155.6 388.9h0M161.4 400.1h0M159.7 407.0h0M156.9 402.8h0M151.2 404.9h0M171.0 407.0h0M155.5 396.6h0M150.0 393.1h0M150.1 385.5h0M165.4 405.6h0M146.9 390.3h0M151.4 395.9h0M167.1 404.9h0M172.6 402.8h0M151.5 400.1h0M154.1 401.4h0M158.4 407.0h0M171.3 401.4h0M157.0 382.0h0M159.8 384.8h0M166.9 406.3h0M151.2 377.1h0M154.2 407.7h0M156.8 384.8h0M152.8 405.6h0M158.5 407.0h0M151.3 399.4h0M154.1 402.1h0M149.9 402.8h0M154.2 397.3h0M160.0 394.5h0M152.6 372.3h0M161.3 399.4h0M157.0 391.0h0M166.9 400.8h0M181.0 404.9h0M151.3 398.7h0M151.5 407.0h0M152.9 402.1h0M158.5 392.4h0M148.5 407.7h0M153.0 398.0h0M172.6 404.9h0M156.9 391.7h0M161.1 403.5h0M158.6 401.4h0M147.3 389.6h0M168.4 398.7h0M158.3 401.4h0M152.6 404.2h0M148.5 398.0h0M151.5 386.9h0M154.1 407.7h0M151.2 404.2h0M158.4 391.7h0M151.6 400.1h0M158.2 406.3h0M152.7 395.9h0M165.7 397.3h0M149.7 373.6h0M161.1 405.6h0M154.1 378.5h0M161.4 404.2h0M154.0 387.5h0M158.3 407.0h0M156.9 388.2h0M150.1 400.8h0M147.2 384.8h0M156.9 395.9h0M151.3 392.4h0M154.0 392.4h0M150.0 397.3h0M164.2 388.2h0M149.9 388.2h0M156.8 395.2h0M150.0 408.4h0M152.7 395.9h0M152.9 386.9h0M161.1 380.6h0M147.2 394.5h0M148.3 398.7h0M152.9 393.1h0M154.4 399.4h0M168.2 405.6h0M155.8 407.0h0M159.6 399.4h0M172.7 402.8h0M155.7 406.3h0M155.6 405.6h0M151.3 404.9h0M155.5 393.8h0M157.1 407.0h0M156.8 394.5h0M158.6 384.1h0M154.3 406.3h0M151.2 399.4h0M155.8 404.9h0M160.0 406.3h0M155.6 381.3h0M161.1 392.4h0M151.2 398.0h0M151.3 391.0h0M149.9 405.6h0M168.2 404.2h0M154.0 398.7h0M148.5 389.6h0M152.9 406.3h0M147.0 400.1h0M147.3 391.0h0M165.5 398.0h0M162.7 400.1h0M149.7 395.9h0M148.7 385.5h0M158.3 379.2h0M158.3 384.1h0M151.3 408.4h0M148.7 397.3h0M156.9 404.2h0M150.1 385.5h0M160.0 401.4h0M172.7 389.6h0M158.5 398.0h0M154.0 398.7h0M151.1 407.0h0M147.1 398.7h0M154.0 404.2h0M154.0 405.6h0M156.9 404.9h0M150.0 400.8h0M154.3 408.4h0M166.7 399.4h0M151.2 404.9h0M148.7 406.3h0M150.0 402.8h0M150.1 407.0h0M154.2 375.0h0M152.9 403.5h0M148.5 402.8h0M169.8 401.4h0M157.2 394.5h0M161.4 384.1h0M154.1 403.5h0M154.3 407.7h0M156.9 392.4h0M148.4 402.8h0M154.2 379.2h0M166.7 404.9h0M152.8 386.2h0M154.0 402.8h0M158.4 394.5h0M190.9 395.2h0M161.2 382.0h0M152.7 404.9h0M146.9 384.8h0M152.8 406.3h0M152.7 402.8h0M158.6 398.7h0M151.4 407.7h0M157.0 404.9h0M148.7 404.2h0M151.5 389.6h0M150.0 406.3h0M152.6 402.8h0M148.4 384.8h0M152.9 401.4h0M155.7 402.1h0M152.9 391.7h0M148.6 407.7h0M155.5 402.8h0M151.3 400.8h0M152.8 382.0h0M157.0 388.2h0M158.3 395.9h0M152.9 408.4h0M154.4 385.5h0M156.8 401.4h0M154.0 391.0h0M166.9 402.1h0M151.4 379.2h0M158.5 394.5h0M161.1 378.5h0M162.7 402.8h0M152.9 398.7h0M157.0 394.5h0M154.1 403.5h0M162.6 406.3h0M155.5 402.1h0M155.4 402.1h0M149.9 390.3h0M152.7 390.3h0M152.6 394.5h0M152.6 374.3h0M149.9 405.6h0M154.0 397.3h0M156.9 398.0h0M166.7 395.9h0M179.7 399.4h0M155.4 391.7h0M154.2 393.1h0M161.1 398.0h0M179.8 405.6h0M176.6 386.9h0M151.2 391.0h0M148.7 408.4h0M146.9 400.1h0M152.9 400.8h0M151.4 402.1h0M183.9 403.5h0M152.9 402.1h0M161.2 404.2h0M154.0 383.4h0M152.9 393.8h0M150.1 392.4h0M155.4 404.2h0M158.2 400.8h0M152.6 393.8h0M165.5 391.7h0M167.1 391.0h0M148.7 401.4h0M148.4 395.2h0M148.5 397.3h0M154.3 395.9h0M155.5 393.8h0M156.9 383.4h0M152.6 398.7h0M152.9 402.8h0M149.8 404.9h0M159.9 392.4h0M152.7 406.3h0M151.4 403.5h0M163.9 404.2h0M149.7 404.9h0M164.1 395.9h0M148.5 400.8h0M158.2 407.7h0M158.2 392.4h0M152.7 394.5h0M149.7 404.2h0M152.7 380.6h0M162.5 407.0h0M152.7 388.9h0M146.9 393.8h0M151.5 404.9h0M154.3 398.7h0M169.9 395.9h0M152.8 389.6h0M156.8 406.3h0M154.4 395.2h0M163.9 399.4h0M152.9 389.6h0M159.8 405.6h0M166.9 387.5h0M155.6 404.2h0M149.8 399.4h0M154.3 404.9h0M168.3 398.7h0M158.4 405.6h0M154.1 402.1h0M148.4 398.0h0M163.9 392.4h0M152.7 397.3h0M159.7 401.4h0M155.5 384.1h0M148.4 406.3h0M152.6 395.2h0M147.3 403.5h0M147.0 399.4h0M158.3 407.7h0M155.6 406.3h0M154.3 405.6h0M149.7 393.1h0M155.5 406.3h0M188.0 392.4h0M162.5 404.9h0M148.4 400.8h0M151.5 388.9h0M151.3 397.3h0M164.0 403.5h0M154.3 406.3h0M149.8 403.5h0M155.4 389.6h0M152.7 406.3h0M155.8 388.2h0M167.0 400.1h0M150.1 402.8h0M159.7 394.5h0M150.1 395.9h0M164.2 400.8h0M152.8 402.1h0M152.6 395.9h0M161.3 404.9h0M155.6 374.3h0M156.9 394.5h0M151.5 393.8h0M164.2 404.2h0M152.8 395.9h0M149.9 396.6h0M152.6 402.1h0M155.6 404.2h0M148.4 403.5h0M152.7 403.5h0M151.3 400.8h0M152.9 396.6h0M162.7 405.6h0M146.9 402.8h0M172.7 394.5h0M162.6 389.6h0M157.1 399.4h0M161.4 392.4h0M154.1 399.4h0M155.5 403.5h0M148.5 382.0h0M158.5 400.8h0M149.9 406.3h0M154.1 405.6h0M165.4 398.0h0M157.2 382.0h0M148.3 405.6h0M166.8 390.3h0M160.0 381.3h0M151.4 406.3h0M151.3 401.4h0M158.3 394.5h0M151.2 399.4h0M162.9 400.1h0M158.5 399.4h0M157.0 368.1h0M160.0 367.4h0M149.9 407.0h0M155.5 408.4h0M159.6 395.9h0M155.7 384.8h0M150.1 400.8h0M147.0 404.9h0M153.0 402.1h0M149.8 397.3h0M154.0 400.1h0M155.5 403.5h0M154.0 397.3h0M154.1 404.2h0M149.8 402.1h0M150.1 394.5h0M156.8 402.1h0M150.0 392.4h0M165.3 379.2h0M149.9 370.9h0M161.2 384.1h0M158.3 404.9h0M157.2 382.0h0M148.6 399.4h0M149.7 393.1h0M182.3 395.2h0M161.4 381.3h0M154.3 398.7h0M148.7 406.3h0M165.6 389.6h0M150.0 382.7h0M168.1 393.1h0M148.7 399.4h0M156.9 407.7h0M154.2 400.8h0M155.5 396.6h0M168.5 402.8h0M152.8 407.7h0M148.5 405.6h0M164.1 381.3h0M146.9 393.8h0M151.2 407.7h0M157.1 382.0h0M161.2 393.1h0M159.9 397.3h0M157.2 385.5h0M147.1 382.0h0M158.2 392.4h0M152.6 402.8h0M169.5 406.3h0M155.5 388.2h0M149.8 390.3h0M165.6 378.5h0M148.6 391.7h0M159.8 395.9h0M158.3 391.7h0M149.8 406.3h0M151.4 407.0h0M154.0 392.4h0M156.8 398.7h0M159.7 406.3h0M155.5 404.9h0M147.1 391.0h0M163.9 395.2h0M152.6 404.2h0M157.2 405.6h0M154.4 403.5h0M148.5 404.2h0M152.6 379.2h0M169.8 400.1h0M152.9 395.9h0M150.0 387.5h0M152.8 406.3h0M150.1 398.7h0M171.3 398.7h0M152.6 392.4h0M152.7 403.5h0M157.2 399.4h0M154.2 395.2h0M157.1 389.6h0M152.6 373.6h0M149.8 400.8h0M154.0 391.7h0M147.0 388.9h0M148.5 392.4h0M155.6 402.1h0M172.5 393.1h0M148.5 392.4h0M164.0 401.4h0M150.1 392.4h0M152.9 402.1h0M148.5 392.4h0M151.6 404.9h0M162.9 402.8h0M162.7 403.5h0M150.1 400.8h0M156.8 396.6h0M159.9 389.6h0M159.6 398.7h0M152.6 407.7h0M149.9 402.1h0M154.2 404.2h0M147.1 393.1h0M166.9 391.0h0M164.0 402.1h0M158.3 398.0h0M151.2 398.7h0M151.1 397.3h0M150.1 407.0h0M155.5 400.1h0M157.2 390.3h0M171.0 400.1h0M159.7 407.7h0M152.6 401.4h0M166.8 403.5h0M148.7 391.7h0M151.4 393.1h0M152.9 406.3h0M162.5 395.2h0M161.4 398.0h0M154.1 404.2h0M158.4 403.5h0M154.1 402.8h0M150.0 406.3h0M149.9 388.9h0M161.2 395.2h0M161.4 398.7h0M154.4 385.5h0M148.7 407.0h0M165.7 402.1h0M149.9 391.7h0M154.3 389.6h0M159.9 398.7h0M147.0 402.8h0M165.3 396.6h0M150.1 392.4h0M148.5 398.0h0M157.1 404.2h0M166.9 400.8h0M162.8 374.3h0M152.8 402.8h0M150.1 392.4h0M171.1 395.9h0M162.7 402.8h0M158.2 398.7h0M165.3 399.4h0M155.5 403.5h0M158.4 390.3h0M149.9 395.9h0M152.9 386.9h0M149.8 401.4h0M155.6 398.7h0M152.8 406.3h0M160.0 395.2h0M148.5 393.8h0M152.7 394.5h0M164.2 401.4h0M151.5 407.7h0M154.3 394.5h0M149.7 388.2h0M155.7 405.6h0M155.6 404.9h0M154.3 393.8h0M152.7 398.7h0M147.2 408.4h0M158.3 403.5h0M150.1 400.8h0M166.9 377.1h0M155.8 406.3h0M155.7 394.5h0M165.5 394.5h0M154.2 398.7h0M159.9 386.2h0M150.0 399.4h0M160.0 399.4h0M154.3 375.7h0M154.1 407.0h0M152.6 386.9h0M164.0 388.9h0M157.2 400.1h0M164.2 397.3h0M149.7 395.2h0M150.0 398.7h0M151.2 407.7h0M162.6 395.2h0M151.2 401.4h0M156.9 397.3h0M151.5 383.4h0M150.0 391.0h0M152.8 406.3h0M179.7 395.2h0M152.6 400.1h0M154.3 404.9h0M164.2 396.6h0M151.3 401.4h0M154.2 393.1h0M151.5 395.2h0M151.6 398.0h0M159.7 404.2h0M155.5 393.8h0M151.4 404.2h0M151.2 394.5h0M150.0 407.7h0M148.5 396.6h0M148.6 405.6h0M154.3 400.1h0M152.7 384.1h0M151.5 400.8h0M155.8 403.5h0M155.5 402.8h0M151.3 398.0h0M151.2 398.7h0M159.7 378.5h0M147.3 390.3h0M168.2 398.0h0M148.7 395.9h0M158.3 397.3h0M147.0 386.2h0M157.0 407.7h0M154.1 404.2h0M162.6 403.5h0M154.1 393.1h0M157.1 389.6h0M167.0 395.9h0M148.7 402.8h0M148.3 400.1h0M159.9 402.1h0M154.2 391.0h0M151.3 394.5h0M162.5 388.2h0M154.0 402.1h0M158.4 406.3h0M147.3 400.8h0M151.4 404.9h0M152.9 393.1h0M155.6 408.4h0M146.9 402.8h0M166.8 382.0h0M159.6 406.3h0M152.9 381.3h0M149.9 402.8h0M151.3 400.8h0M156.9 388.9h0M162.7 400.1h0M158.4 389.6h0M158.2 398.0h0M154.0 401.4h0M169.8 407.0h0M148.6 384.8h0M147.3 406.3h0M152.6 406.3h0M169.5 398.0h0M148.6 407.0h0M152.9 402.1h0M151.4 399.4h0M154.3 405.6h0M150.1 395.2h0M154.2 397.3h0M154.4 398.0h0M150.0 399.4h0M151.2 380.6h0M157.1 403.5h0M148.6 391.7h0M155.7 385.5h0M162.5 404.2h0M158.3 381.3h0M152.7 407.7h0M152.9 397.3h0M151.4 386.9h0M164.2 389.6h0M150.0 377.1h0M151.5 391.0h0M164.1 398.7h0M152.7 388.9h0M156.8 382.0h0M158.5 387.5h0M176.7 404.9h0M162.8 406.3h0M154.2 389.6h0M171.1 400.1h0M164.0 395.2h0M152.6 404.9h0M149.7 396.6h0M151.2 400.8h0M154.1 400.1h0M147.2 404.9h0M147.3 389.6h0M158.6 400.8h0M154.0 398.7h0M162.6 405.6h0M159.8 407.0h0M156.8 403.5h0M149.7 394.5h0M154.2 391.0h0M151.2 404.9h0M155.6 405.6h0M161.0 407.7h0M148.3 400.8h0M148.6 404.2h0M167.0 402.1h0M158.4 388.9h0M153.0 354.2h0M161.3 393.8h0M158.3 398.0h0M157.0 386.2h0M148.4 401.4h0M150.0 393.8h0M159.7 405.6h0M158.4 406.3h0M152.8 402.1h0M152.9 395.9h0M152.9 392.4h0M147.0 402.8h0M182.5 398.0h0M154.2 400.1h0M151.2 386.2h0M164.0 391.7h0M161.1 404.2h0M155.8 388.9h0M151.3 376.4h0M151.3 385.5h0M157.1 388.2h0M162.9 389.6h0M147.0 406.3h0M155.5 400.8h0M155.8 381.3h0M149.9 404.9h0M162.7 404.9h0M154.2 405.6h0M161.1 398.7h0M154.2 401.4h0M151.1 406.3h0M146.9 400.1h0M165.4 386.2h0M169.7 378.5h0M152.9 405.6h0M158.4 404.9h0M154.1 395.2h0M162.6 393.8h0M154.0 377.8h0M155.6 404.2h0M162.6 395.2h0M152.8 407.7h0M157.1 385.5h0M151.5 400.1h0M151.5 379.9h0M148.4 402.1h0M150.0 406.3h0M161.2 395.2h0M152.8 405.6h0M148.6 408.4h0M158.2 387.5h0M151.4 403.5h0M158.5 403.5h0M175.2 396.6h0M159.8 402.8h0M157.2 395.9h0M154.1 403.5h0M164.1 401.4h0M150.1 404.9h0M156.9 407.0h0M151.5 402.1h0M151.3 402.1h0M152.8 387.5h0M150.0 393.1h0M158.5 400.8h0M147.1 395.9h0M152.9 383.4h0M154.3 404.9h0M159.9 407.0h0M151.5 385.5h0M159.8 388.2h0M154.1 402.8h0M149.7 398.0h0M152.7 400.8h0M166.7 400.1h0M161.2 401.4h0M148.3 384.1h0M150.1 400.8h0M152.6 405.6h0M154.2 402.1h0M151.5 402.8h0M152.6 392.4h0M156.9 406.3h0M154.1 400.8h0M159.8 385.5h0M151.3 395.2h0M155.5 405.6h0M148.5 391.7h0M154.0 407.7h0M162.4 398.0h0M151.2 401.4h0M151.2 405.6h0M154.4 387.5h0M152.7 402.1h0M164.1 407.0h0M151.2 390.3h0M151.5 405.6h0M152.8 406.3h0M165.4 384.1h0M158.4 404.2h0M168.3 396.6h0M154.0 384.8h0M155.4 390.3h0M154.0 404.2h0M160.0 390.3h0M167.1 393.8h0M159.9 393.1h0M149.8 404.2h0M149.9 407.0h0M162.5 405.6h0M149.9 393.8h0M152.8 384.8h0M155.7 406.3h0M149.9 406.3h0M154.0 407.0h0M152.8 386.9h0M156.8 405.6h0M149.9 402.8h0M166.7 392.4h0M156.8 379.2h0M152.9 389.6h0M148.5 393.1h0M155.5 404.9h0M151.5 400.1h0M149.8 400.8h0M165.6 392.4h0M162.8 388.9h0M151.2 391.7h0M152.8 399.4h0M171.1 400.8h0M157.2 396.6h0M148.5 404.2h0M151.4 402.8h0M147.0 400.1h0M150.0 397.3h0M168.2 395.9h0M148.3 384.8h0M148.5 398.0h0M159.7 398.0h0M159.7 395.9h0M151.2 395.2h0M159.9 406.3h0M154.2 384.8h0M152.8 404.2h0M151.4 393.1h0M166.8 403.5h0M155.5 384.8h0M162.7 404.2h0M151.2 395.9h0M154.0 405.6h0M158.4 400.1h0M161.2 405.6h0M165.7 394.5h0M154.0 399.4h0M150.1 404.9h0M166.9 379.9h0M149.8 400.8h0M154.3 382.7h0M159.9 399.4h0M151.5 398.0h0M150.0 389.6h0M162.5 395.9h0M168.5 396.6h0M154.4 407.7h0M154.3 390.3h0M147.1 395.9h0M157.0 407.0h0M149.9 406.3h0M149.8 404.9h0M148.3 407.7h0M147.2 407.7h0M148.7 404.2h0M152.8 400.8h0M149.7 392.4h0M151.3 398.7h0M158.3 393.1h0M161.1 398.0h0M148.3 381.3h0M157.0 401.4h0M148.3 407.7h0M148.6 404.2h0M160.0 402.1h0M159.7 366.7h0M157.1 390.3h0M154.0 404.2h0M151.4 405.6h0M158.2 396.6h0M154.3 406.3h0M151.5 398.7h0M172.7 407.0h0M148.5 406.3h0M157.1 398.7h0M162.5 407.7h0M164.0 393.1h0M160.0 405.6h0M169.8 401.4h0M152.9 405.6h0M155.5 392.4h0M155.6 402.8h0M161.3 400.1h0M151.3 404.9h0M157.0 404.2h0M151.4 397.3h0M152.8 407.0h0M151.2 407.0h0M151.3 404.2h0M175.5 404.9h0M148.7 399.4h0M165.6 403.5h0M154.3 392.4h0M151.5 404.9h0M146.9 399.4h0M161.3 384.1h0M171.1 400.1h0M148.6 404.9h0M151.3 402.8h0M155.6 392.4h0M149.7 402.1h0M157.1 401.4h0M148.4 405.6h0M161.4 404.9h0M149.9 402.8h0M162.7 393.8h0M149.7 398.7h0M155.4 391.0h0M165.6 375.7h0M152.9 401.4h0M154.3 383.4h0M155.7 397.3h0M168.3 393.1h0M155.8 398.0h0M152.6 404.9h0M148.4 391.7h0M155.8 400.1h0M165.6 389.6h0M162.5 404.9h0M158.2 395.2h0M151.4 395.9h0M160.0 402.1h0M155.6 404.9h0M155.8 400.8h0M151.4 394.5h0M154.1 400.8h0M148.5 394.5h0M167.0 397.3h0M152.8 395.9h0M162.6 382.7h0M155.4 382.0h0M165.3 384.1h0M157.0 403.5h0M152.7 403.5h0M150.0 402.8h0M161.2 402.1h0M151.4 396.6h0M150.1 402.1h0M158.3 400.8h0M155.8 402.1h0M151.1 407.0h0M158.5 388.9h0M148.4 407.0h0M148.6 396.6h0M161.4 402.1h0M158.6 393.8h0M148.7 407.0h0M165.5 394.5h0M185.4 369.5h0M156.9 405.6h0M149.9 406.3h0M152.6 401.4h0M148.4 404.2h0M147.0 394.5h0M147.2 381.3h0M162.6 401.4h0M155.5 380.6h0M147.3 402.1h0M166.9 399.4h0M155.7 406.3h0M150.1 406.3h0M154.2 400.8h0M155.4 398.0h0M154.2 406.3h0M154.1 401.4h0M151.4 388.9h0M148.7 406.3h0M147.1 407.0h0M148.4 395.2h0M152.7 407.0h0M158.3 404.9h0M151.5 404.9h0M158.3 407.7h0M160.0 396.6h0M149.8 391.0h0M159.7 387.5h0M151.5 399.4h0M148.7 395.2h0M151.2 406.3h0M154.3 386.9h0M147.1 389.6h0M162.8 395.2h0M152.9 396.6h0M154.1 395.2h0M155.5 405.6h0M151.5 405.6h0M152.7 394.5h0M150.0 406.3h0M151.5 399.4h0M154.1 404.9h0M148.4 404.9h0M148.3 400.1h0M156.9 398.7h0M151.3 407.0h0M151.2 394.5h0M151.4 404.9h0M164.1 406.3h0M152.8 384.1h0M155.4 391.0h0M156.8 400.1h0M163.9 401.4h0M151.3 407.0h0M154.1 392.4h0M161.2 404.9h0M154.0 405.6h0M162.7 382.7h0M155.6 395.2h0M148.4 395.9h0M169.6 390.3h0M151.2 407.0h0M150.1 407.0h0M157.1 403.5h0M161.2 382.0h0M147.0 382.0h0M161.4 398.7h0M162.5 402.8h0M149.8 402.8h0M148.3 398.7h0M152.9 389.6h0M152.8 404.9h0M150.0 384.1h0M152.6 391.0h0M165.6 402.1h0M154.4 404.2h0M154.3 400.8h0M160.0 390.3h0M159.7 406.3h0M150.0 398.7h0M152.8 398.0h0M161.1 400.1h0M151.2 382.7h0M147.1 401.4h0M181.1 395.9h0M149.7 393.8h0M154.3 386.9h0M176.8 404.9h0M162.7 393.8h0M152.6 393.1h0M147.2 391.0h0M155.6 380.6h0M154.3 395.2h0M154.3 385.5h0M159.6 405.6h0M154.4 396.6h0M159.8 379.9h0M158.5 398.0h0M148.3 398.0h0M157.1 392.4h0M181.1 398.7h0M154.0 406.3h0M155.7 400.1h0M150.0 404.9h0M157.0 379.2h0M154.2 402.8h0M154.2 386.9h0M172.7 400.1h0M164.0 393.8h0M147.2 404.2h0M147.2 375.7h0M152.9 403.5h0M162.7 404.2h0M148.6 404.9h0M150.1 391.0h0M158.6 405.6h0M165.3 404.9h0M168.4 398.0h0M151.3 400.1h0M154.0 389.6h0M155.6 390.3h0M155.4 379.9h0M152.7 399.4h0M168.4 400.1h0M162.7 407.7h0M161.1 401.4h0M155.4 405.6h0M155.8 407.7h0M150.0 400.8h0M152.9 401.4h0M154.3 398.0h0M154.2 406.3h0M161.3 388.9h0M158.5 402.1h0M154.3 407.0h0M169.6 376.4h0M159.7 400.8h0M155.8 401.4h0M154.3 384.1h0M146.9 388.2h0M162.6 398.0h0M159.8 389.6h0M146.9 406.3h0M157.0 395.9h0M155.6 379.9h0M154.1 400.1h0M148.4 393.8h0M158.5 401.4h0M150.1 407.7h0M147.1 385.5h0M151.1 401.4h0M155.6 400.1h0M148.6 389.6h0M155.7 400.8h0M165.3 402.8h0M159.8 402.8h0M152.5 398.7h0M157.1 394.5h0M147.0 400.1h0M158.4 407.0h0M147.0 379.9h0M147.1 395.2h0M149.9 403.5h0M160.0 398.0h0M148.7 402.1h0M153.0 407.0h0M161.2 395.9h0M165.4 402.1h0M152.6 405.6h0M158.6 397.3h0M162.8 390.3h0M150.0 399.4h0M158.3 398.0h0M158.5 391.7h0M166.9 394.5h0M154.2 402.1h0M154.3 388.9h0M150.0 393.8h0M152.7 391.7h0M155.7 392.4h0M147.3 407.0h0M150.0 403.5h0M176.9 404.9h0M150.1 405.6h0M155.7 395.9h0M148.7 377.8h0M165.5 402.8h0M165.6 400.1h0M149.7 400.8h0M148.6 395.9h0M154.3 405.6h0M152.9 404.2h0M161.4 394.5h0M158.4 389.6h0M157.2 407.7h0M157.1 394.5h0M173.8 405.6h0M154.2 392.4h0M151.4 391.7h0M152.8 405.6h0M161.2 407.7h0M151.4 398.7h0M148.4 388.2h0M161.3 393.1h0M154.1 395.9h0M155.7 398.7h0M152.8 385.5h0M150.1 397.3h0M172.7 387.5h0M157.1 398.0h0M151.4 398.7h0M160.0 384.1h0M159.9 390.3h0M161.1 400.1h0M154.0 407.0h0M151.4 375.0h0M151.5 408.4h0M155.7 402.8h0M164.1 396.6h0M150.0 386.9h0M155.5 403.5h0M154.2 396.6h0M149.7 397.3h0M151.3 384.8h0M148.6 393.8h0M158.3 391.7h0M155.6 408.4h0M148.5 407.7h0M152.9 393.8h0M162.8 388.2h0M148.5 398.0h0M158.4 393.1h0M152.7 408.4h0M165.3 395.9h0M159.7 392.4h0M158.5 407.0h0M157.0 397.3h0M154.1 402.8h0M165.4 401.4h0M152.7 399.4h0M164.1 387.5h0M165.4 382.7h0M159.9 386.9h0M162.7 395.2h0M147.0 405.6h0M146.9 398.7h0M155.7 386.9h0M151.2 401.4h0M149.8 407.0h0M150.0 396.6h0M158.6 407.7h0M154.1 402.1h0M155.5 388.9h0M155.7 377.1h0M151.4 406.3h0M158.6 402.8h0M154.1 392.4h0M172.4 386.9h0M152.7 400.8h0M158.3 407.7h0M160.0 400.8h0M157.1 396.6h0M156.9 401.4h0M151.2 384.1h0M149.8 405.6h0M152.7 389.6h0M152.9 392.4h0M149.8 399.4h0M158.4 399.4h0M155.5 401.4h0M151.4 397.3h0M158.5 397.3h0M154.1 393.8h0M154.3 403.5h0M159.8 406.3h0M148.4 400.8h0M179.5 392.4h0M173.8 398.0h0M149.8 398.0h0M155.5 407.7h0M154.0 399.4h0M147.0 389.6h0M152.7 393.1h0M152.6 393.8h0M171.3 393.1h0M152.7 399.4h0M169.9 386.9h0M151.4 407.0h0M155.5 384.1h0M148.4 408.4h0M152.7 396.6h0M164.1 393.8h0M159.7 393.1h0M148.6 404.2h0M158.4 398.0h0M148.5 398.7h0M159.8 399.4h0M161.3 379.9h0M155.7 399.4h0M156.9 391.7h0M171.3 398.7h0M152.6 397.3h0M154.4 403.5h0M161.1 391.7h0M152.6 406.3h0M159.8 401.4h0M158.6 402.8h0M159.6 389.6h0M157.2 396.6h0M155.8 407.7h0M157.1 403.5h0M162.6 407.0h0M165.6 402.1h0M156.8 403.5h0M154.2 407.0h0M156.9 405.6h0M159.8 407.0h0M173.8 382.7h0M151.2 398.7h0M151.2 391.0h0M154.0 403.5h0M158.4 373.6h0M157.1 384.8h0M147.2 401.4h0M152.7 389.6h0M148.7 377.8h0M154.3 396.6h0M152.9 391.0h0M154.4 404.2h0M168.3 403.5h0M152.7 396.6h0M149.8 407.0h0M159.8 379.9h0M154.3 395.9h0M148.5 382.7h0M155.7 387.5h0M148.3 404.9h0M162.7 369.5h0M154.2 398.0h0M157.2 400.1h0M149.9 406.3h0M155.5 405.6h0M162.7 404.2h0M149.7 400.1h0M148.6 386.2h0M147.0 397.3h0M155.8 391.0h0M149.8 398.7h0M152.7 402.1h0M162.6 404.2h0M150.0 395.9h0M147.2 394.5h0M163.9 404.9h0M150.0 398.7h0M148.5 400.1h0M154.0 379.2h0M149.8 407.0h0M172.7 399.4h0M159.7 398.7h0M158.4 396.6h0M160.0 404.9h0M184.0 389.6h0M156.9 402.8h0M151.5 407.7h0M154.0 395.9h0M152.9 402.1h0M165.6 400.8h0M148.7 389.6h0M151.5 404.9h0M158.6 403.5h0M154.2 403.5h0M158.4 384.8h0M152.9 408.4h0M148.6 400.1h0M155.7 381.3h0M164.3 388.2h0M148.5 403.5h0M147.0 407.7h0M149.9 407.0h0M151.2 407.7h0M148.5 399.4h0M162.8 399.4h0M151.1 401.4h0M149.8 407.0h0M157.0 398.0h0M161.2 369.5h0M152.8 404.9h0M150.0 404.9h0M148.4 393.8h0M161.4 404.9h0M155.8 407.0h0M151.3 402.1h0M154.2 402.1h0M155.8 391.7h0M154.2 400.1h0M154.3 402.8h0M155.4 377.8h0M152.9 407.7h0M151.3 393.1h0M156.8 400.1h0M149.8 399.4h0M151.4 405.6h0M148.3 398.7h0M151.4 400.8h0M154.0 405.6h0M152.7 407.7h0M147.0 401.4h0M151.3 391.0h0M152.6 407.7h0M156.9 389.6h0M160.0 380.6h0M149.7 407.7h0M148.7 400.8h0M157.2 407.7h0M154.0 402.1h0M151.4 388.2h0M151.3 408.4h0M174.0 407.0h0M161.4 387.5h0M161.2 393.1h0M147.2 387.5h0M157.0 402.8h0M151.1 405.6h0M148.7 408.4h0M151.3 393.1h0M148.5 398.7h0M157.0 392.4h0M158.4 388.2h0M154.3 407.7h0M148.7 393.1h0M157.2 396.6h0M162.9 398.7h0M149.9 395.2h0M162.7 404.9h0M161.0 400.1h0M155.6 403.5h0M147.1 398.0h0M150.0 381.3h0M154.1 406.3h0M159.7 404.9h0M151.3 393.1h0M151.3 404.2h0M158.3 400.8h0M152.9 407.0h0M151.5 403.5h0M150.1 404.9h0M155.7 408.4h0M151.3 407.0h0M155.7 403.5h0M152.9 395.9h0M152.7 394.5h0M155.4 402.1h0M157.1 397.3h0M148.4 388.9h0M154.0 395.2h0M154.0 401.4h0M163.9 400.8h0M162.5 394.5h0M156.9 405.6h0M169.8 399.4h0M159.6 407.7h0M150.1 403.5h0M148.6 407.0h0M151.5 394.5h0M164.0 393.8h0M151.5 407.7h0M173.9 393.8h0M148.6 393.8h0M151.3 393.8h0M155.7 396.6h0M151.4 402.8h0M148.5 402.8h0M148.7 402.8h0M149.8 391.0h0M147.2 391.0h0M159.7 401.4h0M152.7 363.2h0M157.0 395.2h0M157.1 384.1h0M149.8 379.2h0M165.4 388.9h0M148.7 407.7h0M155.6 393.8h0M161.1 384.1h0M169.7 379.2h0M154.1 405.6h0M148.5 395.9h0M154.3 393.8h0M154.0 408.4h0M147.1 382.0h0M160.0 405.6h0M155.4 395.9h0M161.4 394.5h0M148.7 372.3h0M149.9 405.6h0M148.7 389.6h0M155.7 399.4h0M150.1 404.2h0M149.9 402.1h0M158.2 398.0h0M154.2 405.6h0M154.3 406.3h0M155.5 405.6h0M151.4 406.3h0M151.1 396.6h0M154.1 398.7h0M150.1 407.7h0M154.4 389.6h0M152.7 399.4h0M162.7 403.5h0M151.4 389.6h0M146.9 379.2h0M158.3 363.8h0M150.6 343.0h0M158.8 362.9h0M155.8 367.8h0M165.5 387.3h0M151.5 380.2h0M155.2 355.6h0M164.1 387.5h0M150.9 376.2h0M164.5 363.9h0M169.7 386.3h0M169.2 362.6h0M153.9 342.8h0M162.5 354.8h0M178.0 361.6h0M155.4 377.3h0M156.3 355.5h0M184.2 386.2h0M185.7 370.5h0M156.9 377.5h0M152.4 371.1h0M174.7 375.6h0M154.5 367.5h0M157.1 350.5h0M156.5 378.2h0M155.7 385.3h0M152.0 356.8h0M167.5 347.5h0M156.0 348.3h0M150.7 352.3h0M153.7 353.6h0M149.3 366.6h0M166.2 373.8h0M150.9 379.6h0M154.3 370.8h0M155.8 365.1h0M162.8 377.4h0M170.4 381.3h0M153.2 359.7h0M173.2 385.2h0M148.5 364.8h0M154.1 359.2h0M154.4 353.2h0M164.7 352.1h0M161.9 354.0h0M179.7 361.6h0M152.3 363.8h0M168.3 344.9h0M148.7 346.7h0M155.4 351.8h0M150.6 381.5h0M187.2 346.2h0M153.0 348.8h0M147.9 360.3h0M154.4 351.7h0M163.3 357.8h0M153.6 372.1h0M153.3 344.9h0M154.5 363.5h0M152.9 356.9h0M177.0 365.2h0M158.3 349.8h0M150.8 343.6h0M150.3 363.6h0M175.3 383.3h0M149.7 357.7h0M148.6 382.1h0M148.5 366.0h0M172.8 384.7h0M155.8 369.9h0M152.0 378.3h0M156.3 344.6h0M161.0 374.7h0M148.8 355.5h0M154.0 362.9h0M155.7 376.7h0M152.2 378.7h0M155.2 361.8h0M154.8 352.2h0M162.7 343.9h0M161.0 351.2h0M158.3 366.2h0M153.9 382.5h0M164.6 357.2h0M153.6 386.4h0M149.3 347.4h0M156.3 347.6h0M149.4 350.3h0M164.7 351.6h0M152.4 355.1h0M152.6 383.9h0M151.3 342.8h0M149.1 366.3h0M150.4 364.0h0M156.2 379.8h0M173.5 386.5h0M165.6 379.2h0M153.2 368.0h0M158.2 384.8h0M161.2 345.1h0M165.5 373.1h0M161.4 356.9h0M165.1 361.9h0M170.0 346.4h0M159.6 380.7h0M154.3 343.7h0M155.9 350.4h0M151.1 345.0h0M157.2 353.7h0M163.4 361.9h0M205.1 322.2h0M172.6 327.8h0M186.7 330.6h0M205.1 349.3h0M209.3 377.8h0M220.6 382.0h0M192.3 384.1h0M185.3 352.8h0M181.0 345.8h0M178.2 366.7h0" stroke="#000" stroke-width="1.28" stroke-linecap="round" fill="none"/>
<line x1="143.50" y1="318.00" x2="143.50" y2="413.00" stroke="#1a1a1a" stroke-width="1.0"/>
<line x1="143.00" y1="412.50" x2="223.40" y2="412.50" stroke="#1a1a1a" stroke-width="1.0"/>
<line x1="141.70" y1="408.40" x2="143.50" y2="408.40" stroke="#333" stroke-width="0.75"/>
<text x="141.10" y="410.27" font-size="5.20" text-anchor="end" fill="#3d3d3d">0</text>
<line x1="141.70" y1="380.60" x2="143.50" y2="380.60" stroke="#333" stroke-width="0.75"/>
<text x="141.10" y="382.47" font-size="5.20" text-anchor="end" fill="#3d3d3d">40</text>
<line x1="141.70" y1="352.80" x2="143.50" y2="352.80" stroke="#333" stroke-width="0.75"/>
<text x="141.10" y="354.67" font-size="5.20" text-anchor="end" fill="#3d3d3d">80</text>
<line x1="141.70" y1="325.00" x2="143.50" y2="325.00" stroke="#333" stroke-width="0.75"/>
<text x="141.10" y="326.87" font-size="5.20" text-anchor="end" fill="#3d3d3d">120</text>
<line x1="147.10" y1="412.60" x2="147.10" y2="414.60" stroke="#333" stroke-width="0.5"/>
<text x="147.10" y="419.82" font-size="5.60" text-anchor="middle" fill="#3d3d3d">0</text>
<line x1="161.24" y1="412.60" x2="161.24" y2="414.60" stroke="#333" stroke-width="0.5"/>
<text x="161.24" y="419.82" font-size="5.60" text-anchor="middle" fill="#3d3d3d">10</text>
<line x1="175.38" y1="412.60" x2="175.38" y2="414.60" stroke="#333" stroke-width="0.5"/>
<text x="175.38" y="419.82" font-size="5.60" text-anchor="middle" fill="#3d3d3d">20</text>
<line x1="189.52" y1="412.60" x2="189.52" y2="414.60" stroke="#333" stroke-width="0.5"/>
<text x="189.52" y="419.82" font-size="5.60" text-anchor="middle" fill="#3d3d3d">30</text>
<line x1="203.66" y1="412.60" x2="203.66" y2="414.60" stroke="#333" stroke-width="0.5"/>
<text x="203.66" y="419.82" font-size="5.60" text-anchor="middle" fill="#3d3d3d">40</text>
<line x1="217.80" y1="412.60" x2="217.80" y2="414.60" stroke="#333" stroke-width="0.5"/>
<text x="217.80" y="419.82" font-size="5.60" text-anchor="middle" fill="#3d3d3d">50</text>
<text x="185.90" y="410.11" font-size="10.30" textLength="37.00" lengthAdjust="spacingAndGlyphs" stroke="#000" stroke-width="0.15">R = 0.67</text>
<text x="182.60" y="426.98" font-size="6.60" text-anchor="middle" textLength="55.00" lengthAdjust="spacingAndGlyphs">#Human enhancers</text>
<text x="182.60" y="433.98" font-size="6.60" text-anchor="middle" textLength="78.30" lengthAdjust="spacingAndGlyphs">in matched syntenic interval</text>
<text x="123.98" y="366.20" font-size="6.60" text-anchor="middle" textLength="54.50" lengthAdjust="spacingAndGlyphs" transform="rotate(-90 123.98 366.20)">#Mouse enhancers</text>
<text x="129.78" y="365.20" font-size="6.60" text-anchor="middle" textLength="80.00" lengthAdjust="spacingAndGlyphs" transform="rotate(-90 129.78 365.20)">in matched syntenic interval</text>
<text x="234.50" y="256.43" font-size="14.80" stroke="#000" stroke-width="0.25">E</text>
<path d="M281.1 386.5 L320 367 L372.6 339.9 L400 326 L445 290 L445 311.6 L400 338 L372.6 349.6 L330 374 L281.1 418.4 Z" fill="#c8c8c8" fill-opacity="0.85"/>
<line x1="281.10" y1="403.10" x2="445.00" y2="298.30" stroke="#3366ff" stroke-width="1.3"/>
<path d="M445.0 252.2h0M431.4 281.6h0M439.8 281.6h0M429.5 292.2h0M391.8 290.0h0M391.5 307.4h0M402.0 305.0h0M415.6 305.2h0M414.2 310.2h0M380.4 315.4h0M383.2 316.8h0M399.8 325.4h0M413.1 328.8h0M412.6 331.5h0M432.5 329.0h0M434.5 336.3h0M390.4 339.9h0M372.9 343.5h0M402.6 346.2h0M384.8 351.0h0M370.7 352.6h0M368.5 358.2h0M368.2 361.8h0M281.1 354.3h0M338.2 350.1h0M341.8 352.0h0M320.0 357.3h0M338.0 362.0h0M346.8 365.7h0M356.0 367.6h0M362.6 367.0h0M359.6 370.4h0M340.2 371.0h0M334.4 372.0h0M353.8 373.1h0M356.5 376.5h0M315.8 375.9h0M321.9 378.1h0M333.8 380.9h0M337.1 382.0h0M341.6 382.9h0M385.4 374.0h0M368.5 384.2h0M281.1 386.7h0" stroke="#000" stroke-width="3.90" stroke-linecap="round" fill="none"/>
<text x="440.60" y="254.91" font-size="5.30" text-anchor="end" fill="#7a7a7a">(E)brain_3</text>
<text x="413.70" y="277.91" font-size="5.30" fill="#7a7a7a">(E)brain_2</text>
<text x="422.60" y="289.11" font-size="5.30" fill="#7a7a7a">(E)brain_1</text>
<text x="413.70" y="300.21" font-size="5.30" fill="#7a7a7a">(E)retina</text>
<text x="395.70" y="336.21" font-size="5.30" fill="#7a7a7a">(A)brain_1</text>
<text x="320.00" y="359.21" font-size="5.30" fill="#7a7a7a">(A)T−cell_1</text>
<text x="283.90" y="372.61" font-size="5.30" fill="#7a7a7a">common.myeloid.prog</text>
<text x="357.40" y="375.91" font-size="5.30" fill="#7a7a7a">(A)stomach</text>
<text x="385.40" y="381.41" font-size="5.30" fill="#7a7a7a">ESC</text>
<text x="312.20" y="389.51" font-size="5.30" fill="#7a7a7a">hemato.multi.progenitor_1</text>
<text x="278.30" y="394.51" font-size="5.30" fill="#7a7a7a">(E)liver</text>
<text x="276.40" y="259.43" font-size="9.80" textLength="35.30" lengthAdjust="spacingAndGlyphs" stroke="#000" stroke-width="0.15">R = 0.78</text>
<line x1="272.50" y1="244.50" x2="272.50" y2="427.00" stroke="#1a1a1a" stroke-width="1.0"/>
<line x1="272.00" y1="426.50" x2="453.50" y2="426.50" stroke="#1a1a1a" stroke-width="1.0"/>
<line x1="269.30" y1="424.50" x2="272.50" y2="424.50" stroke="#333" stroke-width="0.75"/>
<text x="268.60" y="426.66" font-size="6.00" text-anchor="end" fill="#3d3d3d">0.0</text>
<line x1="269.30" y1="368.40" x2="272.50" y2="368.40" stroke="#333" stroke-width="0.75"/>
<text x="268.60" y="370.56" font-size="6.00" text-anchor="end" fill="#3d3d3d">0.1</text>
<line x1="269.30" y1="312.30" x2="272.50" y2="312.30" stroke="#333" stroke-width="0.75"/>
<text x="268.60" y="314.46" font-size="6.00" text-anchor="end" fill="#3d3d3d">0.2</text>
<line x1="269.30" y1="256.20" x2="272.50" y2="256.20" stroke="#333" stroke-width="0.75"/>
<text x="268.60" y="258.36" font-size="6.00" text-anchor="end" fill="#3d3d3d">0.3</text>
<line x1="304.90" y1="426.70" x2="304.90" y2="428.90" stroke="#333" stroke-width="0.5"/>
<text x="304.90" y="434.09" font-size="5.80" text-anchor="middle" fill="#3d3d3d">0.5</text>
<line x1="337.50" y1="426.70" x2="337.50" y2="428.90" stroke="#333" stroke-width="0.5"/>
<text x="337.50" y="434.09" font-size="5.80" text-anchor="middle" fill="#3d3d3d">0.6</text>
<line x1="370.10" y1="426.70" x2="370.10" y2="428.90" stroke="#333" stroke-width="0.5"/>
<text x="370.10" y="434.09" font-size="5.80" text-anchor="middle" fill="#3d3d3d">0.7</text>
<line x1="402.70" y1="426.70" x2="402.70" y2="428.90" stroke="#333" stroke-width="0.5"/>
<text x="402.70" y="434.09" font-size="5.80" text-anchor="middle" fill="#3d3d3d">0.8</text>
<line x1="435.30" y1="426.70" x2="435.30" y2="428.90" stroke="#333" stroke-width="0.5"/>
<text x="435.30" y="434.09" font-size="5.80" text-anchor="middle" fill="#3d3d3d">0.9</text>
<text x="362.35" y="445.62" font-size="8.40" text-anchor="middle" textLength="151.70" lengthAdjust="spacingAndGlyphs">Sytenic enhancer number constraint (R)</text>
<text x="249.35" y="335.20" font-size="7.65" text-anchor="middle" transform="rotate(-90 249.35 335.20)">Human−Mouse conservation rate</text>
<text x="258.15" y="335.80" font-size="7.65" text-anchor="middle" transform="rotate(-90 258.15 335.80)">(by genome alignment)</text>
<text x="465.30" y="256.73" font-size="14.80" stroke="#000" stroke-width="0.25">F</text>
<rect x="468.00" y="268.90" width="197.50" height="6.40" fill="#e0e0e0" stroke="#7f7f7f" stroke-width="0.5"/>
<rect x="468.00" y="302.00" width="197.50" height="6.40" fill="#e0e0e0" stroke="#7f7f7f" stroke-width="0.5"/>
<path d="M511.4 268.4 Q558 236 599.7 268.4" fill="none" stroke="#ff0000" stroke-width="1.3"/>
<line x1="536.10" y1="275.40" x2="536.10" y2="302.00" stroke="#1aa7e0" stroke-width="1.2"/>
<polygon points="468.00,268.70 488.90,268.70 488.90,264.10 497.90,272.10 488.90,280.10 488.90,275.50 468.00,275.50" fill="#7f7f7f" stroke="#555" stroke-width="0.4"/>
<text x="478.45" y="274.19" font-size="5.80" text-anchor="middle" fill="#f2f2f2" textLength="12.50" lengthAdjust="spacingAndGlyphs">HG1</text>
<polygon points="553.80,268.70 574.60,268.70 574.60,264.10 583.60,272.10 574.60,280.10 574.60,275.50 553.80,275.50" fill="#7f7f7f" stroke="#555" stroke-width="0.4"/>
<text x="564.20" y="274.19" font-size="5.80" text-anchor="middle" fill="#f2f2f2" textLength="12.50" lengthAdjust="spacingAndGlyphs">HG2</text>
<polygon points="649.50,268.70 628.60,268.70 628.60,264.10 619.60,272.10 628.60,280.10 628.60,275.50 649.50,275.50" fill="#7f7f7f" stroke="#555" stroke-width="0.4"/>
<text x="639.05" y="274.19" font-size="5.80" text-anchor="middle" fill="#f2f2f2" textLength="12.50" lengthAdjust="spacingAndGlyphs">HG3</text>
<polygon points="468.00,301.80 488.90,301.80 488.90,297.20 497.90,305.20 488.90,313.20 488.90,308.60 468.00,308.60" fill="#7f7f7f" stroke="#555" stroke-width="0.4"/>
<text x="478.45" y="307.29" font-size="5.80" text-anchor="middle" fill="#f2f2f2" textLength="12.50" lengthAdjust="spacingAndGlyphs">MG1</text>
<polygon points="553.80,301.80 574.60,301.80 574.60,297.20 583.60,305.20 574.60,313.20 574.60,308.60 553.80,308.60" fill="#7f7f7f" stroke="#555" stroke-width="0.4"/>
<text x="564.20" y="307.29" font-size="5.80" text-anchor="middle" fill="#f2f2f2" textLength="12.50" lengthAdjust="spacingAndGlyphs">MG2</text>
<polygon points="649.50,301.80 628.60,301.80 628.60,297.20 619.60,305.20 628.60,313.20 628.60,308.60 649.50,308.60" fill="#7f7f7f" stroke="#555" stroke-width="0.4"/>
<text x="639.05" y="307.29" font-size="5.80" text-anchor="middle" fill="#f2f2f2" textLength="12.50" lengthAdjust="spacingAndGlyphs">MG3</text>
<rect x="503.40" y="268.50" width="16.60" height="7.20" fill="#ee0000" stroke="#555" stroke-width="0.3"/>
<text x="511.70" y="274.12" font-size="5.60" text-anchor="middle" fill="#fff" textLength="7.70" lengthAdjust="spacingAndGlyphs">HE</text>
<rect x="527.40" y="268.50" width="16.70" height="7.20" fill="#1aa7e0" stroke="#555" stroke-width="0.3"/>
<text x="535.75" y="274.12" font-size="5.60" text-anchor="middle" fill="#fff" textLength="7.70" lengthAdjust="spacingAndGlyphs">HE</text>
<rect x="591.70" y="268.50" width="16.70" height="7.20" fill="#ee0000" stroke="#555" stroke-width="0.3"/>
<text x="600.05" y="274.12" font-size="5.60" text-anchor="middle" fill="#fff" textLength="7.70" lengthAdjust="spacingAndGlyphs">HE</text>
<rect x="527.40" y="301.60" width="16.70" height="7.20" fill="#1aa7e0" stroke="#555" stroke-width="0.3"/>
<text x="535.75" y="307.22" font-size="5.60" text-anchor="middle" fill="#fff" textLength="7.70" lengthAdjust="spacingAndGlyphs">ME</text>
<line x1="603.50" y1="257.70" x2="615.70" y2="257.70" stroke="#000" stroke-width="1.0"/>
<text x="620.60" y="259.50" font-size="5.00" textLength="45.00" lengthAdjust="spacingAndGlyphs" stroke="#000" stroke-width="0.08">sequence similarity</text>
<text x="538.00" y="324.51" font-size="7.80" textLength="62.40" lengthAdjust="spacingAndGlyphs">Human enhancers</text>
<polygon points="482.50,339.38 511.30,339.38 493.42,404.17 482.50,404.17" fill="#fde0e0"/>
<polygon points="493.42,404.17 563.20,388.50 563.20,413.42 493.42,413.42" fill="#e0f2fb"/>
<path d="M506.0 406.3h0M500.1 406.9h0M514.2 406.5h0M492.9 406.8h0M516.2 406.9h0M512.3 406.8h0M503.7 407.0h0M493.9 406.9h0M492.8 406.9h0M495.3 406.7h0M520.4 407.0h0M511.1 406.8h0M513.7 406.8h0M497.6 406.7h0M524.8 406.9h0M497.4 406.7h0M513.4 406.3h0M518.9 406.6h0M521.6 406.5h0M514.7 406.6h0M502.6 406.9h0M505.3 406.4h0M497.2 406.8h0M512.8 406.4h0M514.8 406.5h0M528.6 407.2h0M520.1 406.8h0M496.4 407.1h0M514.1 407.2h0M502.1 406.7h0M535.2 407.3h0M499.5 406.2h0M511.7 406.6h0M505.4 407.0h0M511.1 406.8h0M502.9 406.9h0M527.3 407.2h0M530.5 406.1h0M506.4 407.2h0M530.2 407.0h0M498.9 407.0h0M502.4 406.7h0M524.7 406.4h0M500.9 407.4h0M494.2 406.9h0M514.3 406.3h0M518.7 406.8h0M498.5 406.9h0M495.6 406.8h0M509.0 407.3h0M504.7 406.4h0M514.3 407.0h0M550.2 406.1h0M512.3 406.6h0M508.3 407.2h0M503.6 406.7h0M500.5 406.5h0M509.9 406.7h0M500.6 406.9h0M511.1 406.5h0M494.7 407.0h0M498.2 406.9h0M509.6 407.1h0M497.4 406.7h0M495.4 407.2h0M543.2 406.6h0M513.7 406.6h0M522.5 406.6h0M521.5 406.6h0M504.0 407.0h0M518.3 407.1h0M510.8 406.4h0M500.0 406.9h0M504.1 407.5h0M508.2 407.0h0M496.7 406.2h0M505.3 406.8h0M492.8 406.6h0M500.8 406.5h0M497.3 406.5h0M494.1 406.8h0M501.6 406.2h0M500.9 406.4h0M516.8 406.9h0M517.3 406.5h0M499.1 406.3h0M510.8 406.2h0M495.0 406.7h0M495.3 406.6h0M495.5 406.9h0M492.8 406.6h0M515.3 406.7h0M512.5 406.4h0M507.6 406.6h0M496.1 406.2h0M510.3 406.6h0M500.3 406.9h0M509.4 406.3h0M500.0 406.8h0M501.4 407.1h0M511.3 407.1h0M510.3 406.7h0M493.0 406.6h0M505.1 406.9h0M498.4 405.8h0M498.0 406.7h0M505.0 406.7h0M498.0 405.9h0M528.9 406.8h0M497.2 406.8h0M520.3 406.7h0M510.4 406.6h0M501.6 406.7h0M504.6 406.9h0M499.0 406.1h0M523.0 406.8h0M523.6 406.6h0M492.0 406.6h0M532.8 407.4h0M514.2 406.4h0M504.0 407.2h0M512.1 406.6h0M512.3 406.6h0M505.4 406.6h0M499.7 406.2h0M504.3 406.6h0M499.6 406.7h0M509.1 407.1h0M499.3 406.2h0M492.1 406.9h0M511.8 406.6h0M536.6 406.6h0M510.9 406.6h0M503.1 406.7h0M502.9 406.7h0M499.9 406.4h0M528.8 406.8h0M500.9 406.4h0M507.0 406.7h0M494.3 407.1h0M495.0 406.8h0M493.4 406.0h0M498.6 406.8h0M494.2 406.6h0M498.1 407.2h0M501.6 407.3h0M500.7 406.4h0M530.8 407.0h0M512.1 406.8h0M524.4 406.6h0M503.3 407.3h0M505.3 406.0h0M516.9 406.8h0M492.0 406.2h0M498.2 406.5h0M493.8 406.3h0M508.7 406.5h0M493.8 406.4h0M495.1 406.9h0M492.5 407.0h0M510.0 406.4h0M498.2 406.9h0M501.9 406.7h0M501.1 406.4h0M517.1 406.7h0M496.2 407.0h0M510.6 407.0h0M517.2 406.7h0M523.4 406.8h0M512.5 406.5h0M495.0 407.0h0M503.6 406.5h0M529.0 406.5h0M493.8 406.9h0M496.8 406.7h0M505.3 407.0h0M497.0 406.6h0M510.4 406.4h0M494.5 406.7h0M494.6 406.4h0M524.9 406.7h0M503.1 406.9h0M510.3 406.8h0M499.2 406.5h0M512.7 406.6h0M507.8 407.2h0M495.2 406.8h0M496.3 406.2h0M503.8 406.6h0M495.7 407.0h0M517.8 406.3h0M514.3 406.5h0M536.3 406.4h0M493.1 407.3h0M512.7 407.6h0M511.2 406.9h0M519.1 406.8h0M515.0 407.1h0M514.1 407.2h0M538.0 407.0h0M541.6 406.8h0M534.9 406.6h0M535.3 406.4h0M525.4 406.7h0M496.0 407.1h0M538.4 406.8h0M503.3 407.2h0M505.2 406.6h0M512.5 406.7h0M501.3 406.8h0M498.8 406.6h0M533.8 407.3h0M495.3 405.9h0M511.2 406.8h0M523.0 407.1h0M525.2 406.4h0M533.5 407.1h0M519.3 406.5h0M495.3 406.7h0M500.8 406.7h0M492.8 406.9h0M516.1 406.2h0M502.0 406.3h0M539.4 407.0h0M505.8 406.8h0M536.4 406.7h0M510.5 406.5h0M520.0 406.7h0M551.6 407.1h0M516.1 406.9h0M510.2 407.0h0M499.7 406.4h0M498.3 406.1h0M499.7 406.3h0M503.7 406.6h0M516.0 406.7h0M527.3 407.1h0M532.9 406.9h0M501.9 406.4h0M493.1 406.8h0M503.5 407.2h0M519.7 406.8h0M499.3 406.5h0M511.1 407.0h0M500.4 406.7h0M508.8 406.8h0M508.5 406.2h0M497.8 406.3h0M508.6 406.9h0M493.8 406.3h0M497.0 407.1h0M498.2 406.7h0M516.4 407.1h0M492.9 407.1h0M494.3 406.9h0M492.6 407.0h0M495.0 406.4h0M495.5 407.1h0M525.5 407.0h0M505.2 407.2h0M501.3 406.0h0M544.1 406.8h0M515.8 406.6h0M494.6 407.0h0M501.6 406.5h0M509.2 406.5h0M504.1 407.0h0M520.1 406.6h0M500.0 406.7h0M498.9 406.7h0M521.9 406.6h0M513.0 406.6h0M523.5 406.7h0M509.2 406.2h0M509.9 406.7h0M495.3 406.8h0M493.3 407.3h0M496.4 407.0h0M509.3 406.3h0M521.1 406.7h0M505.0 406.4h0M498.9 406.8h0M509.0 406.0h0M498.9 406.6h0M515.0 406.6h0M522.5 406.7h0M495.2 407.1h0M496.7 406.3h0M514.5 406.3h0M496.8 406.9h0M502.5 406.0h0M494.7 406.2h0M519.5 405.9h0M506.8 406.7h0M494.6 406.8h0M510.4 407.1h0M530.4 406.4h0M493.7 407.0h0M506.3 407.4h0M495.8 406.5h0M494.2 407.0h0M503.2 407.0h0M519.8 406.5h0M496.9 406.8h0M494.3 406.7h0M500.4 406.5h0M519.9 406.5h0M495.0 406.4h0M498.1 406.6h0M533.6 406.4h0M503.5 406.6h0M503.8 406.0h0M531.4 407.0h0M529.1 406.5h0M493.9 407.0h0M496.6 406.0h0M503.9 406.4h0M504.2 407.2h0M508.4 406.6h0M508.1 407.3h0M511.9 407.4h0M491.9 406.8h0M499.3 406.8h0M495.4 406.7h0M506.6 406.0h0M502.5 407.0h0M501.5 406.5h0M503.7 406.7h0M492.9 406.0h0M519.1 407.3h0M494.9 407.6h0M501.9 406.7h0M517.6 406.0h0M496.2 406.6h0M532.9 406.4h0M499.9 406.3h0M536.7 406.9h0M495.5 406.8h0M514.4 407.2h0M508.2 406.7h0M505.3 406.5h0M507.3 407.0h0M511.2 407.4h0M512.7 406.4h0M503.6 406.7h0M505.4 407.3h0M544.8 406.8h0M515.7 406.5h0M517.8 406.6h0M508.7 406.9h0M509.6 407.0h0M498.4 406.6h0M508.7 406.7h0M503.5 406.7h0M503.5 406.9h0M540.2 406.4h0M499.2 406.8h0M508.9 406.8h0M521.8 407.0h0M500.8 406.7h0M495.4 406.5h0M505.9 406.9h0M507.2 406.5h0M503.8 406.3h0M509.7 406.6h0M496.2 406.6h0M523.3 407.7h0M502.7 406.3h0M516.7 406.3h0M530.8 407.2h0M519.4 406.9h0M514.5 406.9h0M504.1 406.7h0M500.9 407.3h0M502.3 406.9h0M513.2 406.8h0M506.5 407.1h0M520.2 406.9h0M507.8 406.7h0M517.1 406.8h0M501.3 406.8h0M497.7 407.0h0M540.5 406.9h0M499.9 406.6h0M512.2 406.4h0M532.2 406.8h0M495.0 406.9h0M517.7 406.7h0M501.6 406.8h0M511.1 406.5h0M494.1 406.9h0M501.4 407.1h0M502.8 405.9h0M500.9 406.9h0M502.5 407.2h0M505.6 406.7h0M510.5 406.6h0M498.4 406.9h0M510.4 406.8h0M494.8 407.1h0M497.0 406.5h0M503.5 406.5h0M552.0 406.9h0M506.5 406.4h0M505.9 406.5h0M514.8 406.9h0M509.1 406.6h0M518.1 406.8h0M494.5 406.3h0M548.7 406.7h0M533.0 406.6h0M516.5 406.5h0M497.4 406.8h0M500.3 407.0h0M510.0 406.9h0M511.5 406.5h0M497.6 406.8h0M497.1 406.8h0M497.1 406.8h0M502.7 406.1h0M496.6 407.0h0M503.9 406.4h0M494.2 406.2h0M499.9 407.0h0M526.2 407.3h0M509.0 406.4h0M520.3 406.6h0M493.0 406.7h0M524.1 406.8h0M503.6 407.4h0M503.8 407.1h0M516.4 406.6h0M497.8 406.5h0M514.6 406.9h0M502.2 406.9h0M492.6 407.2h0M501.6 406.7h0M493.5 406.5h0M517.6 407.0h0M529.6 406.9h0M504.3 407.3h0M498.7 406.2h0M498.8 406.7h0M493.4 407.0h0M515.0 406.9h0M495.1 406.7h0M495.1 406.9h0M521.8 406.5h0M539.1 406.3h0M527.9 406.3h0M510.2 407.1h0M493.7 406.7h0M495.4 406.9h0M515.9 406.8h0M530.3 406.5h0M496.1 406.7h0M507.9 407.1h0M502.1 406.4h0M520.6 406.5h0M500.3 406.9h0M494.1 406.6h0M495.2 406.9h0M495.4 406.5h0M534.0 406.3h0M526.3 407.3h0M519.5 406.0h0M533.0 406.2h0M496.1 406.8h0M541.9 407.7h0M531.5 406.5h0M500.4 406.5h0M508.4 406.3h0M511.5 406.5h0M500.0 406.7h0M511.0 407.0h0M495.5 406.6h0M531.2 407.1h0M513.7 406.4h0M510.6 406.4h0M498.4 407.2h0M518.1 406.4h0M543.0 407.1h0M496.9 406.5h0M510.7 406.6h0M514.6 406.2h0M505.1 407.3h0M494.8 407.1h0M508.8 406.9h0M500.4 406.7h0M499.8 406.6h0M510.5 406.7h0M507.5 406.7h0M518.5 406.9h0M500.6 406.7h0M499.2 406.3h0M503.9 406.6h0M519.7 406.7h0M522.6 406.5h0M495.5 406.6h0M518.7 406.8h0M501.4 407.1h0M494.2 407.3h0M496.5 407.1h0M508.6 406.8h0M496.2 406.6h0M510.4 406.6h0M507.8 406.2h0M500.8 406.6h0M502.5 406.5h0M508.7 406.7h0M505.4 406.6h0M493.0 407.2h0M501.2 406.8h0M499.9 406.8h0M500.6 406.3h0M514.9 407.1h0M514.1 406.6h0M495.4 407.3h0M526.3 407.3h0M502.1 406.4h0M493.3 407.1h0M495.9 406.2h0M506.5 406.9h0M514.7 407.0h0M532.2 406.8h0M511.1 406.9h0M508.6 406.6h0M524.0 406.7h0M514.1 406.8h0M535.7 407.0h0M531.6 407.0h0M510.0 406.9h0M516.6 406.8h0M504.0 407.1h0M500.8 407.1h0M493.5 406.8h0M503.1 407.1h0M494.0 406.3h0M505.0 406.9h0M542.0 407.2h0M516.7 406.6h0M506.6 406.7h0M520.7 406.7h0M499.9 407.2h0M530.4 406.9h0M493.9 406.9h0M502.2 407.0h0M498.9 406.6h0M503.1 406.7h0M506.8 406.4h0M495.9 407.1h0M513.8 406.3h0M504.4 406.8h0M540.9 407.2h0M512.0 406.4h0M501.1 406.6h0M524.9 406.8h0M527.8 406.6h0M496.4 406.6h0M496.6 406.9h0M505.7 406.9h0M506.3 405.8h0M495.0 406.8h0M496.5 407.0h0M503.8 407.4h0M507.9 407.1h0M512.2 406.9h0M525.8 406.5h0M502.1 406.8h0M500.9 407.2h0M502.5 406.3h0M495.3 407.3h0M509.3 406.6h0M497.9 407.3h0M528.0 407.0h0M518.8 407.0h0M545.9 406.7h0M520.3 407.5h0M506.2 407.2h0M510.0 406.5h0M498.7 407.0h0M513.2 406.9h0M500.4 406.2h0M522.9 407.0h0M500.7 406.5h0M496.7 406.7h0M502.2 406.4h0M512.9 407.3h0M498.7 406.5h0M500.5 406.7h0M497.5 407.1h0M493.7 406.7h0M529.9 406.9h0M495.1 406.7h0M501.7 407.2h0M514.0 406.2h0M523.3 406.4h0M501.6 406.8h0M494.7 406.9h0M514.8 407.4h0M505.2 407.3h0M497.6 407.2h0M499.2 407.2h0M508.9 407.2h0M505.3 406.8h0M511.1 406.8h0M521.3 407.1h0M512.6 406.5h0M498.6 406.3h0M508.2 406.3h0M504.7 406.8h0M523.4 406.9h0M504.9 406.6h0M512.0 406.9h0M510.3 406.7h0M516.7 406.6h0M493.2 406.7h0M503.6 406.8h0M507.9 406.7h0M523.9 406.9h0M503.1 406.8h0M493.5 406.2h0M523.9 406.3h0M498.4 407.6h0M499.4 407.2h0M492.6 406.7h0M527.0 406.3h0M494.0 406.7h0M524.7 406.9h0M501.0 406.8h0M514.0 406.7h0M518.5 407.0h0M496.5 406.1h0M508.7 406.8h0M522.3 406.5h0M512.4 406.3h0M525.9 406.4h0M493.6 405.8h0M515.1 406.7h0M521.2 406.5h0M503.6 406.7h0M506.3 406.0h0M509.2 406.3h0M491.2 408.1h0M492.7 408.2h0M492.4 401.7h0M492.2 408.2h0M490.4 401.1h0M492.0 408.4h0M490.3 403.0h0M491.4 407.1h0M491.0 406.7h0M493.5 408.0h0M491.7 408.0h0M492.8 405.1h0M492.6 406.1h0M492.7 408.4h0M490.9 407.8h0M490.6 404.6h0M491.9 406.3h0M493.7 406.7h0M493.0 401.8h0M491.4 407.5h0M491.9 408.1h0M492.7 407.5h0M491.4 406.7h0M491.5 407.4h0M490.9 403.2h0M493.4 406.1h0M490.7 403.0h0M491.5 406.5h0M491.7 408.0h0M492.9 406.7h0M493.8 408.4h0M492.3 407.8h0M491.8 402.7h0M491.1 403.9h0M490.8 406.7h0M491.8 407.8h0M491.1 406.9h0M492.2 407.7h0M492.5 404.0h0M491.5 408.4h0M490.8 403.7h0M492.2 408.0h0M490.9 390.2h0M492.7 396.7h0M490.8 398.7h0M491.2 403.9h0M491.1 403.6h0M492.5 405.9h0M491.7 395.5h0M491.9 406.1h0M490.8 399.5h0M490.5 393.4h0M493.5 401.2h0M490.9 407.9h0M490.8 396.4h0M491.6 396.8h0M491.5 404.9h0M492.7 404.2h0M492.1 406.6h0M490.9 405.0h0M493.0 403.2h0M492.3 398.5h0M492.7 397.3h0M493.1 407.6h0M490.8 405.5h0M491.6 400.1h0M493.2 406.2h0M493.4 407.5h0M493.8 398.9h0M490.9 405.7h0M491.4 407.8h0M493.6 406.8h0M493.4 406.2h0M490.5 407.5h0M493.0 406.0h0M491.3 407.9h0M492.0 404.4h0M490.4 406.7h0M492.4 404.1h0M493.5 397.4h0M493.7 407.4h0M491.8 404.9h0M493.4 406.4h0M491.5 406.4h0M490.4 403.4h0M491.9 402.5h0M492.5 403.6h0M492.8 406.4h0M491.3 407.7h0M492.2 398.3h0M490.3 405.5h0M493.3 402.9h0M491.6 406.3h0M492.1 398.1h0M490.6 402.4h0M492.2 408.1h0M493.5 403.3h0M493.0 406.5h0M492.2 408.1h0M491.3 405.1h0M490.8 406.4h0M491.9 401.2h0M492.4 406.2h0M491.8 401.2h0M492.5 404.0h0M492.9 398.8h0M493.7 403.2h0M493.7 404.7h0M492.6 407.6h0M492.5 407.6h0M502.3 405.8h0M495.4 405.1h0M498.2 405.6h0M495.5 404.6h0M501.3 405.5h0M511.9 405.4h0M493.0 403.0h0M501.0 402.9h0M495.1 404.9h0M500.8 400.3h0M497.7 403.4h0M498.4 403.8h0M496.8 405.4h0M502.7 398.5h0M495.0 405.7h0M500.8 404.5h0M495.3 401.8h0M496.5 404.9h0M496.1 403.1h0M502.7 404.5h0M494.1 400.7h0M507.5 404.1h0M493.4 401.4h0M493.9 404.5h0M525.6 404.9h0M526.9 405.0h0M509.7 405.2h0M495.0 405.7h0M503.4 399.1h0M495.5 403.5h0M492.9 404.7h0M493.4 405.1h0M510.4 403.7h0M507.4 401.7h0M499.4 403.5h0M493.3 405.6h0M496.9 400.9h0M495.4 402.4h0M492.7 404.1h0M520.2 403.9h0M490.3 358.6h0M491.1 362.2h0M491.9 362.9h0M494.2 362.2h0M494.6 352.9h0M495.8 352.9h0M498.9 371.4h0M495.8 380.0h0M493.4 382.1h0M503.6 387.8h0M512.2 387.8h0M491.1 369.3h0M492.6 376.4h0M496.6 383.5h0M555.4 407.0h0M551.4 407.4h0M491.1 365.7h0M491.5 372.8h0M491.9 392.1h0M491.1 390.6h0" stroke="#000" stroke-width="1.00" stroke-linecap="round" fill="none"/>
<line x1="493.42" y1="404.17" x2="511.30" y2="339.38" stroke="#ee3333" stroke-width="0.6"/>
<line x1="483.23" y1="404.17" x2="493.42" y2="404.17" stroke="#ee3333" stroke-width="0.6"/>
<line x1="493.42" y1="404.17" x2="563.20" y2="388.50" stroke="#3333dd" stroke-width="0.6"/>
<line x1="493.42" y1="404.17" x2="493.42" y2="412.71" stroke="#3333dd" stroke-width="0.6"/>
<text x="482.30" y="334.03" font-size="7.30" textLength="35.40" lengthAdjust="spacingAndGlyphs">Emb. Brain</text>
<text x="561.40" y="346.77" font-size="5.20" text-anchor="end" fill="#ff0000" textLength="15.40" lengthAdjust="spacingAndGlyphs">N=100</text>
<text x="561.40" y="352.07" font-size="5.20" text-anchor="end" fill="#1aa7e0" textLength="15.40" lengthAdjust="spacingAndGlyphs">N=873</text>
<line x1="482.50" y1="338.00" x2="482.50" y2="416.00" stroke="#1a1a1a" stroke-width="1.0"/>
<line x1="482.00" y1="415.50" x2="566.20" y2="415.50" stroke="#1a1a1a" stroke-width="1.0"/>
<line x1="480.70" y1="412.00" x2="482.50" y2="412.00" stroke="#333" stroke-width="0.75"/>
<text x="480.10" y="413.62" font-size="4.50" text-anchor="end" fill="#666">0.00</text>
<line x1="480.70" y1="394.20" x2="482.50" y2="394.20" stroke="#333" stroke-width="0.75"/>
<text x="480.10" y="395.82" font-size="4.50" text-anchor="end" fill="#666">0.25</text>
<line x1="480.70" y1="376.40" x2="482.50" y2="376.40" stroke="#333" stroke-width="0.75"/>
<text x="480.10" y="378.02" font-size="4.50" text-anchor="end" fill="#666">0.50</text>
<line x1="480.70" y1="358.60" x2="482.50" y2="358.60" stroke="#333" stroke-width="0.75"/>
<text x="480.10" y="360.22" font-size="4.50" text-anchor="end" fill="#666">0.75</text>
<line x1="480.70" y1="340.80" x2="482.50" y2="340.80" stroke="#333" stroke-width="0.75"/>
<text x="480.10" y="342.42" font-size="4.50" text-anchor="end" fill="#666">1.00</text>
<line x1="484.80" y1="415.30" x2="484.80" y2="417.30" stroke="#333" stroke-width="0.5"/>
<text x="484.80" y="420.62" font-size="4.50" text-anchor="middle" fill="#666">0.00</text>
<line x1="504.40" y1="415.30" x2="504.40" y2="417.30" stroke="#333" stroke-width="0.5"/>
<text x="504.40" y="420.62" font-size="4.50" text-anchor="middle" fill="#666">0.25</text>
<line x1="524.00" y1="415.30" x2="524.00" y2="417.30" stroke="#333" stroke-width="0.5"/>
<text x="524.00" y="420.62" font-size="4.50" text-anchor="middle" fill="#666">0.50</text>
<line x1="543.60" y1="415.30" x2="543.60" y2="417.30" stroke="#333" stroke-width="0.5"/>
<text x="543.60" y="420.62" font-size="4.50" text-anchor="middle" fill="#666">0.75</text>
<line x1="563.20" y1="415.30" x2="563.20" y2="417.30" stroke="#333" stroke-width="0.5"/>
<text x="563.20" y="420.62" font-size="4.50" text-anchor="middle" fill="#666">1.00</text>
<text x="524.60" y="428.03" font-size="6.20" text-anchor="middle" textLength="48.80" lengthAdjust="spacingAndGlyphs">seq−similarity with</text>
<text x="524.60" y="433.93" font-size="6.20" text-anchor="middle" textLength="66.70" lengthAdjust="spacingAndGlyphs">top matched M.enhancer</text>
<text x="463.03" y="376.10" font-size="6.20" text-anchor="middle" textLength="48.40" lengthAdjust="spacingAndGlyphs" transform="rotate(-90 463.03 376.10)">seq−similarity with</text>
<text x="468.83" y="376.10" font-size="6.20" text-anchor="middle" textLength="65.10" lengthAdjust="spacingAndGlyphs" transform="rotate(-90 468.83 376.10)">top matched H.enhancer</text>
<polygon points="595.50,339.38 624.80,339.38 606.92,404.17 595.50,404.17" fill="#fde0e0"/>
<polygon points="606.92,404.17 676.70,388.50 676.70,413.42 606.92,413.42" fill="#e0f2fb"/>
<path d="M606.8 376.2h0M604.8 389.8h0M606.0 390.6h0M607.2 392.9h0M604.2 392.8h0M605.3 406.9h0M606.6 404.7h0M606.5 364.9h0M606.4 375.8h0M605.9 373.9h0M604.7 394.9h0M605.8 407.9h0M606.4 407.6h0M607.1 400.7h0M606.4 406.8h0M605.9 394.5h0M605.8 373.8h0M606.8 404.3h0M605.7 406.2h0M605.8 408.4h0M605.3 389.4h0M604.1 374.5h0M605.9 393.4h0M604.5 396.2h0M605.3 403.7h0M604.1 392.6h0M606.7 398.6h0M605.1 388.8h0M606.6 399.6h0M607.0 393.6h0M606.3 400.7h0M606.2 385.4h0M606.5 399.0h0M605.5 394.3h0M605.2 393.5h0M605.3 388.9h0M606.1 404.0h0M606.3 361.3h0M606.5 403.5h0M605.1 391.0h0M605.5 399.1h0M604.8 403.0h0M607.1 398.0h0M605.9 389.0h0M604.1 404.4h0M604.1 394.3h0M606.9 385.6h0M605.6 401.4h0M604.8 403.9h0M607.0 404.2h0M604.3 389.0h0M604.1 394.3h0M607.0 396.8h0M606.1 408.4h0M606.2 390.1h0M607.2 406.9h0M605.0 391.5h0M605.3 397.5h0M606.8 397.7h0M606.0 402.6h0M607.1 387.9h0M603.9 401.3h0M604.5 395.9h0M606.4 376.1h0M605.0 394.6h0M606.0 392.9h0M607.1 385.8h0M604.3 393.2h0M605.0 397.8h0M607.2 392.5h0M604.1 399.0h0M604.8 402.1h0M605.5 401.0h0M604.2 398.9h0M605.2 398.3h0M605.7 405.2h0M604.8 365.7h0M606.3 399.3h0M605.4 405.2h0M604.7 394.5h0M606.8 399.4h0M606.3 391.8h0M604.0 406.7h0M605.6 400.7h0M606.5 407.9h0M607.0 401.6h0M604.4 396.2h0M606.9 406.7h0M606.4 395.1h0M606.6 372.8h0M604.8 392.8h0M605.4 392.3h0M604.3 407.3h0M605.6 402.6h0M605.6 402.0h0M604.4 375.2h0M605.8 388.5h0M604.3 379.5h0M604.8 398.7h0M604.0 393.8h0M606.0 405.3h0M606.2 395.7h0M605.7 401.4h0M605.5 390.2h0M605.3 407.1h0M606.8 404.6h0M606.9 382.4h0M604.9 390.6h0M607.1 374.7h0M607.0 392.9h0M606.8 402.9h0M607.1 378.1h0M604.7 408.0h0M604.8 407.8h0M605.5 388.9h0M605.6 381.2h0M604.4 408.4h0M604.9 405.9h0M607.0 408.2h0M605.4 386.1h0M604.3 400.1h0M605.2 400.5h0M605.5 388.6h0M606.0 406.4h0M604.9 389.5h0M606.1 404.7h0M606.1 376.9h0M604.7 405.7h0M604.7 399.3h0M605.0 389.2h0M606.6 389.8h0M605.2 404.8h0M604.1 400.4h0M604.3 367.3h0M605.7 390.8h0M606.8 408.4h0M606.1 406.6h0M605.5 396.3h0M604.3 382.1h0M606.9 390.7h0M606.7 391.2h0M606.2 408.4h0M606.0 391.7h0M605.2 394.6h0M605.2 396.1h0M604.1 389.1h0M606.8 382.0h0M605.2 408.1h0M606.6 394.3h0M604.1 401.2h0M605.2 393.7h0M604.2 398.4h0M605.7 396.6h0M606.3 398.0h0M605.7 398.1h0M605.6 392.1h0M605.1 397.1h0M606.8 408.2h0M605.0 406.3h0M604.9 405.2h0M605.7 401.9h0M604.3 379.6h0M605.8 388.6h0M606.4 380.7h0M606.0 404.1h0M604.8 385.0h0M604.0 391.8h0M605.3 390.8h0M604.4 408.3h0M605.1 398.2h0M605.0 394.8h0M606.4 384.3h0M605.7 391.4h0M607.1 405.3h0M604.9 393.8h0M606.0 397.1h0M606.1 394.6h0M604.2 407.8h0M606.8 392.2h0M604.4 392.4h0M604.2 393.6h0M606.8 407.7h0M606.0 403.8h0M604.1 392.9h0M605.8 407.6h0M606.9 406.0h0M606.0 375.9h0M606.1 392.0h0M606.2 382.2h0M606.8 384.8h0M604.5 405.4h0M605.1 402.0h0M605.1 397.5h0M604.5 394.2h0M605.4 393.3h0M606.3 404.2h0M606.4 406.5h0M605.1 391.1h0M606.5 401.4h0M606.4 407.2h0M606.5 408.3h0M606.8 398.0h0M606.2 381.8h0M604.8 391.5h0M606.0 398.7h0M605.6 373.7h0M605.1 406.2h0M604.8 396.0h0M606.1 390.3h0M604.3 393.0h0M606.2 395.6h0M604.0 399.5h0M606.7 401.8h0M607.1 395.8h0M607.0 399.5h0M605.7 399.5h0M606.3 403.3h0M605.2 408.4h0M607.0 394.9h0M606.1 403.6h0M606.1 396.5h0M605.8 397.0h0M605.4 399.2h0M607.1 404.4h0M605.6 396.0h0M605.2 389.2h0M606.0 390.6h0M605.0 405.7h0M605.7 400.4h0M604.2 404.5h0M605.0 404.7h0M604.4 359.1h0M606.4 404.6h0M607.0 387.5h0M605.9 401.5h0M605.0 395.2h0M605.0 408.2h0M605.7 388.4h0M604.0 405.7h0M605.8 399.9h0M605.3 403.9h0M605.4 403.4h0M606.1 407.1h0M607.0 397.5h0M607.0 401.3h0M606.4 408.2h0M606.2 392.0h0M604.0 400.8h0M604.1 393.0h0M606.9 395.2h0M606.9 381.5h0M604.1 407.9h0M604.2 397.4h0M604.3 394.5h0M607.0 389.3h0M604.6 404.9h0M605.1 388.8h0M607.1 407.5h0M604.7 403.9h0M605.4 400.8h0M606.6 399.3h0M605.5 397.8h0M604.5 398.1h0M606.2 399.8h0M604.3 396.4h0M606.1 392.5h0M606.8 390.0h0M604.7 380.0h0M607.0 392.3h0M605.1 394.5h0M606.7 401.1h0M603.9 398.2h0M604.3 402.2h0M606.1 393.2h0M606.3 374.9h0M603.9 388.9h0M604.0 385.7h0M605.8 396.6h0M606.8 395.2h0M606.9 405.2h0M605.7 385.1h0M605.3 389.6h0M604.1 392.1h0M604.3 396.0h0M604.1 376.7h0M604.0 401.4h0M606.4 402.9h0M604.1 407.6h0M606.6 408.4h0M604.9 405.4h0M604.4 380.5h0M604.0 407.5h0M606.6 385.7h0M604.0 398.5h0M605.0 408.2h0M607.1 400.8h0M604.8 405.1h0M604.1 404.7h0M606.1 391.0h0M605.8 400.3h0M605.8 399.2h0M604.6 383.8h0M604.7 396.9h0M605.1 405.6h0M604.1 394.2h0M604.3 398.4h0M605.9 401.6h0M606.7 407.8h0M605.5 406.4h0M604.7 398.9h0M605.3 406.8h0M605.9 393.9h0M605.9 390.9h0M604.4 401.6h0M606.5 398.4h0M605.3 380.7h0M604.7 389.7h0M606.9 393.6h0M607.1 403.4h0M606.4 405.5h0M605.8 356.0h0M605.1 386.5h0M605.1 402.9h0M607.1 405.4h0M605.0 385.4h0M605.2 392.9h0M605.1 393.0h0M604.0 385.2h0M605.6 390.5h0M604.2 381.6h0M606.3 408.2h0M606.2 407.4h0M607.0 391.6h0M604.7 393.4h0M605.1 391.2h0M604.6 393.6h0M606.9 405.6h0M604.7 389.3h0M606.6 383.9h0M604.9 390.1h0M606.1 366.9h0M605.0 404.6h0M606.3 386.6h0M605.1 401.1h0M605.2 376.5h0M606.9 403.5h0M606.8 403.0h0M604.3 397.4h0M605.2 401.8h0M606.5 408.1h0M604.2 396.3h0M605.6 402.7h0M604.2 394.3h0M604.4 376.4h0M607.2 398.9h0M604.0 376.5h0M606.0 386.7h0M606.6 405.4h0M606.4 395.1h0M604.4 383.9h0M606.7 375.6h0M606.1 403.5h0M607.2 394.8h0M605.5 406.8h0M606.0 366.2h0M605.5 389.3h0M606.1 388.3h0M607.2 374.4h0M604.3 394.1h0M606.5 389.0h0M604.3 390.3h0M606.7 382.5h0M606.9 379.8h0M606.1 404.0h0M607.2 389.7h0M606.6 402.2h0M605.8 405.2h0M605.7 393.7h0M606.3 404.5h0M606.1 403.6h0M605.6 383.4h0M605.1 394.9h0M605.9 382.9h0M607.1 404.5h0M604.7 407.8h0M605.7 401.2h0M607.0 380.7h0M605.6 394.9h0M606.8 402.6h0M605.8 396.9h0M607.1 401.1h0M606.2 361.9h0M605.8 408.1h0M604.1 405.0h0M606.4 393.1h0M606.4 392.7h0M605.1 380.6h0M607.0 403.2h0M606.8 375.8h0M605.8 387.3h0M605.6 394.5h0M604.8 400.8h0M605.2 397.6h0M604.9 406.4h0M604.6 402.6h0M604.4 390.3h0M605.9 392.5h0M604.5 400.6h0M606.9 393.5h0M605.8 398.9h0M604.8 396.5h0M605.0 405.7h0M606.6 399.4h0M605.3 399.5h0M604.0 404.1h0M606.9 406.2h0M604.8 397.3h0M606.9 401.8h0M607.0 405.4h0M604.5 398.8h0M605.2 401.7h0M604.1 396.4h0M606.4 378.5h0M604.2 393.2h0M605.4 389.5h0M606.8 393.9h0M604.9 408.2h0M604.6 404.3h0M604.3 395.2h0M605.5 389.0h0M604.0 400.6h0M605.9 382.1h0M604.2 404.7h0M605.5 406.2h0M605.4 404.5h0M607.0 406.4h0M604.1 404.9h0M606.4 380.5h0M605.1 378.6h0M605.5 391.0h0M605.3 374.8h0M604.0 393.8h0M605.1 397.4h0M606.8 394.8h0M606.9 393.4h0M605.6 398.0h0M605.3 379.4h0M606.0 384.1h0M605.8 392.8h0M606.1 400.1h0M604.2 406.7h0M604.2 406.9h0M606.3 403.2h0M604.6 402.7h0M605.9 407.5h0M606.3 395.4h0M606.5 405.1h0M606.9 392.4h0M604.2 406.9h0M607.0 395.9h0M606.6 367.0h0M604.3 392.7h0M606.2 395.2h0M605.7 396.3h0M607.0 402.5h0M604.1 401.3h0M606.9 397.3h0M606.8 397.4h0M607.1 390.5h0M605.9 400.6h0M604.8 362.6h0M605.2 406.3h0M606.8 378.8h0M604.5 408.4h0M604.2 405.5h0M606.1 399.7h0M604.6 359.8h0M607.0 407.7h0M604.1 392.2h0M605.2 360.3h0M604.8 383.3h0M604.4 407.4h0M604.5 403.8h0M604.6 407.8h0M605.9 398.5h0M605.7 385.3h0M606.6 388.8h0M604.9 403.2h0M606.5 406.5h0M606.5 401.5h0M606.7 407.9h0M604.8 403.3h0M604.8 405.1h0M607.2 381.0h0M607.0 395.4h0M605.6 402.8h0M605.4 399.3h0M604.5 389.4h0M605.8 391.4h0M604.9 390.2h0M604.8 405.9h0M605.8 390.6h0M604.7 403.0h0M604.0 403.1h0M607.2 396.4h0M605.8 357.3h0M605.8 396.4h0M604.0 397.7h0M605.3 405.0h0M606.1 389.8h0M605.9 401.9h0M604.1 407.5h0M604.7 391.5h0M604.6 383.3h0M604.3 407.0h0M604.6 366.8h0M606.5 404.5h0M605.0 408.2h0M604.7 395.0h0M606.9 401.1h0M605.6 404.5h0M605.8 377.7h0M604.6 404.6h0M606.1 392.2h0M606.0 395.6h0M605.1 393.6h0M606.5 393.1h0M605.3 399.9h0M605.2 390.6h0M604.1 396.8h0M606.2 398.8h0M605.1 378.2h0M604.0 392.1h0M606.1 361.0h0M604.5 389.3h0M604.2 399.3h0M605.3 396.3h0M606.5 388.7h0M605.8 394.1h0M605.9 400.0h0M604.0 400.7h0M606.8 406.2h0M604.2 383.7h0M606.1 376.9h0M604.3 406.8h0M604.0 402.2h0M606.6 407.3h0M605.7 401.1h0M604.6 397.5h0M607.0 406.4h0M605.1 403.2h0M605.8 361.3h0M606.8 389.9h0M604.6 401.2h0M606.8 384.2h0M604.0 379.7h0M606.8 390.8h0M606.2 384.5h0M605.4 398.0h0M606.0 408.0h0M604.4 388.6h0M606.7 390.3h0M604.7 392.8h0M605.7 407.0h0M604.8 389.6h0M605.3 390.3h0M605.0 408.4h0M606.0 400.0h0M605.3 400.6h0M606.5 389.8h0M604.2 395.4h0M604.2 383.1h0M605.1 392.0h0M606.0 390.0h0M605.0 402.2h0M605.5 388.0h0M607.1 388.0h0M604.9 406.8h0M605.0 403.0h0M605.2 392.8h0M605.9 400.4h0M604.2 404.1h0M604.2 403.9h0M604.5 378.8h0M604.4 388.3h0M604.2 386.1h0M604.3 398.6h0M606.5 374.0h0M606.6 384.4h0M606.0 403.0h0M605.4 373.8h0M606.0 395.2h0M606.3 390.1h0M605.8 383.9h0M606.1 397.0h0M606.6 407.4h0M604.6 401.9h0M607.1 406.2h0M605.2 392.1h0M607.2 406.8h0M606.1 390.2h0M604.4 378.0h0M605.6 378.8h0M606.7 406.2h0M605.8 394.4h0M606.7 386.0h0M606.8 400.0h0M605.9 379.2h0M605.4 408.4h0M606.9 379.0h0M606.3 398.9h0M606.8 401.7h0M606.8 396.6h0M604.2 403.7h0M604.6 406.1h0M606.7 397.0h0M604.8 389.8h0M605.2 402.1h0M606.3 363.8h0M605.5 408.1h0M606.0 407.3h0M607.0 372.3h0M606.4 385.3h0M606.2 405.9h0M605.7 406.8h0M605.5 404.8h0M604.4 394.9h0M604.7 403.2h0M605.5 357.9h0M606.2 402.0h0M607.2 395.4h0M606.8 406.1h0M604.2 382.2h0M605.5 377.6h0M604.2 390.5h0M606.4 393.2h0M606.7 405.5h0M606.8 395.8h0M604.5 404.0h0M607.0 382.8h0M605.9 406.7h0M605.4 388.9h0M605.0 379.0h0M604.6 404.3h0M605.9 399.1h0M606.8 403.4h0M606.1 397.4h0M607.0 392.3h0M605.1 385.4h0M607.2 405.2h0M620.1 407.0h0M606.9 406.8h0M607.7 406.5h0M608.0 405.9h0M607.4 407.0h0M607.6 406.7h0M610.1 407.0h0M612.1 407.0h0M613.3 407.2h0M610.8 407.1h0M620.7 406.8h0M613.0 406.1h0M621.5 406.7h0M610.5 407.0h0M611.7 406.9h0M607.0 406.7h0M608.8 406.4h0M606.8 406.7h0M613.7 406.4h0M607.8 406.7h0M609.0 407.3h0M614.3 407.1h0M611.7 406.5h0M606.8 407.1h0M615.2 406.6h0M612.3 406.7h0M609.2 406.6h0M607.9 406.7h0M609.6 406.4h0M609.4 407.1h0M612.6 406.7h0M608.3 407.1h0M609.8 407.4h0M609.4 406.5h0M611.5 406.4h0M607.5 406.7h0M608.1 406.8h0M618.5 406.9h0M613.4 406.0h0M606.4 406.4h0M607.6 406.3h0M608.4 407.1h0M613.5 406.4h0M607.5 407.4h0M615.2 406.1h0M615.1 406.7h0M608.8 406.0h0M608.2 406.9h0M613.3 406.0h0M626.2 406.4h0M609.5 406.7h0M610.2 406.6h0M615.3 406.4h0M611.9 406.7h0M613.8 406.7h0M617.9 406.5h0M608.4 406.2h0M607.4 407.0h0M609.6 407.3h0M620.8 407.0h0M606.6 406.5h0M610.9 406.4h0M608.2 406.9h0M608.9 406.3h0M607.4 406.7h0M609.5 406.9h0M607.2 406.8h0M613.4 406.2h0M611.2 406.6h0M608.3 406.6h0M621.6 406.2h0M606.2 406.9h0M611.1 406.5h0M607.1 407.1h0M610.5 406.1h0M611.5 406.8h0M616.4 407.2h0M614.7 406.7h0M627.7 406.2h0M619.9 406.5h0M614.1 406.8h0M609.9 407.2h0M614.2 406.7h0M612.6 406.9h0M614.3 406.5h0M616.2 407.0h0M608.2 407.0h0M612.5 405.9h0M608.6 407.0h0M625.7 406.7h0M607.6 406.3h0M607.0 407.0h0M608.0 406.7h0M617.3 406.6h0M612.4 407.2h0M608.9 407.0h0M606.9 406.2h0M615.7 406.1h0M617.6 406.8h0M609.5 406.5h0M609.0 406.8h0M607.9 406.6h0M611.8 407.3h0M606.7 406.8h0M613.2 406.7h0M608.4 407.0h0M615.7 407.0h0M612.1 406.5h0M608.4 406.6h0M606.8 406.3h0M607.9 406.5h0M619.7 405.9h0M608.6 407.0h0M609.9 406.4h0M613.1 407.7h0M626.1 407.3h0M607.4 406.2h0M612.0 407.1h0M613.2 406.3h0M615.2 406.3h0M606.6 406.8h0M624.3 407.0h0M607.7 406.6h0M608.2 406.7h0M608.2 407.3h0M612.7 406.5h0M606.5 406.7h0M608.1 406.7h0M609.7 407.0h0M613.0 406.6h0M607.4 407.0h0M608.8 407.1h0M606.9 406.9h0M609.4 406.6h0M619.2 406.9h0M608.8 407.0h0M615.1 406.6h0M612.4 406.7h0M612.5 406.6h0M610.4 406.3h0M609.2 406.6h0M607.8 406.9h0M616.5 406.9h0M607.7 406.0h0M611.6 406.6h0M608.7 406.6h0M609.5 406.7h0M608.1 406.6h0M609.7 406.6h0M607.8 406.8h0M617.4 406.6h0M607.4 406.9h0M608.3 406.8h0M607.2 406.8h0M607.4 406.6h0M606.9 406.7h0M609.9 406.3h0M611.2 406.3h0M611.6 406.9h0M611.5 406.0h0M606.7 407.2h0M609.6 406.8h0M608.6 407.0h0M613.5 407.0h0M619.0 406.8h0M610.4 406.8h0M608.1 406.9h0M608.3 406.4h0M617.9 407.3h0M608.8 406.9h0M610.8 406.5h0M608.6 406.5h0M607.8 407.0h0M612.8 406.3h0M612.5 406.7h0M616.8 407.4h0M618.6 406.9h0M607.0 406.7h0M607.6 407.1h0M606.5 407.0h0M610.0 406.6h0M609.5 406.9h0M625.8 406.5h0M626.5 406.2h0M624.8 406.2h0M608.3 406.8h0M607.4 406.9h0M606.6 406.7h0M616.3 406.8h0M609.0 407.3h0M616.1 406.5h0M615.6 406.8h0M613.8 406.3h0M611.2 406.9h0M613.3 406.5h0M619.0 407.1h0M617.0 407.3h0M626.3 406.9h0M608.8 406.0h0M618.5 406.5h0M607.2 406.3h0M612.9 406.6h0M613.5 406.4h0M619.9 407.0h0M609.4 406.8h0M615.1 406.7h0M611.9 407.2h0M610.9 406.5h0M611.4 406.3h0M610.3 406.1h0M617.2 407.2h0M607.4 406.7h0M609.1 406.3h0M612.5 406.9h0M617.5 406.4h0M613.3 406.4h0M607.9 406.1h0M611.2 406.8h0M606.9 406.9h0M608.2 407.4h0M613.2 405.4h0M613.8 401.4h0M614.2 405.9h0M614.9 404.6h0M608.4 405.4h0M609.6 400.6h0M608.7 405.7h0M609.3 404.5h0M609.1 401.3h0M610.7 402.8h0M611.0 400.2h0M613.0 401.6h0M608.5 399.8h0M615.3 403.2h0M610.1 401.7h0M611.7 405.3h0M615.8 404.3h0M609.9 402.1h0M618.6 406.1h0M611.0 405.3h0M611.3 398.7h0M609.0 397.6h0M608.4 404.3h0M615.7 400.3h0M608.8 404.3h0M610.4 405.1h0M612.6 405.7h0M609.8 404.2h0M610.0 406.2h0M611.1 403.4h0M610.8 405.0h0M612.7 399.7h0M612.4 406.0h0M610.5 405.3h0M610.7 401.9h0M607.9 404.9h0M610.8 403.9h0M614.3 399.6h0M608.9 398.6h0M609.4 403.1h0M613.3 403.0h0M608.4 402.5h0M613.5 400.1h0M609.9 404.2h0M618.7 405.7h0M609.3 350.8h0M606.1 356.5h0M607.7 360.7h0M627.3 352.9h0M628.1 352.9h0M661.0 406.7h0M649.3 406.7h0M645.3 406.9h0M610.8 372.8h0M606.1 357.9h0M606.9 359.3h0M605.4 367.9h0" stroke="#000" stroke-width="1.00" stroke-linecap="round" fill="none"/>
<line x1="606.92" y1="404.17" x2="624.80" y2="339.38" stroke="#ee3333" stroke-width="0.6"/>
<line x1="596.73" y1="404.17" x2="606.92" y2="404.17" stroke="#ee3333" stroke-width="0.6"/>
<line x1="606.92" y1="404.17" x2="676.70" y2="388.50" stroke="#3333dd" stroke-width="0.6"/>
<line x1="606.92" y1="404.17" x2="606.92" y2="412.71" stroke="#3333dd" stroke-width="0.6"/>
<text x="595.70" y="334.03" font-size="7.30" textLength="31.10" lengthAdjust="spacingAndGlyphs">Adult liver</text>
<text x="679.60" y="346.77" font-size="5.20" text-anchor="end" fill="#ff0000" textLength="15.40" lengthAdjust="spacingAndGlyphs">N=905</text>
<text x="679.60" y="352.07" font-size="5.20" text-anchor="end" fill="#1aa7e0" textLength="15.40" lengthAdjust="spacingAndGlyphs">N=320</text>
<line x1="595.50" y1="338.00" x2="595.50" y2="416.00" stroke="#1a1a1a" stroke-width="1.0"/>
<line x1="595.00" y1="415.50" x2="679.70" y2="415.50" stroke="#1a1a1a" stroke-width="1.0"/>
<line x1="593.70" y1="412.00" x2="595.50" y2="412.00" stroke="#333" stroke-width="0.75"/>
<text x="593.10" y="413.62" font-size="4.50" text-anchor="end" fill="#666">0.00</text>
<line x1="593.70" y1="394.20" x2="595.50" y2="394.20" stroke="#333" stroke-width="0.75"/>
<text x="593.10" y="395.82" font-size="4.50" text-anchor="end" fill="#666">0.25</text>
<line x1="593.70" y1="376.40" x2="595.50" y2="376.40" stroke="#333" stroke-width="0.75"/>
<text x="593.10" y="378.02" font-size="4.50" text-anchor="end" fill="#666">0.50</text>
<line x1="593.70" y1="358.60" x2="595.50" y2="358.60" stroke="#333" stroke-width="0.75"/>
<text x="593.10" y="360.22" font-size="4.50" text-anchor="end" fill="#666">0.75</text>
<line x1="593.70" y1="340.80" x2="595.50" y2="340.80" stroke="#333" stroke-width="0.75"/>
<text x="593.10" y="342.42" font-size="4.50" text-anchor="end" fill="#666">1.00</text>
<line x1="598.30" y1="415.30" x2="598.30" y2="417.30" stroke="#333" stroke-width="0.5"/>
<text x="598.30" y="420.62" font-size="4.50" text-anchor="middle" fill="#666">0.00</text>
<line x1="617.90" y1="415.30" x2="617.90" y2="417.30" stroke="#333" stroke-width="0.5"/>
<text x="617.90" y="420.62" font-size="4.50" text-anchor="middle" fill="#666">0.25</text>
<line x1="637.50" y1="415.30" x2="637.50" y2="417.30" stroke="#333" stroke-width="0.5"/>
<text x="637.50" y="420.62" font-size="4.50" text-anchor="middle" fill="#666">0.50</text>
<line x1="657.10" y1="415.30" x2="657.10" y2="417.30" stroke="#333" stroke-width="0.5"/>
<text x="657.10" y="420.62" font-size="4.50" text-anchor="middle" fill="#666">0.75</text>
<line x1="676.70" y1="415.30" x2="676.70" y2="417.30" stroke="#333" stroke-width="0.5"/>
<text x="676.70" y="420.62" font-size="4.50" text-anchor="middle" fill="#666">1.00</text>
<text x="638.00" y="428.03" font-size="6.20" text-anchor="middle" textLength="48.80" lengthAdjust="spacingAndGlyphs">seq−similarity with</text>
<text x="638.00" y="433.93" font-size="6.20" text-anchor="middle" textLength="66.70" lengthAdjust="spacingAndGlyphs">top matched M.enhancer</text>
<text x="576.43" y="376.10" font-size="6.20" text-anchor="middle" textLength="48.40" lengthAdjust="spacingAndGlyphs" transform="rotate(-90 576.43 376.10)">seq−similarity with</text>
<text x="582.23" y="376.10" font-size="6.20" text-anchor="middle" textLength="65.10" lengthAdjust="spacingAndGlyphs" transform="rotate(-90 582.23 376.10)">top matched H.enhancer</text>
<text x="7.80" y="470.23" font-size="14.80" stroke="#000" stroke-width="0.25">G</text>
<path d="M188.1 481.1h0M220.0 519.7h0M129.8 519.4h0M113.7 530.5h0M137.3 533.3h0M70.1 553.0h0M84.8 549.8h0M85.5 556.6h0M115.2 550.1h0M79.8 563.4h0M68.7 565.2h0M91.2 577.3h0M88.3 580.5h0M98.4 581.3h0M76.9 584.5h0M61.9 590.9h0M73.3 595.6h0M74.8 599.5h0M62.6 603.8h0M54.4 608.8h0M57.2 611.3h0M58.3 611.7h0M69.0 614.2h0M70.5 618.4h0M55.4 619.2h0M54.4 623.8h0M56.2 629.5h0M58.3 630.6h0M62.6 631.0h0M54.4 633.8h0M51.9 639.2h0M54.4 641.0h0M52.9 644.6h0M55.1 646.3h0M51.9 651.0h0M56.2 651.0h0M51.1 652.8h0M52.9 655.3h0M56.2 636.3h0M53.5 627.0h0M55.5 637.5h0M53.0 642.0h0M54.5 648.0h0M52.5 650.0h0M57.5 640.0h0M55.8 625.5h0" stroke="#000" stroke-width="3.50" stroke-linecap="round" fill="none"/>
<line x1="56.20" y1="650.30" x2="76.90" y2="653.50" stroke="#333" stroke-width="0.45"/>
<line x1="58.50" y1="630.30" x2="63.20" y2="629.20" stroke="#333" stroke-width="0.45"/>
<line x1="55.60" y1="639.00" x2="58.80" y2="643.60" stroke="#333" stroke-width="0.45"/>
<text x="169.50" y="489.22" font-size="5.60" fill="#7a7a7a">(E)brain_3</text>
<text x="190.30" y="522.42" font-size="5.60" fill="#7a7a7a">(E)brain_1</text>
<text x="122.70" y="515.32" font-size="5.60" fill="#7a7a7a">(E)brain_2</text>
<text x="132.30" y="530.32" font-size="5.60" fill="#7a7a7a">(E)retina</text>
<text x="69.00" y="576.12" font-size="5.60" fill="#7a7a7a">(A)brain_1</text>
<text x="91.20" y="589.32" font-size="5.60" fill="#7a7a7a">(A)brain_2</text>
<text x="45.80" y="621.22" font-size="5.60" fill="#7a7a7a">(A)T−cell_1</text>
<text x="63.30" y="630.52" font-size="5.60" fill="#7a7a7a">(A)stomach</text>
<text x="45.80" y="636.52" font-size="5.60" fill="#7a7a7a">ESC</text>
<text x="59.00" y="646.62" font-size="5.60" fill="#7a7a7a">common.myeloid.prog</text>
<text x="78.70" y="655.92" font-size="5.60" fill="#7a7a7a">hemato.multi.progenitor_1</text>
<text x="55.40" y="662.62" font-size="5.60" fill="#7a7a7a">(E)liver</text>
<text x="47.60" y="490.03" font-size="9.80" textLength="37.50" lengthAdjust="spacingAndGlyphs" stroke="#000" stroke-width="0.15">R = 0.84</text>
<line x1="42.50" y1="472.90" x2="42.50" y2="666.00" stroke="#1a1a1a" stroke-width="1.0"/>
<line x1="42.00" y1="665.50" x2="229.00" y2="665.50" stroke="#1a1a1a" stroke-width="1.0"/>
<line x1="39.30" y1="632.00" x2="42.50" y2="632.00" stroke="#333" stroke-width="0.75"/>
<text x="40.20" y="634.27" font-size="6.30" text-anchor="end" fill="#3d3d3d">0.10</text>
<line x1="39.30" y1="595.60" x2="42.50" y2="595.60" stroke="#333" stroke-width="0.75"/>
<text x="40.20" y="597.87" font-size="6.30" text-anchor="end" fill="#3d3d3d">0.15</text>
<line x1="39.30" y1="559.20" x2="42.50" y2="559.20" stroke="#333" stroke-width="0.75"/>
<text x="40.20" y="561.47" font-size="6.30" text-anchor="end" fill="#3d3d3d">0.20</text>
<line x1="39.30" y1="522.80" x2="42.50" y2="522.80" stroke="#333" stroke-width="0.75"/>
<text x="40.20" y="525.07" font-size="6.30" text-anchor="end" fill="#3d3d3d">0.25</text>
<line x1="39.30" y1="486.40" x2="42.50" y2="486.40" stroke="#333" stroke-width="0.75"/>
<text x="40.20" y="488.67" font-size="6.30" text-anchor="end" fill="#3d3d3d">0.30</text>
<line x1="49.40" y1="665.50" x2="49.40" y2="667.70" stroke="#333" stroke-width="0.5"/>
<text x="49.40" y="673.52" font-size="5.90" text-anchor="middle" fill="#3d3d3d">0</text>
<line x1="108.10" y1="665.50" x2="108.10" y2="667.70" stroke="#333" stroke-width="0.5"/>
<text x="108.10" y="673.52" font-size="5.90" text-anchor="middle" fill="#3d3d3d">5</text>
<line x1="166.80" y1="665.50" x2="166.80" y2="667.70" stroke="#333" stroke-width="0.5"/>
<text x="166.80" y="673.52" font-size="5.90" text-anchor="middle" fill="#3d3d3d">10</text>
<line x1="225.50" y1="665.50" x2="225.50" y2="667.70" stroke="#333" stroke-width="0.5"/>
<text x="225.50" y="673.52" font-size="5.90" text-anchor="middle" fill="#3d3d3d">15</text>
<rect x="56.60" y="676.10" width="81.90" height="8.90" fill="#dcf0fb"/>
<rect x="139.90" y="676.10" width="77.80" height="8.90" fill="#fbdcdc"/>
<text x="58.00" y="683.24" font-size="7.60" fill="#24325a" textLength="79.00" lengthAdjust="spacingAndGlyphs">(#ortholog. enhancers)</text>
<text x="137.30" y="683.24" font-size="7.60">/</text>
<text x="140.70" y="683.24" font-size="7.60" fill="#5a2020" textLength="76.80" lengthAdjust="spacingAndGlyphs">(#paralog. enhancers)</text>
<text x="136.40" y="691.54" font-size="7.60" text-anchor="middle" textLength="87.40" lengthAdjust="spacingAndGlyphs">human−mouse averaged</text>
<text x="14.86" y="568.50" font-size="7.95" text-anchor="middle" transform="rotate(-90 14.86 568.50)">Human−Mouse conservation rate</text>
<text x="23.76" y="569.00" font-size="7.95" text-anchor="middle" transform="rotate(-90 23.76 569.00)">(by genome alignment)</text>
<text x="234.90" y="470.53" font-size="14.80" stroke="#000" stroke-width="0.25">H</text>
<rect x="266.30" y="600.53" width="4.18" height="13.21" fill="#f8766d" stroke="#222" stroke-width="0.35"/>
<rect x="266.30" y="613.75" width="4.18" height="8.07" fill="#00ba38" stroke="#222" stroke-width="0.35"/>
<rect x="266.30" y="621.82" width="4.18" height="13.58" fill="#619cff" stroke="#222" stroke-width="0.35"/>
<rect x="270.48" y="596.87" width="4.18" height="15.78" fill="#f8766d" stroke="#222" stroke-width="0.35"/>
<rect x="270.48" y="612.65" width="4.18" height="4.40" fill="#00ba38" stroke="#222" stroke-width="0.35"/>
<rect x="270.48" y="617.05" width="4.18" height="18.35" fill="#619cff" stroke="#222" stroke-width="0.35"/>
<rect x="274.66" y="591.36" width="4.18" height="22.02" fill="#f8766d" stroke="#222" stroke-width="0.35"/>
<rect x="274.66" y="613.38" width="4.18" height="6.24" fill="#00ba38" stroke="#222" stroke-width="0.35"/>
<rect x="274.66" y="619.62" width="4.18" height="15.78" fill="#619cff" stroke="#222" stroke-width="0.35"/>
<rect x="278.84" y="596.13" width="4.18" height="18.35" fill="#f8766d" stroke="#222" stroke-width="0.35"/>
<rect x="278.84" y="614.48" width="4.18" height="6.24" fill="#00ba38" stroke="#222" stroke-width="0.35"/>
<rect x="278.84" y="620.72" width="4.18" height="14.68" fill="#619cff" stroke="#222" stroke-width="0.35"/>
<rect x="283.02" y="589.16" width="4.18" height="16.52" fill="#f8766d" stroke="#222" stroke-width="0.35"/>
<rect x="283.02" y="605.67" width="4.18" height="9.54" fill="#00ba38" stroke="#222" stroke-width="0.35"/>
<rect x="283.02" y="615.22" width="4.18" height="20.18" fill="#619cff" stroke="#222" stroke-width="0.35"/>
<rect x="287.20" y="593.19" width="4.18" height="14.68" fill="#f8766d" stroke="#222" stroke-width="0.35"/>
<rect x="287.20" y="607.88" width="4.18" height="7.34" fill="#00ba38" stroke="#222" stroke-width="0.35"/>
<rect x="287.20" y="615.22" width="4.18" height="20.18" fill="#619cff" stroke="#222" stroke-width="0.35"/>
<rect x="291.38" y="595.03" width="4.18" height="16.52" fill="#f8766d" stroke="#222" stroke-width="0.35"/>
<rect x="291.38" y="611.54" width="4.18" height="8.07" fill="#00ba38" stroke="#222" stroke-width="0.35"/>
<rect x="291.38" y="619.62" width="4.18" height="15.78" fill="#619cff" stroke="#222" stroke-width="0.35"/>
<rect x="295.56" y="592.46" width="4.18" height="13.95" fill="#f8766d" stroke="#222" stroke-width="0.35"/>
<rect x="295.56" y="606.41" width="4.18" height="8.07" fill="#00ba38" stroke="#222" stroke-width="0.35"/>
<rect x="295.56" y="614.48" width="4.18" height="20.92" fill="#619cff" stroke="#222" stroke-width="0.35"/>
<rect x="299.74" y="584.02" width="4.18" height="17.98" fill="#f8766d" stroke="#222" stroke-width="0.35"/>
<rect x="299.74" y="602.00" width="4.18" height="11.38" fill="#00ba38" stroke="#222" stroke-width="0.35"/>
<rect x="299.74" y="613.38" width="4.18" height="22.02" fill="#619cff" stroke="#222" stroke-width="0.35"/>
<rect x="303.92" y="584.75" width="4.18" height="19.08" fill="#f8766d" stroke="#222" stroke-width="0.35"/>
<rect x="303.92" y="603.84" width="4.18" height="10.64" fill="#00ba38" stroke="#222" stroke-width="0.35"/>
<rect x="303.92" y="614.48" width="4.18" height="20.92" fill="#619cff" stroke="#222" stroke-width="0.35"/>
<rect x="308.10" y="580.35" width="4.18" height="20.18" fill="#f8766d" stroke="#222" stroke-width="0.35"/>
<rect x="308.10" y="600.53" width="4.18" height="9.17" fill="#00ba38" stroke="#222" stroke-width="0.35"/>
<rect x="308.10" y="609.71" width="4.18" height="25.69" fill="#619cff" stroke="#222" stroke-width="0.35"/>
<rect x="312.28" y="588.06" width="4.18" height="13.95" fill="#f8766d" stroke="#222" stroke-width="0.35"/>
<rect x="312.28" y="602.00" width="4.18" height="13.21" fill="#00ba38" stroke="#222" stroke-width="0.35"/>
<rect x="312.28" y="615.22" width="4.18" height="20.18" fill="#619cff" stroke="#222" stroke-width="0.35"/>
<rect x="316.46" y="576.68" width="4.18" height="20.19" fill="#f8766d" stroke="#222" stroke-width="0.35"/>
<rect x="316.46" y="596.87" width="4.18" height="13.21" fill="#00ba38" stroke="#222" stroke-width="0.35"/>
<rect x="316.46" y="610.08" width="4.18" height="25.32" fill="#619cff" stroke="#222" stroke-width="0.35"/>
<rect x="320.64" y="575.58" width="4.18" height="28.26" fill="#f8766d" stroke="#222" stroke-width="0.35"/>
<rect x="320.64" y="603.84" width="4.18" height="11.38" fill="#00ba38" stroke="#222" stroke-width="0.35"/>
<rect x="320.64" y="615.22" width="4.18" height="20.18" fill="#619cff" stroke="#222" stroke-width="0.35"/>
<rect x="324.82" y="583.65" width="4.18" height="20.18" fill="#f8766d" stroke="#222" stroke-width="0.35"/>
<rect x="324.82" y="603.84" width="4.18" height="11.01" fill="#00ba38" stroke="#222" stroke-width="0.35"/>
<rect x="324.82" y="614.85" width="4.18" height="20.55" fill="#619cff" stroke="#222" stroke-width="0.35"/>
<rect x="329.00" y="562.73" width="4.18" height="28.26" fill="#f8766d" stroke="#222" stroke-width="0.35"/>
<rect x="329.00" y="590.99" width="4.18" height="20.92" fill="#00ba38" stroke="#222" stroke-width="0.35"/>
<rect x="329.00" y="611.91" width="4.18" height="23.49" fill="#619cff" stroke="#222" stroke-width="0.35"/>
<rect x="333.18" y="581.08" width="4.18" height="19.08" fill="#f8766d" stroke="#222" stroke-width="0.35"/>
<rect x="333.18" y="600.17" width="4.18" height="10.64" fill="#00ba38" stroke="#222" stroke-width="0.35"/>
<rect x="333.18" y="610.81" width="4.18" height="24.59" fill="#619cff" stroke="#222" stroke-width="0.35"/>
<rect x="337.36" y="566.40" width="4.18" height="17.25" fill="#f8766d" stroke="#222" stroke-width="0.35"/>
<rect x="337.36" y="583.65" width="4.18" height="24.22" fill="#00ba38" stroke="#222" stroke-width="0.35"/>
<rect x="337.36" y="607.88" width="4.18" height="27.52" fill="#619cff" stroke="#222" stroke-width="0.35"/>
<rect x="341.54" y="560.16" width="4.18" height="27.16" fill="#f8766d" stroke="#222" stroke-width="0.35"/>
<rect x="341.54" y="587.32" width="4.18" height="18.35" fill="#00ba38" stroke="#222" stroke-width="0.35"/>
<rect x="341.54" y="605.67" width="4.18" height="29.73" fill="#619cff" stroke="#222" stroke-width="0.35"/>
<rect x="345.72" y="562.00" width="4.18" height="22.02" fill="#f8766d" stroke="#222" stroke-width="0.35"/>
<rect x="345.72" y="584.02" width="4.18" height="21.65" fill="#00ba38" stroke="#222" stroke-width="0.35"/>
<rect x="345.72" y="605.67" width="4.18" height="29.73" fill="#619cff" stroke="#222" stroke-width="0.35"/>
<rect x="349.90" y="546.59" width="4.18" height="31.56" fill="#f8766d" stroke="#222" stroke-width="0.35"/>
<rect x="349.90" y="578.15" width="4.18" height="23.86" fill="#00ba38" stroke="#222" stroke-width="0.35"/>
<rect x="349.90" y="602.00" width="4.18" height="33.40" fill="#619cff" stroke="#222" stroke-width="0.35"/>
<rect x="354.08" y="569.71" width="4.18" height="23.12" fill="#f8766d" stroke="#222" stroke-width="0.35"/>
<rect x="354.08" y="592.83" width="4.18" height="12.11" fill="#00ba38" stroke="#222" stroke-width="0.35"/>
<rect x="354.08" y="604.94" width="4.18" height="30.46" fill="#619cff" stroke="#222" stroke-width="0.35"/>
<rect x="358.26" y="562.73" width="4.18" height="16.52" fill="#f8766d" stroke="#222" stroke-width="0.35"/>
<rect x="358.26" y="579.25" width="4.18" height="27.16" fill="#00ba38" stroke="#222" stroke-width="0.35"/>
<rect x="358.26" y="606.41" width="4.18" height="28.99" fill="#619cff" stroke="#222" stroke-width="0.35"/>
<rect x="362.44" y="543.65" width="4.18" height="22.02" fill="#f8766d" stroke="#222" stroke-width="0.35"/>
<rect x="362.44" y="565.67" width="4.18" height="25.69" fill="#00ba38" stroke="#222" stroke-width="0.35"/>
<rect x="362.44" y="591.36" width="4.18" height="44.04" fill="#619cff" stroke="#222" stroke-width="0.35"/>
<rect x="366.62" y="566.40" width="4.18" height="20.92" fill="#f8766d" stroke="#222" stroke-width="0.35"/>
<rect x="366.62" y="587.32" width="4.18" height="13.95" fill="#00ba38" stroke="#222" stroke-width="0.35"/>
<rect x="366.62" y="601.27" width="4.18" height="34.13" fill="#619cff" stroke="#222" stroke-width="0.35"/>
<rect x="370.80" y="548.79" width="4.18" height="18.35" fill="#f8766d" stroke="#222" stroke-width="0.35"/>
<rect x="370.80" y="567.14" width="4.18" height="16.88" fill="#00ba38" stroke="#222" stroke-width="0.35"/>
<rect x="370.80" y="584.02" width="4.18" height="51.38" fill="#619cff" stroke="#222" stroke-width="0.35"/>
<rect x="374.98" y="538.88" width="4.18" height="31.56" fill="#f8766d" stroke="#222" stroke-width="0.35"/>
<rect x="374.98" y="570.44" width="4.18" height="28.26" fill="#00ba38" stroke="#222" stroke-width="0.35"/>
<rect x="374.98" y="598.70" width="4.18" height="36.70" fill="#619cff" stroke="#222" stroke-width="0.35"/>
<rect x="379.16" y="548.79" width="4.18" height="29.73" fill="#f8766d" stroke="#222" stroke-width="0.35"/>
<rect x="379.16" y="578.51" width="4.18" height="25.32" fill="#00ba38" stroke="#222" stroke-width="0.35"/>
<rect x="379.16" y="603.84" width="4.18" height="31.56" fill="#619cff" stroke="#222" stroke-width="0.35"/>
<rect x="383.34" y="553.93" width="4.18" height="25.32" fill="#f8766d" stroke="#222" stroke-width="0.35"/>
<rect x="383.34" y="579.25" width="4.18" height="24.59" fill="#00ba38" stroke="#222" stroke-width="0.35"/>
<rect x="383.34" y="603.84" width="4.18" height="31.56" fill="#619cff" stroke="#222" stroke-width="0.35"/>
<rect x="387.52" y="551.36" width="4.18" height="28.99" fill="#f8766d" stroke="#222" stroke-width="0.35"/>
<rect x="387.52" y="580.35" width="4.18" height="21.65" fill="#00ba38" stroke="#222" stroke-width="0.35"/>
<rect x="387.52" y="602.00" width="4.18" height="33.40" fill="#619cff" stroke="#222" stroke-width="0.35"/>
<rect x="391.70" y="550.26" width="4.18" height="25.69" fill="#f8766d" stroke="#222" stroke-width="0.35"/>
<rect x="391.70" y="575.95" width="4.18" height="23.86" fill="#00ba38" stroke="#222" stroke-width="0.35"/>
<rect x="391.70" y="599.80" width="4.18" height="35.60" fill="#619cff" stroke="#222" stroke-width="0.35"/>
<rect x="395.88" y="558.33" width="4.18" height="24.59" fill="#f8766d" stroke="#222" stroke-width="0.35"/>
<rect x="395.88" y="582.92" width="4.18" height="19.08" fill="#00ba38" stroke="#222" stroke-width="0.35"/>
<rect x="395.88" y="602.00" width="4.18" height="33.40" fill="#619cff" stroke="#222" stroke-width="0.35"/>
<rect x="400.06" y="540.71" width="4.18" height="25.69" fill="#f8766d" stroke="#222" stroke-width="0.35"/>
<rect x="400.06" y="566.40" width="4.18" height="33.03" fill="#00ba38" stroke="#222" stroke-width="0.35"/>
<rect x="400.06" y="599.43" width="4.18" height="35.97" fill="#619cff" stroke="#222" stroke-width="0.35"/>
<rect x="404.24" y="547.69" width="4.18" height="24.96" fill="#f8766d" stroke="#222" stroke-width="0.35"/>
<rect x="404.24" y="572.64" width="4.18" height="27.53" fill="#00ba38" stroke="#222" stroke-width="0.35"/>
<rect x="404.24" y="600.17" width="4.18" height="35.23" fill="#619cff" stroke="#222" stroke-width="0.35"/>
<rect x="408.42" y="558.33" width="4.18" height="25.69" fill="#f8766d" stroke="#222" stroke-width="0.35"/>
<rect x="408.42" y="584.02" width="4.18" height="20.92" fill="#00ba38" stroke="#222" stroke-width="0.35"/>
<rect x="408.42" y="604.94" width="4.18" height="30.46" fill="#619cff" stroke="#222" stroke-width="0.35"/>
<rect x="412.60" y="537.41" width="4.18" height="28.99" fill="#f8766d" stroke="#222" stroke-width="0.35"/>
<rect x="412.60" y="566.40" width="4.18" height="26.79" fill="#00ba38" stroke="#222" stroke-width="0.35"/>
<rect x="412.60" y="593.19" width="4.18" height="42.20" fill="#619cff" stroke="#222" stroke-width="0.35"/>
<rect x="416.78" y="513.56" width="4.18" height="30.83" fill="#f8766d" stroke="#222" stroke-width="0.35"/>
<rect x="416.78" y="544.38" width="4.18" height="27.89" fill="#00ba38" stroke="#222" stroke-width="0.35"/>
<rect x="416.78" y="572.28" width="4.18" height="63.12" fill="#619cff" stroke="#222" stroke-width="0.35"/>
<rect x="420.96" y="553.19" width="4.18" height="28.99" fill="#f8766d" stroke="#222" stroke-width="0.35"/>
<rect x="420.96" y="582.18" width="4.18" height="16.51" fill="#00ba38" stroke="#222" stroke-width="0.35"/>
<rect x="420.96" y="598.70" width="4.18" height="36.70" fill="#619cff" stroke="#222" stroke-width="0.35"/>
<rect x="425.14" y="525.67" width="4.18" height="34.50" fill="#f8766d" stroke="#222" stroke-width="0.35"/>
<rect x="425.14" y="560.16" width="4.18" height="26.79" fill="#00ba38" stroke="#222" stroke-width="0.35"/>
<rect x="425.14" y="586.96" width="4.18" height="48.44" fill="#619cff" stroke="#222" stroke-width="0.35"/>
<rect x="429.32" y="556.50" width="4.18" height="19.45" fill="#f8766d" stroke="#222" stroke-width="0.35"/>
<rect x="429.32" y="575.95" width="4.18" height="19.82" fill="#00ba38" stroke="#222" stroke-width="0.35"/>
<rect x="429.32" y="595.76" width="4.18" height="39.64" fill="#619cff" stroke="#222" stroke-width="0.35"/>
<rect x="433.50" y="519.06" width="4.18" height="36.70" fill="#f8766d" stroke="#222" stroke-width="0.35"/>
<rect x="433.50" y="555.76" width="4.18" height="29.73" fill="#00ba38" stroke="#222" stroke-width="0.35"/>
<rect x="433.50" y="585.49" width="4.18" height="49.91" fill="#619cff" stroke="#222" stroke-width="0.35"/>
<rect x="437.68" y="521.63" width="4.18" height="36.70" fill="#f8766d" stroke="#222" stroke-width="0.35"/>
<rect x="437.68" y="558.33" width="4.18" height="27.16" fill="#00ba38" stroke="#222" stroke-width="0.35"/>
<rect x="437.68" y="585.49" width="4.18" height="49.91" fill="#619cff" stroke="#222" stroke-width="0.35"/>
<rect x="441.86" y="541.81" width="4.18" height="30.46" fill="#f8766d" stroke="#222" stroke-width="0.35"/>
<rect x="441.86" y="572.28" width="4.18" height="27.16" fill="#00ba38" stroke="#222" stroke-width="0.35"/>
<rect x="441.86" y="599.43" width="4.18" height="35.97" fill="#619cff" stroke="#222" stroke-width="0.35"/>
<rect x="446.04" y="502.18" width="4.18" height="28.99" fill="#f8766d" stroke="#222" stroke-width="0.35"/>
<rect x="446.04" y="531.17" width="4.18" height="25.32" fill="#00ba38" stroke="#222" stroke-width="0.35"/>
<rect x="446.04" y="556.50" width="4.18" height="78.91" fill="#619cff" stroke="#222" stroke-width="0.35"/>
<rect x="450.22" y="536.68" width="4.18" height="27.89" fill="#f8766d" stroke="#222" stroke-width="0.35"/>
<rect x="450.22" y="564.57" width="4.18" height="27.89" fill="#00ba38" stroke="#222" stroke-width="0.35"/>
<rect x="450.22" y="592.46" width="4.18" height="42.94" fill="#619cff" stroke="#222" stroke-width="0.35"/>
<line x1="266.00" y1="480.20" x2="455.50" y2="480.20" stroke="#000" stroke-width="0.8" stroke-dasharray="2.6 1.8"/>
<text x="269.70" y="491.19" font-size="7.20" textLength="164.30" lengthAdjust="spacingAndGlyphs" stroke="#000" stroke-width="0.12">Background TE (LINE/SINE/LTR) genome coverage</text>
<text x="269.70" y="501.89" font-size="7.20" textLength="19.50" lengthAdjust="spacingAndGlyphs" stroke="#000" stroke-width="0.12">(0.41)</text>
<text x="273.40" y="532.38" font-size="6.60" textLength="30.60" lengthAdjust="spacingAndGlyphs">TE classes</text>
<rect x="306.60" y="525.20" width="8.80" height="9.20" fill="#f8766d" stroke="#444" stroke-width="0.3"/>
<text x="318.20" y="531.87" font-size="5.20">LINE</text>
<rect x="333.60" y="525.20" width="8.80" height="9.20" fill="#00ba38" stroke="#444" stroke-width="0.3"/>
<text x="345.90" y="531.87" font-size="5.20">SINE</text>
<rect x="361.00" y="525.20" width="8.80" height="9.20" fill="#619cff" stroke="#444" stroke-width="0.3"/>
<text x="373.20" y="531.87" font-size="5.20">LTR</text>
<line x1="265.50" y1="472.50" x2="265.50" y2="643.00" stroke="#1a1a1a" stroke-width="1.0"/>
<line x1="265.00" y1="642.50" x2="454.60" y2="642.50" stroke="#1a1a1a" stroke-width="1.0"/>
<line x1="262.30" y1="635.40" x2="265.50" y2="635.40" stroke="#333" stroke-width="0.75"/>
<text x="262.30" y="637.56" font-size="6.00" text-anchor="end" fill="#3d3d3d">0.0</text>
<line x1="262.30" y1="598.70" x2="265.50" y2="598.70" stroke="#333" stroke-width="0.75"/>
<text x="262.30" y="600.86" font-size="6.00" text-anchor="end" fill="#3d3d3d">0.1</text>
<line x1="262.30" y1="562.00" x2="265.50" y2="562.00" stroke="#333" stroke-width="0.75"/>
<text x="262.30" y="564.16" font-size="6.00" text-anchor="end" fill="#3d3d3d">0.2</text>
<line x1="262.30" y1="525.30" x2="265.50" y2="525.30" stroke="#333" stroke-width="0.75"/>
<text x="262.30" y="527.46" font-size="6.00" text-anchor="end" fill="#3d3d3d">0.3</text>
<line x1="262.30" y1="488.60" x2="265.50" y2="488.60" stroke="#333" stroke-width="0.75"/>
<text x="262.30" y="490.76" font-size="6.00" text-anchor="end" fill="#3d3d3d">0.4</text>
<line x1="268.39" y1="642.40" x2="268.39" y2="645.00" stroke="#333" stroke-width="0.75"/>
<text x="269.74" y="646.90" font-size="3.75" text-anchor="end" fill="#555" transform="rotate(-90 269.74 646.90)">(E)brain_3</text>
<line x1="272.57" y1="642.40" x2="272.57" y2="645.00" stroke="#333" stroke-width="0.75"/>
<text x="273.92" y="646.90" font-size="3.75" text-anchor="end" fill="#555" transform="rotate(-90 273.92 646.90)">(E)brain_2</text>
<line x1="276.75" y1="642.40" x2="276.75" y2="645.00" stroke="#333" stroke-width="0.75"/>
<text x="278.10" y="646.90" font-size="3.75" text-anchor="end" fill="#555" transform="rotate(-90 278.10 646.90)">(E)brain_1</text>
<line x1="280.93" y1="642.40" x2="280.93" y2="645.00" stroke="#333" stroke-width="0.75"/>
<text x="282.28" y="646.90" font-size="3.75" text-anchor="end" fill="#555" transform="rotate(-90 282.28 646.90)">emb.facial.prominence</text>
<line x1="285.11" y1="642.40" x2="285.11" y2="645.00" stroke="#333" stroke-width="0.75"/>
<text x="286.46" y="646.90" font-size="3.75" text-anchor="end" fill="#555" transform="rotate(-90 286.46 646.90)">(E)retina</text>
<line x1="289.29" y1="642.40" x2="289.29" y2="645.00" stroke="#333" stroke-width="0.75"/>
<text x="290.64" y="646.90" font-size="3.75" text-anchor="end" fill="#555" transform="rotate(-90 290.64 646.90)">(E)limb_2</text>
<line x1="293.47" y1="642.40" x2="293.47" y2="645.00" stroke="#333" stroke-width="0.75"/>
<text x="294.82" y="646.90" font-size="3.75" text-anchor="end" fill="#555" transform="rotate(-90 294.82 646.90)">(E)limb_1</text>
<line x1="297.65" y1="642.40" x2="297.65" y2="645.00" stroke="#333" stroke-width="0.75"/>
<text x="299.00" y="646.90" font-size="3.75" text-anchor="end" fill="#555" transform="rotate(-90 299.00 646.90)">ESC−&gt;neuronal.stem</text>
<line x1="301.83" y1="642.40" x2="301.83" y2="645.00" stroke="#333" stroke-width="0.75"/>
<text x="303.18" y="646.90" font-size="3.75" text-anchor="end" fill="#555" transform="rotate(-90 303.18 646.90)">BMMC derived iPSC</text>
<line x1="306.01" y1="642.40" x2="306.01" y2="645.00" stroke="#333" stroke-width="0.75"/>
<text x="307.36" y="646.90" font-size="3.75" text-anchor="end" fill="#555" transform="rotate(-90 307.36 646.90)">(E)muscle</text>
<line x1="310.19" y1="642.40" x2="310.19" y2="645.00" stroke="#333" stroke-width="0.75"/>
<text x="311.54" y="646.90" font-size="3.75" text-anchor="end" fill="#555" transform="rotate(-90 311.54 646.90)">(A)heart</text>
<line x1="314.37" y1="642.40" x2="314.37" y2="645.00" stroke="#333" stroke-width="0.75"/>
<text x="315.72" y="646.90" font-size="3.75" text-anchor="end" fill="#555" transform="rotate(-90 315.72 646.90)">(E)kidney</text>
<line x1="318.55" y1="642.40" x2="318.55" y2="645.00" stroke="#333" stroke-width="0.75"/>
<text x="319.90" y="646.90" font-size="3.75" text-anchor="end" fill="#555" transform="rotate(-90 319.90 646.90)">(A)brain_1</text>
<line x1="322.73" y1="642.40" x2="322.73" y2="645.00" stroke="#333" stroke-width="0.75"/>
<text x="324.08" y="646.90" font-size="3.75" text-anchor="end" fill="#555" transform="rotate(-90 324.08 646.90)">(A)brain_2</text>
<line x1="326.91" y1="642.40" x2="326.91" y2="645.00" stroke="#333" stroke-width="0.75"/>
<text x="328.26" y="646.90" font-size="3.75" text-anchor="end" fill="#555" transform="rotate(-90 328.26 646.90)">(E)lung_1</text>
<line x1="331.09" y1="642.40" x2="331.09" y2="645.00" stroke="#333" stroke-width="0.75"/>
<text x="332.44" y="646.90" font-size="3.75" text-anchor="end" fill="#555" transform="rotate(-90 332.44 646.90)">astrocyte</text>
<line x1="335.27" y1="642.40" x2="335.27" y2="645.00" stroke="#333" stroke-width="0.75"/>
<text x="336.62" y="646.90" font-size="3.75" text-anchor="end" fill="#555" transform="rotate(-90 336.62 646.90)">(E)lung_2</text>
<line x1="339.45" y1="642.40" x2="339.45" y2="645.00" stroke="#333" stroke-width="0.75"/>
<text x="340.80" y="646.90" font-size="3.75" text-anchor="end" fill="#555" transform="rotate(-90 340.80 646.90)">(A)muscle</text>
<line x1="343.63" y1="642.40" x2="343.63" y2="645.00" stroke="#333" stroke-width="0.75"/>
<text x="344.98" y="646.90" font-size="3.75" text-anchor="end" fill="#555" transform="rotate(-90 344.98 646.90)">stromal.cell</text>
<line x1="347.81" y1="642.40" x2="347.81" y2="645.00" stroke="#333" stroke-width="0.75"/>
<text x="349.16" y="646.90" font-size="3.75" text-anchor="end" fill="#555" transform="rotate(-90 349.16 646.90)">(A)lung</text>
<line x1="351.99" y1="642.40" x2="351.99" y2="645.00" stroke="#333" stroke-width="0.75"/>
<text x="353.34" y="646.90" font-size="3.75" text-anchor="end" fill="#555" transform="rotate(-90 353.34 646.90)">fibroblast_1</text>
<line x1="356.17" y1="642.40" x2="356.17" y2="645.00" stroke="#333" stroke-width="0.75"/>
<text x="357.52" y="646.90" font-size="3.75" text-anchor="end" fill="#555" transform="rotate(-90 357.52 646.90)">ESC−&gt;cardiac.muscle.cell</text>
<line x1="360.35" y1="642.40" x2="360.35" y2="645.00" stroke="#333" stroke-width="0.75"/>
<text x="361.70" y="646.90" font-size="3.75" text-anchor="end" fill="#555" transform="rotate(-90 361.70 646.90)">(A)adrenal.gland</text>
<line x1="364.53" y1="642.40" x2="364.53" y2="645.00" stroke="#333" stroke-width="0.75"/>
<text x="365.88" y="646.90" font-size="3.75" text-anchor="end" fill="#555" transform="rotate(-90 365.88 646.90)">retinoblastoma</text>
<line x1="368.71" y1="642.40" x2="368.71" y2="645.00" stroke="#333" stroke-width="0.75"/>
<text x="370.06" y="646.90" font-size="3.75" text-anchor="end" fill="#555" transform="rotate(-90 370.06 646.90)">neuroblastoma</text>
<line x1="372.89" y1="642.40" x2="372.89" y2="645.00" stroke="#333" stroke-width="0.75"/>
<text x="374.24" y="646.90" font-size="3.75" text-anchor="end" fill="#555" transform="rotate(-90 374.24 646.90)">(A)ovary</text>
<line x1="377.07" y1="642.40" x2="377.07" y2="645.00" stroke="#333" stroke-width="0.75"/>
<text x="378.42" y="646.90" font-size="3.75" text-anchor="end" fill="#555" transform="rotate(-90 378.42 646.90)">(A)T−cell_1</text>
<line x1="381.25" y1="642.40" x2="381.25" y2="645.00" stroke="#333" stroke-width="0.75"/>
<text x="382.60" y="646.90" font-size="3.75" text-anchor="end" fill="#555" transform="rotate(-90 382.60 646.90)">(E)thymus_1</text>
<line x1="385.43" y1="642.40" x2="385.43" y2="645.00" stroke="#333" stroke-width="0.75"/>
<text x="386.78" y="646.90" font-size="3.75" text-anchor="end" fill="#555" transform="rotate(-90 386.78 646.90)">(E)thymus_2</text>
<line x1="389.61" y1="642.40" x2="389.61" y2="645.00" stroke="#333" stroke-width="0.75"/>
<text x="390.96" y="646.90" font-size="3.75" text-anchor="end" fill="#555" transform="rotate(-90 390.96 646.90)">(A)placenta_1</text>
<line x1="393.79" y1="642.40" x2="393.79" y2="645.00" stroke="#333" stroke-width="0.75"/>
<text x="395.14" y="646.90" font-size="3.75" text-anchor="end" fill="#555" transform="rotate(-90 395.14 646.90)">(A)stomach</text>
<line x1="397.97" y1="642.40" x2="397.97" y2="645.00" stroke="#333" stroke-width="0.75"/>
<text x="399.32" y="646.90" font-size="3.75" text-anchor="end" fill="#555" transform="rotate(-90 399.32 646.90)">(A)liver</text>
<line x1="402.15" y1="642.40" x2="402.15" y2="645.00" stroke="#333" stroke-width="0.75"/>
<text x="403.50" y="646.90" font-size="3.75" text-anchor="end" fill="#555" transform="rotate(-90 403.50 646.90)">(A)T−cell_3</text>
<line x1="406.33" y1="642.40" x2="406.33" y2="645.00" stroke="#333" stroke-width="0.75"/>
<text x="407.68" y="646.90" font-size="3.75" text-anchor="end" fill="#555" transform="rotate(-90 407.68 646.90)">(E)thymus_3</text>
<line x1="410.51" y1="642.40" x2="410.51" y2="645.00" stroke="#333" stroke-width="0.75"/>
<text x="411.86" y="646.90" font-size="3.75" text-anchor="end" fill="#555" transform="rotate(-90 411.86 646.90)">(A)colon</text>
<line x1="414.69" y1="642.40" x2="414.69" y2="645.00" stroke="#333" stroke-width="0.75"/>
<text x="416.04" y="646.90" font-size="3.75" text-anchor="end" fill="#555" transform="rotate(-90 416.04 646.90)">ESC</text>
<line x1="418.87" y1="642.40" x2="418.87" y2="645.00" stroke="#333" stroke-width="0.75"/>
<text x="420.22" y="646.90" font-size="3.75" text-anchor="end" fill="#555" transform="rotate(-90 420.22 646.90)">common.myeloid.prog</text>
<line x1="423.05" y1="642.40" x2="423.05" y2="645.00" stroke="#333" stroke-width="0.75"/>
<text x="424.40" y="646.90" font-size="3.75" text-anchor="end" fill="#555" transform="rotate(-90 424.40 646.90)">monocyte</text>
<line x1="427.23" y1="642.40" x2="427.23" y2="645.00" stroke="#333" stroke-width="0.75"/>
<text x="428.58" y="646.90" font-size="3.75" text-anchor="end" fill="#555" transform="rotate(-90 428.58 646.90)">colon.adenocarcinoma</text>
<line x1="431.41" y1="642.40" x2="431.41" y2="645.00" stroke="#333" stroke-width="0.75"/>
<text x="432.76" y="646.90" font-size="3.75" text-anchor="end" fill="#555" transform="rotate(-90 432.76 646.90)">hemato.multi.progenitor_1</text>
<line x1="435.59" y1="642.40" x2="435.59" y2="645.00" stroke="#333" stroke-width="0.75"/>
<text x="436.94" y="646.90" font-size="3.75" text-anchor="end" fill="#555" transform="rotate(-90 436.94 646.90)">hemato.multi.progenitor_2</text>
<line x1="439.77" y1="642.40" x2="439.77" y2="645.00" stroke="#333" stroke-width="0.75"/>
<text x="441.12" y="646.90" font-size="3.75" text-anchor="end" fill="#555" transform="rotate(-90 441.12 646.90)">mammary.gland.epithelial</text>
<line x1="443.95" y1="642.40" x2="443.95" y2="645.00" stroke="#333" stroke-width="0.75"/>
<text x="445.30" y="646.90" font-size="3.75" text-anchor="end" fill="#555" transform="rotate(-90 445.30 646.90)">embryonal.carcinoma</text>
<line x1="448.13" y1="642.40" x2="448.13" y2="645.00" stroke="#333" stroke-width="0.75"/>
<text x="449.48" y="646.90" font-size="3.75" text-anchor="end" fill="#555" transform="rotate(-90 449.48 646.90)">(A)spleen</text>
<line x1="452.31" y1="642.40" x2="452.31" y2="645.00" stroke="#333" stroke-width="0.75"/>
<text x="453.66" y="646.90" font-size="3.75" text-anchor="end" fill="#555" transform="rotate(-90 453.66 646.90)">(E)liver</text>
<text x="240.06" y="557.90" font-size="7.95" text-anchor="middle" transform="rotate(-90 240.06 557.90)">TE enrichment in enhancers</text>
<text x="249.16" y="557.90" font-size="7.95" text-anchor="middle" transform="rotate(-90 249.16 557.90)">(fraction basepair)</text>
<text x="465.20" y="470.37" font-size="15.20" font-family='"Liberation Serif", serif' stroke="#000" stroke-width="0.3">I</text>
<rect x="557.40" y="455.80" width="9.10" height="9.30" fill="#6b788c" stroke="#444" stroke-width="0.3"/>
<rect x="557.40" y="465.80" width="9.10" height="7.80" fill="#f47b47" stroke="#444" stroke-width="0.3"/>
<rect x="617.30" y="455.80" width="9.10" height="9.30" fill="#8a9272" stroke="#444" stroke-width="0.3"/>
<rect x="617.30" y="465.80" width="9.10" height="7.80" fill="#f2d86a" stroke="#444" stroke-width="0.3"/>
<text x="569.00" y="462.79" font-size="4.70" textLength="45.00" lengthAdjust="spacingAndGlyphs">Conserved non−repeat</text>
<text x="569.00" y="472.59" font-size="4.70" textLength="44.00" lengthAdjust="spacingAndGlyphs">Not−conserved repeat</text>
<text x="629.30" y="462.79" font-size="4.70" textLength="54.20" lengthAdjust="spacingAndGlyphs">Not−conserved non−repeat</text>
<text x="629.30" y="472.59" font-size="4.70" textLength="35.60" lengthAdjust="spacingAndGlyphs">Conserved repeat</text>
<rect x="490.80" y="480.90" width="4.30" height="49.38" fill="#6b788c" stroke="#333" stroke-width="0.35"/>
<rect x="490.80" y="530.28" width="4.30" height="15.43" fill="#f47b47" stroke="#333" stroke-width="0.35"/>
<rect x="490.80" y="545.71" width="4.30" height="88.57" fill="#8a9272" stroke="#333" stroke-width="0.35"/>
<rect x="490.80" y="634.27" width="4.30" height="0.93" fill="#f2d86a" stroke="#333" stroke-width="0.2"/>
<rect x="495.10" y="480.90" width="4.30" height="40.58" fill="#6b788c" stroke="#333" stroke-width="0.35"/>
<rect x="495.10" y="521.48" width="4.30" height="17.28" fill="#f47b47" stroke="#333" stroke-width="0.35"/>
<rect x="495.10" y="538.76" width="4.30" height="95.51" fill="#8a9272" stroke="#333" stroke-width="0.35"/>
<rect x="495.10" y="634.27" width="4.30" height="0.93" fill="#f2d86a" stroke="#333" stroke-width="0.2"/>
<rect x="499.40" y="480.90" width="4.30" height="40.58" fill="#6b788c" stroke="#333" stroke-width="0.35"/>
<rect x="499.40" y="521.48" width="4.30" height="21.14" fill="#f47b47" stroke="#333" stroke-width="0.35"/>
<rect x="499.40" y="542.62" width="4.30" height="91.65" fill="#8a9272" stroke="#333" stroke-width="0.35"/>
<rect x="499.40" y="634.27" width="4.30" height="0.93" fill="#f2d86a" stroke="#333" stroke-width="0.2"/>
<rect x="503.70" y="480.90" width="4.30" height="37.80" fill="#6b788c" stroke="#333" stroke-width="0.35"/>
<rect x="503.70" y="518.70" width="4.30" height="17.28" fill="#f47b47" stroke="#333" stroke-width="0.35"/>
<rect x="503.70" y="535.99" width="4.30" height="98.29" fill="#8a9272" stroke="#333" stroke-width="0.35"/>
<rect x="503.70" y="634.27" width="4.30" height="0.93" fill="#f2d86a" stroke="#333" stroke-width="0.2"/>
<rect x="508.00" y="480.90" width="4.30" height="37.80" fill="#6b788c" stroke="#333" stroke-width="0.35"/>
<rect x="508.00" y="518.70" width="4.30" height="21.14" fill="#f47b47" stroke="#333" stroke-width="0.35"/>
<rect x="508.00" y="539.84" width="4.30" height="94.43" fill="#8a9272" stroke="#333" stroke-width="0.35"/>
<rect x="508.00" y="634.27" width="4.30" height="0.93" fill="#f2d86a" stroke="#333" stroke-width="0.2"/>
<rect x="512.30" y="480.90" width="4.30" height="33.64" fill="#6b788c" stroke="#333" stroke-width="0.35"/>
<rect x="512.30" y="514.54" width="4.30" height="19.13" fill="#f47b47" stroke="#333" stroke-width="0.35"/>
<rect x="512.30" y="533.67" width="4.30" height="100.60" fill="#8a9272" stroke="#333" stroke-width="0.35"/>
<rect x="512.30" y="634.27" width="4.30" height="0.93" fill="#f2d86a" stroke="#333" stroke-width="0.2"/>
<rect x="516.60" y="480.90" width="4.30" height="33.64" fill="#6b788c" stroke="#333" stroke-width="0.35"/>
<rect x="516.60" y="514.54" width="4.30" height="18.05" fill="#f47b47" stroke="#333" stroke-width="0.35"/>
<rect x="516.60" y="532.59" width="4.30" height="101.68" fill="#8a9272" stroke="#333" stroke-width="0.35"/>
<rect x="516.60" y="634.27" width="4.30" height="0.93" fill="#f2d86a" stroke="#333" stroke-width="0.2"/>
<rect x="520.90" y="480.90" width="4.30" height="32.87" fill="#6b788c" stroke="#333" stroke-width="0.35"/>
<rect x="520.90" y="513.77" width="4.30" height="19.90" fill="#f47b47" stroke="#333" stroke-width="0.35"/>
<rect x="520.90" y="533.67" width="4.30" height="100.60" fill="#8a9272" stroke="#333" stroke-width="0.35"/>
<rect x="520.90" y="634.27" width="4.30" height="0.93" fill="#f2d86a" stroke="#333" stroke-width="0.2"/>
<rect x="525.20" y="480.90" width="4.30" height="31.94" fill="#6b788c" stroke="#333" stroke-width="0.35"/>
<rect x="525.20" y="512.84" width="4.30" height="25.00" fill="#f47b47" stroke="#333" stroke-width="0.35"/>
<rect x="525.20" y="537.84" width="4.30" height="96.44" fill="#8a9272" stroke="#333" stroke-width="0.35"/>
<rect x="525.20" y="634.27" width="4.30" height="0.93" fill="#f2d86a" stroke="#333" stroke-width="0.2"/>
<rect x="529.50" y="480.90" width="4.30" height="30.86" fill="#6b788c" stroke="#333" stroke-width="0.35"/>
<rect x="529.50" y="511.76" width="4.30" height="23.61" fill="#f47b47" stroke="#333" stroke-width="0.35"/>
<rect x="529.50" y="535.37" width="4.30" height="98.91" fill="#8a9272" stroke="#333" stroke-width="0.35"/>
<rect x="529.50" y="634.27" width="4.30" height="0.93" fill="#f2d86a" stroke="#333" stroke-width="0.2"/>
<rect x="533.80" y="480.90" width="4.30" height="30.24" fill="#6b788c" stroke="#333" stroke-width="0.35"/>
<rect x="533.80" y="511.14" width="4.30" height="24.84" fill="#f47b47" stroke="#333" stroke-width="0.35"/>
<rect x="533.80" y="535.99" width="4.30" height="98.29" fill="#8a9272" stroke="#333" stroke-width="0.35"/>
<rect x="533.80" y="634.27" width="4.30" height="0.93" fill="#f2d86a" stroke="#333" stroke-width="0.2"/>
<rect x="538.10" y="480.90" width="4.30" height="28.39" fill="#6b788c" stroke="#333" stroke-width="0.35"/>
<rect x="538.10" y="509.29" width="4.30" height="22.53" fill="#f47b47" stroke="#333" stroke-width="0.35"/>
<rect x="538.10" y="531.82" width="4.30" height="102.46" fill="#8a9272" stroke="#333" stroke-width="0.35"/>
<rect x="538.10" y="634.27" width="4.30" height="0.93" fill="#f2d86a" stroke="#333" stroke-width="0.2"/>
<rect x="542.40" y="480.90" width="4.30" height="26.69" fill="#6b788c" stroke="#333" stroke-width="0.35"/>
<rect x="542.40" y="507.59" width="4.30" height="28.39" fill="#f47b47" stroke="#333" stroke-width="0.35"/>
<rect x="542.40" y="535.99" width="4.30" height="98.29" fill="#8a9272" stroke="#333" stroke-width="0.35"/>
<rect x="542.40" y="634.27" width="4.30" height="0.93" fill="#f2d86a" stroke="#333" stroke-width="0.2"/>
<rect x="546.70" y="480.90" width="4.30" height="26.08" fill="#6b788c" stroke="#333" stroke-width="0.35"/>
<rect x="546.70" y="506.98" width="4.30" height="29.47" fill="#f47b47" stroke="#333" stroke-width="0.35"/>
<rect x="546.70" y="536.45" width="4.30" height="97.83" fill="#8a9272" stroke="#333" stroke-width="0.35"/>
<rect x="546.70" y="634.27" width="4.30" height="0.93" fill="#f2d86a" stroke="#333" stroke-width="0.2"/>
<rect x="551.00" y="480.90" width="4.30" height="25.61" fill="#6b788c" stroke="#333" stroke-width="0.35"/>
<rect x="551.00" y="506.51" width="4.30" height="26.08" fill="#f47b47" stroke="#333" stroke-width="0.35"/>
<rect x="551.00" y="532.59" width="4.30" height="101.68" fill="#8a9272" stroke="#333" stroke-width="0.35"/>
<rect x="551.00" y="634.27" width="4.30" height="0.93" fill="#f2d86a" stroke="#333" stroke-width="0.2"/>
<rect x="555.30" y="480.90" width="4.30" height="24.23" fill="#6b788c" stroke="#333" stroke-width="0.35"/>
<rect x="555.30" y="505.13" width="4.30" height="37.49" fill="#f47b47" stroke="#333" stroke-width="0.35"/>
<rect x="555.30" y="542.62" width="4.30" height="91.65" fill="#8a9272" stroke="#333" stroke-width="0.35"/>
<rect x="555.30" y="634.27" width="4.30" height="0.93" fill="#f2d86a" stroke="#333" stroke-width="0.2"/>
<rect x="559.60" y="480.90" width="4.30" height="24.23" fill="#6b788c" stroke="#333" stroke-width="0.35"/>
<rect x="559.60" y="505.13" width="4.30" height="26.69" fill="#f47b47" stroke="#333" stroke-width="0.35"/>
<rect x="559.60" y="531.82" width="4.30" height="102.46" fill="#8a9272" stroke="#333" stroke-width="0.35"/>
<rect x="559.60" y="634.27" width="4.30" height="0.93" fill="#f2d86a" stroke="#333" stroke-width="0.2"/>
<rect x="563.90" y="480.90" width="4.30" height="21.45" fill="#6b788c" stroke="#333" stroke-width="0.35"/>
<rect x="563.90" y="502.35" width="4.30" height="36.41" fill="#f47b47" stroke="#333" stroke-width="0.35"/>
<rect x="563.90" y="538.76" width="4.30" height="95.51" fill="#8a9272" stroke="#333" stroke-width="0.35"/>
<rect x="563.90" y="634.27" width="4.30" height="0.93" fill="#f2d86a" stroke="#333" stroke-width="0.2"/>
<rect x="568.20" y="480.90" width="4.30" height="21.45" fill="#6b788c" stroke="#333" stroke-width="0.35"/>
<rect x="568.20" y="502.35" width="4.30" height="40.27" fill="#f47b47" stroke="#333" stroke-width="0.35"/>
<rect x="568.20" y="542.62" width="4.30" height="91.65" fill="#8a9272" stroke="#333" stroke-width="0.35"/>
<rect x="568.20" y="634.27" width="4.30" height="0.93" fill="#f2d86a" stroke="#333" stroke-width="0.2"/>
<rect x="572.50" y="480.90" width="4.30" height="20.52" fill="#6b788c" stroke="#333" stroke-width="0.35"/>
<rect x="572.50" y="501.42" width="4.30" height="37.34" fill="#f47b47" stroke="#333" stroke-width="0.35"/>
<rect x="572.50" y="538.76" width="4.30" height="95.51" fill="#8a9272" stroke="#333" stroke-width="0.35"/>
<rect x="572.50" y="634.27" width="4.30" height="0.93" fill="#f2d86a" stroke="#333" stroke-width="0.2"/>
<rect x="576.80" y="480.90" width="4.30" height="19.75" fill="#6b788c" stroke="#333" stroke-width="0.35"/>
<rect x="576.80" y="500.65" width="4.30" height="48.60" fill="#f47b47" stroke="#333" stroke-width="0.35"/>
<rect x="576.80" y="549.25" width="4.30" height="85.02" fill="#8a9272" stroke="#333" stroke-width="0.35"/>
<rect x="576.80" y="634.27" width="4.30" height="0.93" fill="#f2d86a" stroke="#333" stroke-width="0.2"/>
<rect x="581.10" y="480.90" width="4.30" height="19.75" fill="#6b788c" stroke="#333" stroke-width="0.35"/>
<rect x="581.10" y="500.65" width="4.30" height="38.11" fill="#f47b47" stroke="#333" stroke-width="0.35"/>
<rect x="581.10" y="538.76" width="4.30" height="95.51" fill="#8a9272" stroke="#333" stroke-width="0.35"/>
<rect x="581.10" y="634.27" width="4.30" height="0.93" fill="#f2d86a" stroke="#333" stroke-width="0.2"/>
<rect x="585.40" y="480.90" width="4.30" height="20.52" fill="#6b788c" stroke="#333" stroke-width="0.35"/>
<rect x="585.40" y="501.42" width="4.30" height="33.95" fill="#f47b47" stroke="#333" stroke-width="0.35"/>
<rect x="585.40" y="535.37" width="4.30" height="98.91" fill="#8a9272" stroke="#333" stroke-width="0.35"/>
<rect x="585.40" y="634.27" width="4.30" height="0.93" fill="#f2d86a" stroke="#333" stroke-width="0.2"/>
<rect x="589.70" y="480.90" width="4.30" height="19.13" fill="#6b788c" stroke="#333" stroke-width="0.35"/>
<rect x="589.70" y="500.03" width="4.30" height="49.84" fill="#f47b47" stroke="#333" stroke-width="0.35"/>
<rect x="589.70" y="549.87" width="4.30" height="84.40" fill="#8a9272" stroke="#333" stroke-width="0.35"/>
<rect x="589.70" y="634.27" width="4.30" height="0.93" fill="#f2d86a" stroke="#333" stroke-width="0.2"/>
<rect x="594.00" y="480.90" width="4.30" height="19.13" fill="#6b788c" stroke="#333" stroke-width="0.35"/>
<rect x="594.00" y="500.03" width="4.30" height="35.33" fill="#f47b47" stroke="#333" stroke-width="0.35"/>
<rect x="594.00" y="535.37" width="4.30" height="98.91" fill="#8a9272" stroke="#333" stroke-width="0.35"/>
<rect x="594.00" y="634.27" width="4.30" height="0.93" fill="#f2d86a" stroke="#333" stroke-width="0.2"/>
<rect x="598.30" y="480.90" width="4.30" height="18.05" fill="#6b788c" stroke="#333" stroke-width="0.35"/>
<rect x="598.30" y="498.95" width="4.30" height="45.21" fill="#f47b47" stroke="#333" stroke-width="0.35"/>
<rect x="598.30" y="544.16" width="4.30" height="90.11" fill="#8a9272" stroke="#333" stroke-width="0.35"/>
<rect x="598.30" y="634.27" width="4.30" height="0.93" fill="#f2d86a" stroke="#333" stroke-width="0.2"/>
<rect x="602.60" y="480.90" width="4.30" height="16.36" fill="#6b788c" stroke="#333" stroke-width="0.35"/>
<rect x="602.60" y="497.26" width="4.30" height="53.70" fill="#f47b47" stroke="#333" stroke-width="0.35"/>
<rect x="602.60" y="550.95" width="4.30" height="83.32" fill="#8a9272" stroke="#333" stroke-width="0.35"/>
<rect x="602.60" y="634.27" width="4.30" height="0.93" fill="#f2d86a" stroke="#333" stroke-width="0.2"/>
<rect x="606.90" y="480.90" width="4.30" height="16.97" fill="#6b788c" stroke="#333" stroke-width="0.35"/>
<rect x="606.90" y="497.87" width="4.30" height="47.83" fill="#f47b47" stroke="#333" stroke-width="0.35"/>
<rect x="606.90" y="545.71" width="4.30" height="88.57" fill="#8a9272" stroke="#333" stroke-width="0.35"/>
<rect x="606.90" y="634.27" width="4.30" height="0.93" fill="#f2d86a" stroke="#333" stroke-width="0.2"/>
<rect x="611.20" y="480.90" width="4.30" height="15.58" fill="#6b788c" stroke="#333" stroke-width="0.35"/>
<rect x="611.20" y="496.48" width="4.30" height="44.13" fill="#f47b47" stroke="#333" stroke-width="0.35"/>
<rect x="611.20" y="540.61" width="4.30" height="93.66" fill="#8a9272" stroke="#333" stroke-width="0.35"/>
<rect x="611.20" y="634.27" width="4.30" height="0.93" fill="#f2d86a" stroke="#333" stroke-width="0.2"/>
<rect x="615.50" y="480.90" width="4.30" height="15.58" fill="#6b788c" stroke="#333" stroke-width="0.35"/>
<rect x="615.50" y="496.48" width="4.30" height="46.14" fill="#f47b47" stroke="#333" stroke-width="0.35"/>
<rect x="615.50" y="542.62" width="4.30" height="91.65" fill="#8a9272" stroke="#333" stroke-width="0.35"/>
<rect x="615.50" y="634.27" width="4.30" height="0.93" fill="#f2d86a" stroke="#333" stroke-width="0.2"/>
<rect x="619.80" y="480.90" width="4.30" height="15.58" fill="#6b788c" stroke="#333" stroke-width="0.35"/>
<rect x="619.80" y="496.48" width="4.30" height="46.14" fill="#f47b47" stroke="#333" stroke-width="0.35"/>
<rect x="619.80" y="542.62" width="4.30" height="91.65" fill="#8a9272" stroke="#333" stroke-width="0.35"/>
<rect x="619.80" y="634.27" width="4.30" height="0.93" fill="#f2d86a" stroke="#333" stroke-width="0.2"/>
<rect x="624.10" y="480.90" width="4.30" height="15.58" fill="#6b788c" stroke="#333" stroke-width="0.35"/>
<rect x="624.10" y="496.48" width="4.30" height="40.58" fill="#f47b47" stroke="#333" stroke-width="0.35"/>
<rect x="624.10" y="537.07" width="4.30" height="97.21" fill="#8a9272" stroke="#333" stroke-width="0.35"/>
<rect x="624.10" y="634.27" width="4.30" height="0.93" fill="#f2d86a" stroke="#333" stroke-width="0.2"/>
<rect x="628.40" y="480.90" width="4.30" height="14.50" fill="#6b788c" stroke="#333" stroke-width="0.35"/>
<rect x="628.40" y="495.40" width="4.30" height="49.68" fill="#f47b47" stroke="#333" stroke-width="0.35"/>
<rect x="628.40" y="545.09" width="4.30" height="89.19" fill="#8a9272" stroke="#333" stroke-width="0.35"/>
<rect x="628.40" y="634.27" width="4.30" height="0.93" fill="#f2d86a" stroke="#333" stroke-width="0.2"/>
<rect x="632.70" y="480.90" width="4.30" height="14.50" fill="#6b788c" stroke="#333" stroke-width="0.35"/>
<rect x="632.70" y="495.40" width="4.30" height="48.76" fill="#f47b47" stroke="#333" stroke-width="0.35"/>
<rect x="632.70" y="544.16" width="4.30" height="90.11" fill="#8a9272" stroke="#333" stroke-width="0.35"/>
<rect x="632.70" y="634.27" width="4.30" height="0.93" fill="#f2d86a" stroke="#333" stroke-width="0.2"/>
<rect x="637.00" y="480.90" width="4.30" height="13.89" fill="#6b788c" stroke="#333" stroke-width="0.35"/>
<rect x="637.00" y="494.79" width="4.30" height="42.28" fill="#f47b47" stroke="#333" stroke-width="0.35"/>
<rect x="637.00" y="537.07" width="4.30" height="97.21" fill="#8a9272" stroke="#333" stroke-width="0.35"/>
<rect x="637.00" y="634.27" width="4.30" height="0.93" fill="#f2d86a" stroke="#333" stroke-width="0.2"/>
<rect x="641.30" y="480.90" width="4.30" height="14.50" fill="#6b788c" stroke="#333" stroke-width="0.35"/>
<rect x="641.30" y="495.40" width="4.30" height="52.00" fill="#f47b47" stroke="#333" stroke-width="0.35"/>
<rect x="641.30" y="547.40" width="4.30" height="86.87" fill="#8a9272" stroke="#333" stroke-width="0.35"/>
<rect x="641.30" y="634.27" width="4.30" height="0.93" fill="#f2d86a" stroke="#333" stroke-width="0.2"/>
<rect x="645.60" y="480.90" width="4.30" height="13.73" fill="#6b788c" stroke="#333" stroke-width="0.35"/>
<rect x="645.60" y="494.63" width="4.30" height="63.42" fill="#f47b47" stroke="#333" stroke-width="0.35"/>
<rect x="645.60" y="558.05" width="4.30" height="76.22" fill="#8a9272" stroke="#333" stroke-width="0.35"/>
<rect x="645.60" y="634.27" width="4.30" height="0.93" fill="#f2d86a" stroke="#333" stroke-width="0.2"/>
<rect x="649.90" y="480.90" width="4.30" height="14.04" fill="#6b788c" stroke="#333" stroke-width="0.35"/>
<rect x="649.90" y="494.94" width="4.30" height="42.12" fill="#f47b47" stroke="#333" stroke-width="0.35"/>
<rect x="649.90" y="537.07" width="4.30" height="97.21" fill="#8a9272" stroke="#333" stroke-width="0.35"/>
<rect x="649.90" y="634.27" width="4.30" height="0.93" fill="#f2d86a" stroke="#333" stroke-width="0.2"/>
<rect x="654.20" y="480.90" width="4.30" height="12.34" fill="#6b788c" stroke="#333" stroke-width="0.35"/>
<rect x="654.20" y="493.24" width="4.30" height="61.10" fill="#f47b47" stroke="#333" stroke-width="0.35"/>
<rect x="654.20" y="554.35" width="4.30" height="79.93" fill="#8a9272" stroke="#333" stroke-width="0.35"/>
<rect x="654.20" y="634.27" width="4.30" height="0.93" fill="#f2d86a" stroke="#333" stroke-width="0.2"/>
<rect x="658.50" y="480.90" width="4.30" height="12.65" fill="#6b788c" stroke="#333" stroke-width="0.35"/>
<rect x="658.50" y="493.55" width="4.30" height="40.12" fill="#f47b47" stroke="#333" stroke-width="0.35"/>
<rect x="658.50" y="533.67" width="4.30" height="100.60" fill="#8a9272" stroke="#333" stroke-width="0.35"/>
<rect x="658.50" y="634.27" width="4.30" height="0.93" fill="#f2d86a" stroke="#333" stroke-width="0.2"/>
<rect x="662.80" y="480.90" width="4.30" height="11.11" fill="#6b788c" stroke="#333" stroke-width="0.35"/>
<rect x="662.80" y="492.01" width="4.30" height="66.04" fill="#f47b47" stroke="#333" stroke-width="0.35"/>
<rect x="662.80" y="558.05" width="4.30" height="76.22" fill="#8a9272" stroke="#333" stroke-width="0.35"/>
<rect x="662.80" y="634.27" width="4.30" height="0.93" fill="#f2d86a" stroke="#333" stroke-width="0.2"/>
<rect x="667.10" y="480.90" width="4.30" height="11.26" fill="#6b788c" stroke="#333" stroke-width="0.35"/>
<rect x="667.10" y="492.16" width="4.30" height="64.03" fill="#f47b47" stroke="#333" stroke-width="0.35"/>
<rect x="667.10" y="556.20" width="4.30" height="78.08" fill="#8a9272" stroke="#333" stroke-width="0.35"/>
<rect x="667.10" y="634.27" width="4.30" height="0.93" fill="#f2d86a" stroke="#333" stroke-width="0.2"/>
<rect x="671.40" y="480.90" width="4.30" height="12.04" fill="#6b788c" stroke="#333" stroke-width="0.35"/>
<rect x="671.40" y="492.94" width="4.30" height="51.23" fill="#f47b47" stroke="#333" stroke-width="0.35"/>
<rect x="671.40" y="544.16" width="4.30" height="90.11" fill="#8a9272" stroke="#333" stroke-width="0.35"/>
<rect x="671.40" y="634.27" width="4.30" height="0.93" fill="#f2d86a" stroke="#333" stroke-width="0.2"/>
<rect x="675.70" y="480.90" width="4.30" height="10.34" fill="#6b788c" stroke="#333" stroke-width="0.35"/>
<rect x="675.70" y="491.24" width="4.30" height="71.13" fill="#f47b47" stroke="#333" stroke-width="0.35"/>
<rect x="675.70" y="562.37" width="4.30" height="71.90" fill="#8a9272" stroke="#333" stroke-width="0.35"/>
<rect x="675.70" y="634.27" width="4.30" height="0.93" fill="#f2d86a" stroke="#333" stroke-width="0.2"/>
<rect x="680.00" y="480.90" width="4.30" height="10.34" fill="#6b788c" stroke="#333" stroke-width="0.35"/>
<rect x="680.00" y="491.24" width="4.30" height="54.47" fill="#f47b47" stroke="#333" stroke-width="0.35"/>
<rect x="680.00" y="545.71" width="4.30" height="88.57" fill="#8a9272" stroke="#333" stroke-width="0.35"/>
<rect x="680.00" y="634.27" width="4.30" height="0.93" fill="#f2d86a" stroke="#333" stroke-width="0.2"/>
<line x1="490.50" y1="479.00" x2="490.50" y2="643.00" stroke="#1a1a1a" stroke-width="1.0"/>
<line x1="490.00" y1="642.50" x2="685.00" y2="642.50" stroke="#1a1a1a" stroke-width="1.0"/>
<line x1="487.30" y1="635.20" x2="490.50" y2="635.20" stroke="#333" stroke-width="0.75"/>
<text x="486.20" y="637.58" font-size="6.60" text-anchor="end" fill="#3d3d3d">0.00</text>
<line x1="487.30" y1="596.62" x2="490.50" y2="596.62" stroke="#333" stroke-width="0.75"/>
<text x="486.20" y="599.00" font-size="6.60" text-anchor="end" fill="#3d3d3d">0.25</text>
<line x1="487.30" y1="558.05" x2="490.50" y2="558.05" stroke="#333" stroke-width="0.75"/>
<text x="486.20" y="560.43" font-size="6.60" text-anchor="end" fill="#3d3d3d">0.50</text>
<line x1="487.30" y1="519.48" x2="490.50" y2="519.48" stroke="#333" stroke-width="0.75"/>
<text x="486.20" y="521.85" font-size="6.60" text-anchor="end" fill="#3d3d3d">0.75</text>
<line x1="487.30" y1="480.90" x2="490.50" y2="480.90" stroke="#333" stroke-width="0.75"/>
<text x="486.20" y="483.28" font-size="6.60" text-anchor="end" fill="#3d3d3d">1.00</text>
<line x1="492.95" y1="642.50" x2="492.95" y2="645.20" stroke="#333" stroke-width="0.75"/>
<text x="494.43" y="647.00" font-size="4.10" text-anchor="end" fill="#555" transform="rotate(-90 494.43 647.00)">(E)brain_3</text>
<line x1="497.25" y1="642.50" x2="497.25" y2="645.20" stroke="#333" stroke-width="0.75"/>
<text x="498.73" y="647.00" font-size="4.10" text-anchor="end" fill="#555" transform="rotate(-90 498.73 647.00)">(E)brain_2</text>
<line x1="501.55" y1="642.50" x2="501.55" y2="645.20" stroke="#333" stroke-width="0.75"/>
<text x="503.03" y="647.00" font-size="4.10" text-anchor="end" fill="#555" transform="rotate(-90 503.03 647.00)">(E)brain_1</text>
<line x1="505.85" y1="642.50" x2="505.85" y2="645.20" stroke="#333" stroke-width="0.75"/>
<text x="507.33" y="647.00" font-size="4.10" text-anchor="end" fill="#555" transform="rotate(-90 507.33 647.00)">emb.facial.prominence</text>
<line x1="510.15" y1="642.50" x2="510.15" y2="645.20" stroke="#333" stroke-width="0.75"/>
<text x="511.63" y="647.00" font-size="4.10" text-anchor="end" fill="#555" transform="rotate(-90 511.63 647.00)">(E)retina</text>
<line x1="514.45" y1="642.50" x2="514.45" y2="645.20" stroke="#333" stroke-width="0.75"/>
<text x="515.93" y="647.00" font-size="4.10" text-anchor="end" fill="#555" transform="rotate(-90 515.93 647.00)">(E)limb_2</text>
<line x1="518.75" y1="642.50" x2="518.75" y2="645.20" stroke="#333" stroke-width="0.75"/>
<text x="520.23" y="647.00" font-size="4.10" text-anchor="end" fill="#555" transform="rotate(-90 520.23 647.00)">(E)limb_1</text>
<line x1="523.05" y1="642.50" x2="523.05" y2="645.20" stroke="#333" stroke-width="0.75"/>
<text x="524.53" y="647.00" font-size="4.10" text-anchor="end" fill="#555" transform="rotate(-90 524.53 647.00)">ESC−&gt;neuronal.stem</text>
<line x1="527.35" y1="642.50" x2="527.35" y2="645.20" stroke="#333" stroke-width="0.75"/>
<text x="528.83" y="647.00" font-size="4.10" text-anchor="end" fill="#555" transform="rotate(-90 528.83 647.00)">BMMC derived iPSC</text>
<line x1="531.65" y1="642.50" x2="531.65" y2="645.20" stroke="#333" stroke-width="0.75"/>
<text x="533.13" y="647.00" font-size="4.10" text-anchor="end" fill="#555" transform="rotate(-90 533.13 647.00)">(E)muscle</text>
<line x1="535.95" y1="642.50" x2="535.95" y2="645.20" stroke="#333" stroke-width="0.75"/>
<text x="537.43" y="647.00" font-size="4.10" text-anchor="end" fill="#555" transform="rotate(-90 537.43 647.00)">(A)heart</text>
<line x1="540.25" y1="642.50" x2="540.25" y2="645.20" stroke="#333" stroke-width="0.75"/>
<text x="541.73" y="647.00" font-size="4.10" text-anchor="end" fill="#555" transform="rotate(-90 541.73 647.00)">(E)kidney</text>
<line x1="544.55" y1="642.50" x2="544.55" y2="645.20" stroke="#333" stroke-width="0.75"/>
<text x="546.03" y="647.00" font-size="4.10" text-anchor="end" fill="#555" transform="rotate(-90 546.03 647.00)">(A)brain_1</text>
<line x1="548.85" y1="642.50" x2="548.85" y2="645.20" stroke="#333" stroke-width="0.75"/>
<text x="550.33" y="647.00" font-size="4.10" text-anchor="end" fill="#555" transform="rotate(-90 550.33 647.00)">(A)brain_2</text>
<line x1="553.15" y1="642.50" x2="553.15" y2="645.20" stroke="#333" stroke-width="0.75"/>
<text x="554.63" y="647.00" font-size="4.10" text-anchor="end" fill="#555" transform="rotate(-90 554.63 647.00)">(E)lung_1</text>
<line x1="557.45" y1="642.50" x2="557.45" y2="645.20" stroke="#333" stroke-width="0.75"/>
<text x="558.93" y="647.00" font-size="4.10" text-anchor="end" fill="#555" transform="rotate(-90 558.93 647.00)">astrocyte</text>
<line x1="561.75" y1="642.50" x2="561.75" y2="645.20" stroke="#333" stroke-width="0.75"/>
<text x="563.23" y="647.00" font-size="4.10" text-anchor="end" fill="#555" transform="rotate(-90 563.23 647.00)">(E)lung_2</text>
<line x1="566.05" y1="642.50" x2="566.05" y2="645.20" stroke="#333" stroke-width="0.75"/>
<text x="567.53" y="647.00" font-size="4.10" text-anchor="end" fill="#555" transform="rotate(-90 567.53 647.00)">(A)muscle</text>
<line x1="570.35" y1="642.50" x2="570.35" y2="645.20" stroke="#333" stroke-width="0.75"/>
<text x="571.83" y="647.00" font-size="4.10" text-anchor="end" fill="#555" transform="rotate(-90 571.83 647.00)">stromal.cell</text>
<line x1="574.65" y1="642.50" x2="574.65" y2="645.20" stroke="#333" stroke-width="0.75"/>
<text x="576.13" y="647.00" font-size="4.10" text-anchor="end" fill="#555" transform="rotate(-90 576.13 647.00)">(A)lung</text>
<line x1="578.95" y1="642.50" x2="578.95" y2="645.20" stroke="#333" stroke-width="0.75"/>
<text x="580.43" y="647.00" font-size="4.10" text-anchor="end" fill="#555" transform="rotate(-90 580.43 647.00)">fibroblast_1</text>
<line x1="583.25" y1="642.50" x2="583.25" y2="645.20" stroke="#333" stroke-width="0.75"/>
<text x="584.73" y="647.00" font-size="4.10" text-anchor="end" fill="#555" transform="rotate(-90 584.73 647.00)">ESC−&gt;cardiac.muscle.cell</text>
<line x1="587.55" y1="642.50" x2="587.55" y2="645.20" stroke="#333" stroke-width="0.75"/>
<text x="589.03" y="647.00" font-size="4.10" text-anchor="end" fill="#555" transform="rotate(-90 589.03 647.00)">(A)adrenal.gland</text>
<line x1="591.85" y1="642.50" x2="591.85" y2="645.20" stroke="#333" stroke-width="0.75"/>
<text x="593.33" y="647.00" font-size="4.10" text-anchor="end" fill="#555" transform="rotate(-90 593.33 647.00)">retinoblastoma</text>
<line x1="596.15" y1="642.50" x2="596.15" y2="645.20" stroke="#333" stroke-width="0.75"/>
<text x="597.63" y="647.00" font-size="4.10" text-anchor="end" fill="#555" transform="rotate(-90 597.63 647.00)">neuroblastoma</text>
<line x1="600.45" y1="642.50" x2="600.45" y2="645.20" stroke="#333" stroke-width="0.75"/>
<text x="601.93" y="647.00" font-size="4.10" text-anchor="end" fill="#555" transform="rotate(-90 601.93 647.00)">(A)ovary</text>
<line x1="604.75" y1="642.50" x2="604.75" y2="645.20" stroke="#333" stroke-width="0.75"/>
<text x="606.23" y="647.00" font-size="4.10" text-anchor="end" fill="#555" transform="rotate(-90 606.23 647.00)">(A)T−cell_1</text>
<line x1="609.05" y1="642.50" x2="609.05" y2="645.20" stroke="#333" stroke-width="0.75"/>
<text x="610.53" y="647.00" font-size="4.10" text-anchor="end" fill="#555" transform="rotate(-90 610.53 647.00)">(E)thymus_1</text>
<line x1="613.35" y1="642.50" x2="613.35" y2="645.20" stroke="#333" stroke-width="0.75"/>
<text x="614.83" y="647.00" font-size="4.10" text-anchor="end" fill="#555" transform="rotate(-90 614.83 647.00)">(E)thymus_2</text>
<line x1="617.65" y1="642.50" x2="617.65" y2="645.20" stroke="#333" stroke-width="0.75"/>
<text x="619.13" y="647.00" font-size="4.10" text-anchor="end" fill="#555" transform="rotate(-90 619.13 647.00)">(A)placenta_1</text>
<line x1="621.95" y1="642.50" x2="621.95" y2="645.20" stroke="#333" stroke-width="0.75"/>
<text x="623.43" y="647.00" font-size="4.10" text-anchor="end" fill="#555" transform="rotate(-90 623.43 647.00)">(A)stomach</text>
<line x1="626.25" y1="642.50" x2="626.25" y2="645.20" stroke="#333" stroke-width="0.75"/>
<text x="627.73" y="647.00" font-size="4.10" text-anchor="end" fill="#555" transform="rotate(-90 627.73 647.00)">(A)liver</text>
<line x1="630.55" y1="642.50" x2="630.55" y2="645.20" stroke="#333" stroke-width="0.75"/>
<text x="632.03" y="647.00" font-size="4.10" text-anchor="end" fill="#555" transform="rotate(-90 632.03 647.00)">(A)T−cell_3</text>
<line x1="634.85" y1="642.50" x2="634.85" y2="645.20" stroke="#333" stroke-width="0.75"/>
<text x="636.33" y="647.00" font-size="4.10" text-anchor="end" fill="#555" transform="rotate(-90 636.33 647.00)">(E)thymus_3</text>
<line x1="639.15" y1="642.50" x2="639.15" y2="645.20" stroke="#333" stroke-width="0.75"/>
<text x="640.63" y="647.00" font-size="4.10" text-anchor="end" fill="#555" transform="rotate(-90 640.63 647.00)">(A)colon</text>
<line x1="643.45" y1="642.50" x2="643.45" y2="645.20" stroke="#333" stroke-width="0.75"/>
<text x="644.93" y="647.00" font-size="4.10" text-anchor="end" fill="#555" transform="rotate(-90 644.93 647.00)">ESC</text>
<line x1="647.75" y1="642.50" x2="647.75" y2="645.20" stroke="#333" stroke-width="0.75"/>
<text x="649.23" y="647.00" font-size="4.10" text-anchor="end" fill="#555" transform="rotate(-90 649.23 647.00)">common.myeloid.prog</text>
<line x1="652.05" y1="642.50" x2="652.05" y2="645.20" stroke="#333" stroke-width="0.75"/>
<text x="653.53" y="647.00" font-size="4.10" text-anchor="end" fill="#555" transform="rotate(-90 653.53 647.00)">monocyte</text>
<line x1="656.35" y1="642.50" x2="656.35" y2="645.20" stroke="#333" stroke-width="0.75"/>
<text x="657.83" y="647.00" font-size="4.10" text-anchor="end" fill="#555" transform="rotate(-90 657.83 647.00)">colon.adenocarcinoma</text>
<line x1="660.65" y1="642.50" x2="660.65" y2="645.20" stroke="#333" stroke-width="0.75"/>
<text x="662.13" y="647.00" font-size="4.10" text-anchor="end" fill="#555" transform="rotate(-90 662.13 647.00)">hemato.multi.progenitor_1</text>
<line x1="664.95" y1="642.50" x2="664.95" y2="645.20" stroke="#333" stroke-width="0.75"/>
<text x="666.43" y="647.00" font-size="4.10" text-anchor="end" fill="#555" transform="rotate(-90 666.43 647.00)">hemato.multi.progenitor_2</text>
<line x1="669.25" y1="642.50" x2="669.25" y2="645.20" stroke="#333" stroke-width="0.75"/>
<text x="670.73" y="647.00" font-size="4.10" text-anchor="end" fill="#555" transform="rotate(-90 670.73 647.00)">mammary.gland.epithelial</text>
<line x1="673.55" y1="642.50" x2="673.55" y2="645.20" stroke="#333" stroke-width="0.75"/>
<text x="675.03" y="647.00" font-size="4.10" text-anchor="end" fill="#555" transform="rotate(-90 675.03 647.00)">embryonal.carcinoma</text>
<line x1="677.85" y1="642.50" x2="677.85" y2="645.20" stroke="#333" stroke-width="0.75"/>
<text x="679.33" y="647.00" font-size="4.10" text-anchor="end" fill="#555" transform="rotate(-90 679.33 647.00)">(A)spleen</text>
<line x1="682.15" y1="642.50" x2="682.15" y2="645.20" stroke="#333" stroke-width="0.75"/>
<text x="683.63" y="647.00" font-size="4.10" text-anchor="end" fill="#555" transform="rotate(-90 683.63 647.00)">(E)liver</text>
<text x="470.01" y="557.60" font-size="7.80" text-anchor="middle" transform="rotate(-90 470.01 557.60)">Fraction of enhancers</text>
</svg></body></html>
